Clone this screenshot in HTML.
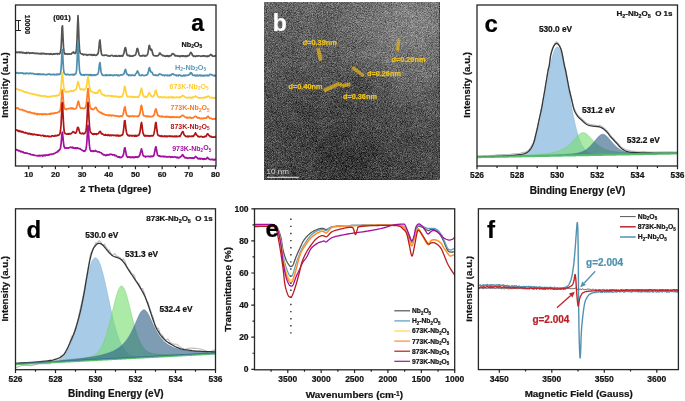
<!DOCTYPE html>
<html><head><meta charset="utf-8"><style>
html,body{margin:0;padding:0;background:#fff;}
svg{display:block;filter:blur(0.35px);}
text{font-family:"Liberation Sans", sans-serif;white-space:pre;}
</style></head><body>
<svg width="685" height="401" viewBox="0 0 685 401">
<rect width="685" height="401" fill="#fff"/>
<g clip-path="url(#clipa)">
<path d="M16.00,52.19 L16.50,52.06 L17.00,52.53 L17.50,52.04 L18.00,52.48 L18.50,52.36 L19.00,52.10 L19.50,52.53 L20.00,52.14 L20.50,52.52 L21.00,52.22 L21.50,52.26 L22.00,52.59 L22.50,52.98 L23.00,52.37 L23.50,52.49 L24.00,52.88 L24.50,53.19 L25.00,52.88 L25.50,52.75 L26.00,53.29 L26.50,52.48 L27.00,53.24 L27.50,52.75 L28.00,52.65 L28.50,52.65 L29.00,52.85 L29.50,53.33 L30.00,52.78 L30.50,53.17 L31.00,53.25 L31.50,53.03 L32.00,53.22 L32.50,52.81 L33.00,52.83 L33.50,52.99 L34.00,53.44 L34.50,53.24 L35.00,53.16 L35.50,53.43 L36.00,53.34 L36.50,53.22 L37.00,53.70 L37.50,53.64 L38.00,53.25 L38.50,53.57 L39.00,53.56 L39.50,53.90 L40.00,53.79 L40.50,53.41 L41.00,54.05 L41.50,53.29 L42.00,53.58 L42.50,53.90 L43.00,53.37 L43.50,53.69 L44.00,53.30 L44.50,53.89 L45.00,53.99 L45.50,53.83 L46.00,54.12 L46.50,53.63 L47.00,53.99 L47.50,53.92 L48.00,53.92 L48.50,53.82 L49.00,54.18 L49.50,54.29 L50.00,53.88 L50.50,54.07 L51.00,53.54 L51.50,54.13 L52.00,54.09 L52.50,54.42 L53.00,54.28 L53.50,53.80 L54.00,53.90 L54.50,54.17 L55.00,53.59 L55.50,53.99 L56.00,53.73 L56.50,53.68 L57.00,53.62 L57.50,54.24 L58.00,53.63 L58.50,53.69 L59.00,53.73 L59.50,54.02 L60.00,52.97 L60.50,52.16 L61.00,48.50 L61.50,40.16 L62.00,27.74 L62.50,25.75 L63.00,37.30 L63.50,47.13 L64.00,51.68 L64.50,53.65 L65.00,54.16 L65.50,53.62 L66.00,53.75 L66.50,53.88 L67.00,53.93 L67.50,54.20 L68.00,54.31 L68.50,54.03 L69.00,53.79 L69.50,54.13 L70.00,54.01 L70.50,54.04 L71.00,54.16 L71.50,53.62 L72.00,53.08 L72.50,52.76 L73.00,52.50 L73.50,51.94 L74.00,52.95 L74.50,53.15 L75.00,53.43 L75.50,53.32 L76.00,52.13 L76.50,48.88 L77.00,40.24 L77.50,26.65 L78.00,15.64 L78.50,26.21 L79.00,40.47 L79.50,48.92 L80.00,52.50 L80.50,53.31 L81.00,53.63 L81.50,53.95 L82.00,54.04 L82.50,54.36 L83.00,54.13 L83.50,54.95 L84.00,54.76 L84.50,54.37 L85.00,54.50 L85.50,54.61 L86.00,54.65 L86.50,54.46 L87.00,55.13 L87.50,55.28 L88.00,54.82 L88.50,54.86 L89.00,54.51 L89.50,54.54 L90.00,54.77 L90.50,54.72 L91.00,55.24 L91.50,54.66 L92.00,54.55 L92.50,55.40 L93.00,55.03 L93.50,54.70 L94.00,55.06 L94.50,54.60 L95.00,55.05 L95.50,55.44 L96.00,55.32 L96.50,55.12 L97.00,54.63 L97.50,54.46 L98.00,53.41 L98.50,51.60 L99.00,46.84 L99.50,41.27 L100.00,39.99 L100.50,45.47 L101.00,50.99 L101.50,53.95 L102.00,54.96 L102.50,55.29 L103.00,55.46 L103.50,55.47 L104.00,55.07 L104.50,55.39 L105.00,55.28 L105.50,55.02 L106.00,55.05 L106.50,55.31 L107.00,55.32 L107.50,55.73 L108.00,55.99 L108.50,55.56 L109.00,56.02 L109.50,56.09 L110.00,56.08 L110.50,55.57 L111.00,55.46 L111.50,55.48 L112.00,55.47 L112.50,55.50 L113.00,55.89 L113.50,56.16 L114.00,56.12 L114.50,55.82 L115.00,55.99 L115.50,56.12 L116.00,55.48 L116.50,56.00 L117.00,56.22 L117.50,56.10 L118.00,56.07 L118.50,55.82 L119.00,55.55 L119.50,56.09 L120.00,55.67 L120.50,56.08 L121.00,56.21 L121.50,55.67 L122.00,55.62 L122.50,56.02 L123.00,55.55 L123.50,54.33 L124.00,52.75 L124.50,50.25 L125.00,48.05 L125.50,47.55 L126.00,49.65 L126.50,52.95 L127.00,54.84 L127.50,55.40 L128.00,55.45 L128.50,55.75 L129.00,55.43 L129.50,55.35 L130.00,56.24 L130.50,55.96 L131.00,55.86 L131.50,56.22 L132.00,55.77 L132.50,56.16 L133.00,56.10 L133.50,55.53 L134.00,55.52 L134.50,55.47 L135.00,55.18 L135.50,54.88 L136.00,53.31 L136.50,51.38 L137.00,48.65 L137.50,48.39 L138.00,49.83 L138.50,52.34 L139.00,54.21 L139.50,55.48 L140.00,55.48 L140.50,56.09 L141.00,55.78 L141.50,55.84 L142.00,55.86 L142.50,55.41 L143.00,55.80 L143.50,55.56 L144.00,55.40 L144.50,56.10 L145.00,55.51 L145.50,55.75 L146.00,55.92 L146.50,55.64 L147.00,55.11 L147.50,54.44 L148.00,52.65 L148.50,49.87 L149.00,45.81 L149.50,45.47 L150.00,47.66 L150.50,49.53 L151.00,50.13 L151.50,49.31 L152.00,50.54 L152.50,52.82 L153.00,54.59 L153.50,55.10 L154.00,55.68 L154.50,55.74 L155.00,55.81 L155.50,56.01 L156.00,55.80 L156.50,55.86 L157.00,55.74 L157.50,56.00 L158.00,55.47 L158.50,55.14 L159.00,54.52 L159.50,53.18 L160.00,53.07 L160.50,53.81 L161.00,54.46 L161.50,54.51 L162.00,55.00 L162.50,55.62 L163.00,55.46 L163.50,55.70 L164.00,55.59 L164.50,56.14 L165.00,56.26 L165.50,56.37 L166.00,55.71 L166.50,56.22 L167.00,56.17 L167.50,55.70 L168.00,56.36 L168.50,56.43 L169.00,55.73 L169.50,56.33 L170.00,55.72 L170.50,55.58 L171.00,55.69 L171.50,55.07 L172.00,53.90 L172.50,53.65 L173.00,53.67 L173.50,53.96 L174.00,54.40 L174.50,55.02 L175.00,55.76 L175.50,55.37 L176.00,55.99 L176.50,55.96 L177.00,55.62 L177.50,55.92 L178.00,56.20 L178.50,56.11 L179.00,55.71 L179.50,56.55 L180.00,56.37 L180.50,56.54 L181.00,55.77 L181.50,55.91 L182.00,55.71 L182.50,56.38 L183.00,55.92 L183.50,55.80 L184.00,56.06 L184.50,56.50 L185.00,56.42 L185.50,55.91 L186.00,55.80 L186.50,56.49 L187.00,56.16 L187.50,56.25 L188.00,55.65 L188.50,55.47 L189.00,55.69 L189.50,54.79 L190.00,53.45 L190.50,53.06 L191.00,52.34 L191.50,53.40 L192.00,53.92 L192.50,55.50 L193.00,55.32 L193.50,56.29 L194.00,56.03 L194.50,55.97 L195.00,56.19 L195.50,56.54 L196.00,55.96 L196.50,55.84 L197.00,56.21 L197.50,55.96 L198.00,55.85 L198.50,55.90 L199.00,55.80 L199.50,55.94 L200.00,56.04 L200.50,56.04 L201.00,56.45 L201.50,56.03 L202.00,56.22 L202.50,55.93 L203.00,56.09 L203.50,55.79 L204.00,56.00 L204.50,55.79 L205.00,56.44 L205.50,56.28 L206.00,55.95 L206.50,56.20 L207.00,56.61 L207.50,55.85 L208.00,56.47 L208.50,56.05 L209.00,55.93 L209.50,55.90 L210.00,55.00 L210.50,54.52 L211.00,54.46 L211.50,55.18 L212.00,55.18 L212.50,56.07 L213.00,56.22 L213.50,56.29 L214.00,56.14 L214.50,56.11 L215.00,55.86 L215.50,55.93" fill="none" stroke="#555555" stroke-width="1.7" stroke-linejoin="round" stroke-linecap="round"/>
<path d="M16.00,72.56 L16.50,73.19 L17.00,72.78 L17.50,72.72 L18.00,72.68 L18.50,73.38 L19.00,73.44 L19.50,73.28 L20.00,72.96 L20.50,72.95 L21.00,73.02 L21.50,73.20 L22.00,72.95 L22.50,73.24 L23.00,73.10 L23.50,73.75 L24.00,73.79 L24.50,73.43 L25.00,73.18 L25.50,73.86 L26.00,73.29 L26.50,73.36 L27.00,73.07 L27.50,73.44 L28.00,73.55 L28.50,73.60 L29.00,73.35 L29.50,73.65 L30.00,73.23 L30.50,73.49 L31.00,73.36 L31.50,73.66 L32.00,73.36 L32.50,73.37 L33.00,73.65 L33.50,73.61 L34.00,73.96 L34.50,73.93 L35.00,74.16 L35.50,74.10 L36.00,74.18 L36.50,74.35 L37.00,73.93 L37.50,73.90 L38.00,74.52 L38.50,73.79 L39.00,74.34 L39.50,74.29 L40.00,73.78 L40.50,74.50 L41.00,74.57 L41.50,74.35 L42.00,74.46 L42.50,74.54 L43.00,73.95 L43.50,74.31 L44.00,74.31 L44.50,74.62 L45.00,74.60 L45.50,74.64 L46.00,74.43 L46.50,74.73 L47.00,74.55 L47.50,74.57 L48.00,74.17 L48.50,74.00 L49.00,74.11 L49.50,74.33 L50.00,74.11 L50.50,74.78 L51.00,74.54 L51.50,74.62 L52.00,74.63 L52.50,74.69 L53.00,74.52 L53.50,74.10 L54.00,74.82 L54.50,74.78 L55.00,74.57 L55.50,74.60 L56.00,74.71 L56.50,74.17 L57.00,74.77 L57.50,74.32 L58.00,74.13 L58.50,74.26 L59.00,74.60 L59.50,74.01 L60.00,74.19 L60.50,73.39 L61.00,69.67 L61.50,61.99 L62.00,51.23 L62.50,49.63 L63.00,60.29 L63.50,68.66 L64.00,72.71 L64.50,73.51 L65.00,73.96 L65.50,74.21 L66.00,74.75 L66.50,74.42 L67.00,74.70 L67.50,74.23 L68.00,74.30 L68.50,74.50 L69.00,74.88 L69.50,74.91 L70.00,74.90 L70.50,74.55 L71.00,74.75 L71.50,74.70 L72.00,74.69 L72.50,74.35 L73.00,75.02 L73.50,74.36 L74.00,75.00 L74.50,74.87 L75.00,73.90 L75.50,74.00 L76.00,73.44 L76.50,70.67 L77.00,62.96 L77.50,50.74 L78.00,41.68 L78.50,51.36 L79.00,62.77 L79.50,70.35 L80.00,72.87 L80.50,74.11 L81.00,74.81 L81.50,74.23 L82.00,74.95 L82.50,74.74 L83.00,75.13 L83.50,75.00 L84.00,74.61 L84.50,75.24 L85.00,74.89 L85.50,74.49 L86.00,74.49 L86.50,74.94 L87.00,74.91 L87.50,74.79 L88.00,74.65 L88.50,74.84 L89.00,74.83 L89.50,75.30 L90.00,74.56 L90.50,75.23 L91.00,75.32 L91.50,74.67 L92.00,75.40 L92.50,75.21 L93.00,75.38 L93.50,74.83 L94.00,74.90 L94.50,74.91 L95.00,75.44 L95.50,75.05 L96.00,74.82 L96.50,74.83 L97.00,74.61 L97.50,74.17 L98.00,73.50 L98.50,72.24 L99.00,68.04 L99.50,63.92 L100.00,62.58 L100.50,67.11 L101.00,71.38 L101.50,73.36 L102.00,74.42 L102.50,75.25 L103.00,75.30 L103.50,75.29 L104.00,75.17 L104.50,75.46 L105.00,75.50 L105.50,75.17 L106.00,75.34 L106.50,74.75 L107.00,75.38 L107.50,75.13 L108.00,75.41 L108.50,75.32 L109.00,75.01 L109.50,74.80 L110.00,75.60 L110.50,74.89 L111.00,75.20 L111.50,75.09 L112.00,75.06 L112.50,75.46 L113.00,75.68 L113.50,75.04 L114.00,75.40 L114.50,75.08 L115.00,75.32 L115.50,75.17 L116.00,74.97 L116.50,74.96 L117.00,75.00 L117.50,75.63 L118.00,75.26 L118.50,75.01 L119.00,75.63 L119.50,75.70 L120.00,75.20 L120.50,74.92 L121.00,74.95 L121.50,74.84 L122.00,75.04 L122.50,74.74 L123.00,74.70 L123.50,74.24 L124.00,73.49 L124.50,72.09 L125.00,70.05 L125.50,69.48 L126.00,71.27 L126.50,73.17 L127.00,74.20 L127.50,74.73 L128.00,74.70 L128.50,74.98 L129.00,75.64 L129.50,74.90 L130.00,75.25 L130.50,75.38 L131.00,75.59 L131.50,75.01 L132.00,75.06 L132.50,75.04 L133.00,75.17 L133.50,75.20 L134.00,75.63 L134.50,75.49 L135.00,75.37 L135.50,74.26 L136.00,73.55 L136.50,73.00 L137.00,71.78 L137.50,70.85 L138.00,72.05 L138.50,72.88 L139.00,74.22 L139.50,75.26 L140.00,75.41 L140.50,75.53 L141.00,75.67 L141.50,75.04 L142.00,74.92 L142.50,74.97 L143.00,75.30 L143.50,75.45 L144.00,75.67 L144.50,75.47 L145.00,75.38 L145.50,75.47 L146.00,75.15 L146.50,75.15 L147.00,74.46 L147.50,74.52 L148.00,72.73 L148.50,71.23 L149.00,68.54 L149.50,67.75 L150.00,69.51 L150.50,71.21 L151.00,72.07 L151.50,72.05 L152.00,72.20 L152.50,73.24 L153.00,74.48 L153.50,75.01 L154.00,75.05 L154.50,74.99 L155.00,75.36 L155.50,74.85 L156.00,75.12 L156.50,75.26 L157.00,75.67 L157.50,75.31 L158.00,75.38 L158.50,74.76 L159.00,74.21 L159.50,73.86 L160.00,74.31 L160.50,74.28 L161.00,74.29 L161.50,74.38 L162.00,75.06 L162.50,75.38 L163.00,75.24 L163.50,75.14 L164.00,75.53 L164.50,75.77 L165.00,75.15 L165.50,74.98 L166.00,75.26 L166.50,75.34 L167.00,75.57 L167.50,75.14 L168.00,75.67 L168.50,75.61 L169.00,75.39 L169.50,75.08 L170.00,75.70 L170.50,74.98 L171.00,75.23 L171.50,74.41 L172.00,74.07 L172.50,74.26 L173.00,73.80 L173.50,74.66 L174.00,74.60 L174.50,74.62 L175.00,74.88 L175.50,75.20 L176.00,75.51 L176.50,75.81 L177.00,75.11 L177.50,75.34 L178.00,75.19 L178.50,75.88 L179.00,75.14 L179.50,75.06 L180.00,75.07 L180.50,75.37 L181.00,75.83 L181.50,75.82 L182.00,75.68 L182.50,75.92 L183.00,75.86 L183.50,75.32 L184.00,75.19 L184.50,75.87 L185.00,75.70 L185.50,75.05 L186.00,75.61 L186.50,75.35 L187.00,75.34 L187.50,75.28 L188.00,75.09 L188.50,74.83 L189.00,74.82 L189.50,74.38 L190.00,74.16 L190.50,72.54 L191.00,72.96 L191.50,72.96 L192.00,73.96 L192.50,75.05 L193.00,75.45 L193.50,75.29 L194.00,75.02 L194.50,75.44 L195.00,75.37 L195.50,75.87 L196.00,75.23 L196.50,75.39 L197.00,75.87 L197.50,75.10 L198.00,75.44 L198.50,75.81 L199.00,75.77 L199.50,75.12 L200.00,75.12 L200.50,75.14 L201.00,75.92 L201.50,75.32 L202.00,75.77 L202.50,75.90 L203.00,75.40 L203.50,75.34 L204.00,75.96 L204.50,75.65 L205.00,75.33 L205.50,75.74 L206.00,75.38 L206.50,75.34 L207.00,75.09 L207.50,75.76 L208.00,75.89 L208.50,75.58 L209.00,75.73 L209.50,74.65 L210.00,74.46 L210.50,74.24 L211.00,74.50 L211.50,74.84 L212.00,74.77 L212.50,74.98 L213.00,75.34 L213.50,75.49 L214.00,75.93 L214.50,75.27 L215.00,75.84 L215.50,75.79" fill="none" stroke="#4f8fae" stroke-width="1.7" stroke-linejoin="round" stroke-linecap="round"/>
<path d="M16.00,89.04 L16.50,89.17 L17.00,89.20 L17.50,89.13 L18.00,89.30 L18.50,89.51 L19.00,90.07 L19.50,89.61 L20.00,89.90 L20.50,90.57 L21.00,90.29 L21.50,90.31 L22.00,90.46 L22.50,91.10 L23.00,91.07 L23.50,91.84 L24.00,91.93 L24.50,92.20 L25.00,91.73 L25.50,91.74 L26.00,91.93 L26.50,92.42 L27.00,92.74 L27.50,92.63 L28.00,92.56 L28.50,92.85 L29.00,93.16 L29.50,93.34 L30.00,93.53 L30.50,93.75 L31.00,93.71 L31.50,93.35 L32.00,94.13 L32.50,93.76 L33.00,94.13 L33.50,94.09 L34.00,94.54 L34.50,94.18 L35.00,94.35 L35.50,94.48 L36.00,94.52 L36.50,95.31 L37.00,95.16 L37.50,95.00 L38.00,95.14 L38.50,95.75 L39.00,95.39 L39.50,95.21 L40.00,95.80 L40.50,95.74 L41.00,96.11 L41.50,95.39 L42.00,95.79 L42.50,96.18 L43.00,96.27 L43.50,96.41 L44.00,95.69 L44.50,95.99 L45.00,95.91 L45.50,96.04 L46.00,96.82 L46.50,96.54 L47.00,96.93 L47.50,96.50 L48.00,97.01 L48.50,96.71 L49.00,96.51 L49.50,96.92 L50.00,97.01 L50.50,96.20 L51.00,96.58 L51.50,96.54 L52.00,96.12 L52.50,96.20 L53.00,95.93 L53.50,95.93 L54.00,95.91 L54.50,96.16 L55.00,96.14 L55.50,95.67 L56.00,95.42 L56.50,95.63 L57.00,95.86 L57.50,95.33 L58.00,95.34 L58.50,95.12 L59.00,95.33 L59.50,94.55 L60.00,93.17 L60.50,91.23 L61.00,87.58 L61.50,81.51 L62.00,74.56 L62.50,72.80 L63.00,78.84 L63.50,85.28 L64.00,88.78 L64.50,90.57 L65.00,91.29 L65.50,92.08 L66.00,91.55 L66.50,91.78 L67.00,91.56 L67.50,91.57 L68.00,91.93 L68.50,91.99 L69.00,91.35 L69.50,91.14 L70.00,91.54 L70.50,91.00 L71.00,90.74 L71.50,91.47 L72.00,90.96 L72.50,91.23 L73.00,90.77 L73.50,91.10 L74.00,90.61 L74.50,90.22 L75.00,89.90 L75.50,90.04 L76.00,89.41 L76.50,88.30 L77.00,85.45 L77.50,83.34 L78.00,81.55 L78.50,83.07 L79.00,85.17 L79.50,87.25 L80.00,88.65 L80.50,89.56 L81.00,89.00 L81.50,89.36 L82.00,89.60 L82.50,89.81 L83.00,89.16 L83.50,89.13 L84.00,89.88 L84.50,89.89 L85.00,89.33 L85.50,88.58 L86.00,88.41 L86.50,85.97 L87.00,83.25 L87.50,79.06 L88.00,76.95 L88.50,78.94 L89.00,83.74 L89.50,86.70 L90.00,89.12 L90.50,90.77 L91.00,91.42 L91.50,91.25 L92.00,91.60 L92.50,92.05 L93.00,92.43 L93.50,92.57 L94.00,92.46 L94.50,92.65 L95.00,93.15 L95.50,93.37 L96.00,92.66 L96.50,93.16 L97.00,93.31 L97.50,92.49 L98.00,92.75 L98.50,91.29 L99.00,90.63 L99.50,89.76 L100.00,90.35 L100.50,91.42 L101.00,92.74 L101.50,93.75 L102.00,94.15 L102.50,94.70 L103.00,94.76 L103.50,94.97 L104.00,94.80 L104.50,95.54 L105.00,95.62 L105.50,95.44 L106.00,95.96 L106.50,96.02 L107.00,95.77 L107.50,95.56 L108.00,95.87 L108.50,95.58 L109.00,95.64 L109.50,95.95 L110.00,95.69 L110.50,96.05 L111.00,96.15 L111.50,95.76 L112.00,96.34 L112.50,95.88 L113.00,96.51 L113.50,96.58 L114.00,96.38 L114.50,96.01 L115.00,96.45 L115.50,96.37 L116.00,96.93 L116.50,96.23 L117.00,96.91 L117.50,97.07 L118.00,96.86 L118.50,96.97 L119.00,96.43 L119.50,97.17 L120.00,96.74 L120.50,97.13 L121.00,97.05 L121.50,96.30 L122.00,96.66 L122.50,96.30 L123.00,94.42 L123.50,92.64 L124.00,90.04 L124.50,86.40 L125.00,86.65 L125.50,88.96 L126.00,92.55 L126.50,94.20 L127.00,95.80 L127.50,96.77 L128.00,96.37 L128.50,96.52 L129.00,96.80 L129.50,96.67 L130.00,96.44 L130.50,96.59 L131.00,96.59 L131.50,97.30 L132.00,97.08 L132.50,97.29 L133.00,96.64 L133.50,97.20 L134.00,96.60 L134.50,96.98 L135.00,97.07 L135.50,96.82 L136.00,97.27 L136.50,96.97 L137.00,96.98 L137.50,97.22 L138.00,96.46 L138.50,97.13 L139.00,96.47 L139.50,95.48 L140.00,94.34 L140.50,91.57 L141.00,89.59 L141.50,88.22 L142.00,90.04 L142.50,93.03 L143.00,94.74 L143.50,95.68 L144.00,96.76 L144.50,96.36 L145.00,97.14 L145.50,96.65 L146.00,96.97 L146.50,97.18 L147.00,96.58 L147.50,96.19 L148.00,95.16 L148.50,93.94 L149.00,93.03 L149.50,92.82 L150.00,93.91 L150.50,94.74 L151.00,95.67 L151.50,96.62 L152.00,96.30 L152.50,96.53 L153.00,96.89 L153.50,96.06 L154.00,95.37 L154.50,94.41 L155.00,92.31 L155.50,90.58 L156.00,90.20 L156.50,92.36 L157.00,94.35 L157.50,95.44 L158.00,96.64 L158.50,96.88 L159.00,96.74 L159.50,97.53 L160.00,96.95 L160.50,96.89 L161.00,96.87 L161.50,97.37 L162.00,97.60 L162.50,97.53 L163.00,97.20 L163.50,97.09 L164.00,96.87 L164.50,97.45 L165.00,97.38 L165.50,97.20 L166.00,97.47 L166.50,97.30 L167.00,97.75 L167.50,97.57 L168.00,97.14 L168.50,97.74 L169.00,96.97 L169.50,97.42 L170.00,97.31 L170.50,97.16 L171.00,97.01 L171.50,97.66 L172.00,96.98 L172.50,97.47 L173.00,97.82 L173.50,97.11 L174.00,97.16 L174.50,97.53 L175.00,97.45 L175.50,97.57 L176.00,97.73 L176.50,97.16 L177.00,97.28 L177.50,97.27 L178.00,97.04 L178.50,97.78 L179.00,97.66 L179.50,97.54 L180.00,96.78 L180.50,97.33 L181.00,96.92 L181.50,96.26 L182.00,96.06 L182.50,95.51 L183.00,95.45 L183.50,95.77 L184.00,96.33 L184.50,96.53 L185.00,97.06 L185.50,97.59 L186.00,97.63 L186.50,97.81 L187.00,97.72 L187.50,97.33 L188.00,97.60 L188.50,97.51 L189.00,97.83 L189.50,97.60 L190.00,97.37 L190.50,97.71 L191.00,98.00 L191.50,97.32 L192.00,97.89 L192.50,97.05 L193.00,97.16 L193.50,96.95 L194.00,97.14 L194.50,96.99 L195.00,96.50 L195.50,96.02 L196.00,96.75 L196.50,96.60 L197.00,96.84 L197.50,97.69 L198.00,97.60 L198.50,97.76 L199.00,97.78 L199.50,98.10 L200.00,97.65 L200.50,98.00 L201.00,97.88 L201.50,98.03 L202.00,97.66 L202.50,97.92 L203.00,97.78 L203.50,97.54 L204.00,97.45 L204.50,97.80 L205.00,97.26 L205.50,97.91 L206.00,97.05 L206.50,96.69 L207.00,96.44 L207.50,96.86 L208.00,96.17 L208.50,96.16 L209.00,96.40 L209.50,96.74 L210.00,97.59 L210.50,97.72 L211.00,97.88 L211.50,97.98 L212.00,97.41 L212.50,97.90 L213.00,97.71 L213.50,98.13 L214.00,98.14 L214.50,98.21 L215.00,97.48 L215.50,98.21" fill="none" stroke="#ffd23a" stroke-width="1.7" stroke-linejoin="round" stroke-linecap="round"/>
<path d="M16.00,108.22 L16.50,108.43 L17.00,107.85 L17.50,108.12 L18.00,108.21 L18.50,108.32 L19.00,109.23 L19.50,109.37 L20.00,109.39 L20.50,109.74 L21.00,109.74 L21.50,109.61 L22.00,109.62 L22.50,109.79 L23.00,110.56 L23.50,110.24 L24.00,110.52 L24.50,110.79 L25.00,110.61 L25.50,111.00 L26.00,111.20 L26.50,111.71 L27.00,111.53 L27.50,111.61 L28.00,112.32 L28.50,112.03 L29.00,112.47 L29.50,112.39 L30.00,111.99 L30.50,112.46 L31.00,112.61 L31.50,113.04 L32.00,112.78 L32.50,113.23 L33.00,113.21 L33.50,113.04 L34.00,113.75 L34.50,113.18 L35.00,113.97 L35.50,113.51 L36.00,113.48 L36.50,113.79 L37.00,114.42 L37.50,114.62 L38.00,113.74 L38.50,114.18 L39.00,114.18 L39.50,114.45 L40.00,113.90 L40.50,114.18 L41.00,114.05 L41.50,114.48 L42.00,113.97 L42.50,114.58 L43.00,113.99 L43.50,113.92 L44.00,114.36 L44.50,114.18 L45.00,113.83 L45.50,114.30 L46.00,113.80 L46.50,114.43 L47.00,114.35 L47.50,114.43 L48.00,114.28 L48.50,114.04 L49.00,114.01 L49.50,113.91 L50.00,114.27 L50.50,113.46 L51.00,114.10 L51.50,113.23 L52.00,113.31 L52.50,113.27 L53.00,113.75 L53.50,113.30 L54.00,113.10 L54.50,113.46 L55.00,112.78 L55.50,112.88 L56.00,112.84 L56.50,112.94 L57.00,112.82 L57.50,112.60 L58.00,112.20 L58.50,112.02 L59.00,111.60 L59.50,111.77 L60.00,110.74 L60.50,108.87 L61.00,104.38 L61.50,98.24 L62.00,91.31 L62.50,89.93 L63.00,95.92 L63.50,102.59 L64.00,107.03 L64.50,108.33 L65.00,108.90 L65.50,109.10 L66.00,109.46 L66.50,109.53 L67.00,108.82 L67.50,108.72 L68.00,108.70 L68.50,108.65 L69.00,108.71 L69.50,108.26 L70.00,108.28 L70.50,108.02 L71.00,108.60 L71.50,108.46 L72.00,107.99 L72.50,108.85 L73.00,108.15 L73.50,108.48 L74.00,109.09 L74.50,108.98 L75.00,108.95 L75.50,108.64 L76.00,108.18 L76.50,107.77 L77.00,105.84 L77.50,103.85 L78.00,101.85 L78.50,101.19 L79.00,103.41 L79.50,105.82 L80.00,107.20 L80.50,107.84 L81.00,108.29 L81.50,108.23 L82.00,107.94 L82.50,108.40 L83.00,108.23 L83.50,108.53 L84.00,108.65 L84.50,108.14 L85.00,108.05 L85.50,107.60 L86.00,105.80 L86.50,102.57 L87.00,98.09 L87.50,92.16 L88.00,88.49 L88.50,92.12 L89.00,98.46 L89.50,103.34 L90.00,106.49 L90.50,107.94 L91.00,108.54 L91.50,109.17 L92.00,108.88 L92.50,109.28 L93.00,109.65 L93.50,109.50 L94.00,109.16 L94.50,108.36 L95.00,107.91 L95.50,107.39 L96.00,107.57 L96.50,108.22 L97.00,109.43 L97.50,110.51 L98.00,110.50 L98.50,111.41 L99.00,111.89 L99.50,111.84 L100.00,112.21 L100.50,112.91 L101.00,112.32 L101.50,113.03 L102.00,112.94 L102.50,113.75 L103.00,114.15 L103.50,114.02 L104.00,113.89 L104.50,114.57 L105.00,114.79 L105.50,115.00 L106.00,114.88 L106.50,115.05 L107.00,115.28 L107.50,115.06 L108.00,115.02 L108.50,115.56 L109.00,114.95 L109.50,115.44 L110.00,115.23 L110.50,115.62 L111.00,115.10 L111.50,115.93 L112.00,115.42 L112.50,115.21 L113.00,115.46 L113.50,115.63 L114.00,115.34 L114.50,115.75 L115.00,115.81 L115.50,116.11 L116.00,115.86 L116.50,115.83 L117.00,115.85 L117.50,116.36 L118.00,116.59 L118.50,116.26 L119.00,116.03 L119.50,116.60 L120.00,116.26 L120.50,116.07 L121.00,115.95 L121.50,116.46 L122.00,116.30 L122.50,115.70 L123.00,114.54 L123.50,112.77 L124.00,109.76 L124.50,107.61 L125.00,106.68 L125.50,109.53 L126.00,112.52 L126.50,114.55 L127.00,115.40 L127.50,115.77 L128.00,116.22 L128.50,115.93 L129.00,116.61 L129.50,116.21 L130.00,116.68 L130.50,116.17 L131.00,116.27 L131.50,116.17 L132.00,116.33 L132.50,116.12 L133.00,115.95 L133.50,116.60 L134.00,116.20 L134.50,116.16 L135.00,116.20 L135.50,116.35 L136.00,116.29 L136.50,116.46 L137.00,116.45 L137.50,116.14 L138.00,116.57 L138.50,116.33 L139.00,115.18 L139.50,114.87 L140.00,113.02 L140.50,109.97 L141.00,106.02 L141.50,105.37 L142.00,107.77 L142.50,110.56 L143.00,113.11 L143.50,115.48 L144.00,115.94 L144.50,115.87 L145.00,115.86 L145.50,115.96 L146.00,116.07 L146.50,116.59 L147.00,116.22 L147.50,116.06 L148.00,116.74 L148.50,116.65 L149.00,116.09 L149.50,116.74 L150.00,116.48 L150.50,116.63 L151.00,116.51 L151.50,116.69 L152.00,116.57 L152.50,116.55 L153.00,115.83 L153.50,115.92 L154.00,114.97 L154.50,113.68 L155.00,111.25 L155.50,109.39 L156.00,108.79 L156.50,110.61 L157.00,112.84 L157.50,114.39 L158.00,115.64 L158.50,115.67 L159.00,116.21 L159.50,116.00 L160.00,116.35 L160.50,116.40 L161.00,116.48 L161.50,116.81 L162.00,116.07 L162.50,116.85 L163.00,116.55 L163.50,116.66 L164.00,116.78 L164.50,116.96 L165.00,116.57 L165.50,116.63 L166.00,117.15 L166.50,116.37 L167.00,116.90 L167.50,116.93 L168.00,116.40 L168.50,116.95 L169.00,117.04 L169.50,117.28 L170.00,116.77 L170.50,117.37 L171.00,116.97 L171.50,116.97 L172.00,117.37 L172.50,116.61 L173.00,117.25 L173.50,117.18 L174.00,116.95 L174.50,117.44 L175.00,117.01 L175.50,117.13 L176.00,117.20 L176.50,117.43 L177.00,116.95 L177.50,117.16 L178.00,117.16 L178.50,117.28 L179.00,117.51 L179.50,116.97 L180.00,117.32 L180.50,116.69 L181.00,116.40 L181.50,115.69 L182.00,115.35 L182.50,115.43 L183.00,115.34 L183.50,116.02 L184.00,116.18 L184.50,116.65 L185.00,116.97 L185.50,117.45 L186.00,117.62 L186.50,117.83 L187.00,117.21 L187.50,117.86 L188.00,118.03 L188.50,117.75 L189.00,117.33 L189.50,117.58 L190.00,117.33 L190.50,117.52 L191.00,118.19 L191.50,117.91 L192.00,117.93 L192.50,117.99 L193.00,117.97 L193.50,117.46 L194.00,117.13 L194.50,116.71 L195.00,116.37 L195.50,116.16 L196.00,116.56 L196.50,116.61 L197.00,117.47 L197.50,117.62 L198.00,118.13 L198.50,117.68 L199.00,117.84 L199.50,117.76 L200.00,118.46 L200.50,118.62 L201.00,118.41 L201.50,118.18 L202.00,118.61 L202.50,118.60 L203.00,118.42 L203.50,118.16 L204.00,118.20 L204.50,118.30 L205.00,118.15 L205.50,118.14 L206.00,118.11 L206.50,118.06 L207.00,116.86 L207.50,116.89 L208.00,116.22 L208.50,116.53 L209.00,117.63 L209.50,117.87 L210.00,118.55 L210.50,118.38 L211.00,118.15 L211.50,118.59 L212.00,118.83 L212.50,119.18 L213.00,119.25 L213.50,118.83 L214.00,118.80 L214.50,118.55 L215.00,119.06 L215.50,118.70" fill="none" stroke="#ff7a22" stroke-width="1.7" stroke-linejoin="round" stroke-linecap="round"/>
<path d="M16.00,129.95 L16.50,129.96 L17.00,130.08 L17.50,130.83 L18.00,130.45 L18.50,131.35 L19.00,130.69 L19.50,131.53 L20.00,130.99 L20.50,131.02 L21.00,131.79 L21.50,131.49 L22.00,132.07 L22.50,131.71 L23.00,131.72 L23.50,132.50 L24.00,132.58 L24.50,132.84 L25.00,132.86 L25.50,132.42 L26.00,133.04 L26.50,133.25 L27.00,133.15 L27.50,133.71 L28.00,133.23 L28.50,134.01 L29.00,133.92 L29.50,133.42 L30.00,133.55 L30.50,134.19 L31.00,134.40 L31.50,133.80 L32.00,134.07 L32.50,134.51 L33.00,134.06 L33.50,134.75 L34.00,134.47 L34.50,134.15 L35.00,134.49 L35.50,134.74 L36.00,134.68 L36.50,134.96 L37.00,134.54 L37.50,135.19 L38.00,134.86 L38.50,135.17 L39.00,135.22 L39.50,135.09 L40.00,135.13 L40.50,135.55 L41.00,135.75 L41.50,135.67 L42.00,135.54 L42.50,135.35 L43.00,135.20 L43.50,136.09 L44.00,135.90 L44.50,136.08 L45.00,135.69 L45.50,136.00 L46.00,136.39 L46.50,136.32 L47.00,136.18 L47.50,135.97 L48.00,136.14 L48.50,136.61 L49.00,136.21 L49.50,136.55 L50.00,136.53 L50.50,136.73 L51.00,136.58 L51.50,136.05 L52.00,135.72 L52.50,135.89 L53.00,135.96 L53.50,136.04 L54.00,136.17 L54.50,136.16 L55.00,135.32 L55.50,135.95 L56.00,135.84 L56.50,135.80 L57.00,135.43 L57.50,135.04 L58.00,135.43 L58.50,135.22 L59.00,134.89 L59.50,134.73 L60.00,133.36 L60.50,130.75 L61.00,125.63 L61.50,116.13 L62.00,103.95 L62.50,102.67 L63.00,113.72 L63.50,123.42 L64.00,129.99 L64.50,132.78 L65.00,133.52 L65.50,133.58 L66.00,133.74 L66.50,134.22 L67.00,134.27 L67.50,133.96 L68.00,133.59 L68.50,134.20 L69.00,134.12 L69.50,133.57 L70.00,133.79 L70.50,134.00 L71.00,133.82 L71.50,133.21 L72.00,132.76 L72.50,132.36 L73.00,131.59 L73.50,131.63 L74.00,132.04 L74.50,132.95 L75.00,132.95 L75.50,133.17 L76.00,132.65 L76.50,131.78 L77.00,129.81 L77.50,127.66 L78.00,127.30 L78.50,127.96 L79.00,129.79 L79.50,131.93 L80.00,133.10 L80.50,133.04 L81.00,133.64 L81.50,133.49 L82.00,133.66 L82.50,133.20 L83.00,133.18 L83.50,133.99 L84.00,133.80 L84.50,133.32 L85.00,133.14 L85.50,132.23 L86.00,130.95 L86.50,126.47 L87.00,119.30 L87.50,108.80 L88.00,102.24 L88.50,108.98 L89.00,118.69 L89.50,126.13 L90.00,130.44 L90.50,132.20 L91.00,132.78 L91.50,133.04 L92.00,133.66 L92.50,134.06 L93.00,133.77 L93.50,134.28 L94.00,134.31 L94.50,133.60 L95.00,134.12 L95.50,133.97 L96.00,133.74 L96.50,134.50 L97.00,133.82 L97.50,133.96 L98.00,133.74 L98.50,133.55 L99.00,132.64 L99.50,131.69 L100.00,131.38 L100.50,131.55 L101.00,133.05 L101.50,133.80 L102.00,133.66 L102.50,133.85 L103.00,134.26 L103.50,134.48 L104.00,135.05 L104.50,135.12 L105.00,135.11 L105.50,134.45 L106.00,135.16 L106.50,135.13 L107.00,135.12 L107.50,135.47 L108.00,134.68 L108.50,134.80 L109.00,135.39 L109.50,135.60 L110.00,135.40 L110.50,135.10 L111.00,135.40 L111.50,135.59 L112.00,135.05 L112.50,135.28 L113.00,135.26 L113.50,135.18 L114.00,135.54 L114.50,135.29 L115.00,135.39 L115.50,135.31 L116.00,135.79 L116.50,135.19 L117.00,135.83 L117.50,135.35 L118.00,135.20 L118.50,136.00 L119.00,135.35 L119.50,135.98 L120.00,135.89 L120.50,135.87 L121.00,135.14 L121.50,135.32 L122.00,134.78 L122.50,134.94 L123.00,133.42 L123.50,130.36 L124.00,125.79 L124.50,120.89 L125.00,120.67 L125.50,124.82 L126.00,129.61 L126.50,132.38 L127.00,134.15 L127.50,134.73 L128.00,135.60 L128.50,135.58 L129.00,135.28 L129.50,135.98 L130.00,135.48 L130.50,135.64 L131.00,135.43 L131.50,135.55 L132.00,136.07 L132.50,135.63 L133.00,135.49 L133.50,135.79 L134.00,135.63 L134.50,136.16 L135.00,135.45 L135.50,136.22 L136.00,135.38 L136.50,136.12 L137.00,135.89 L137.50,135.43 L138.00,135.60 L138.50,135.27 L139.00,134.82 L139.50,133.70 L140.00,131.61 L140.50,128.56 L141.00,124.24 L141.50,122.49 L142.00,125.14 L142.50,129.55 L143.00,133.19 L143.50,134.15 L144.00,135.52 L144.50,135.43 L145.00,136.17 L145.50,135.37 L146.00,136.13 L146.50,135.74 L147.00,135.58 L147.50,135.48 L148.00,136.24 L148.50,135.97 L149.00,135.67 L149.50,135.89 L150.00,136.32 L150.50,135.69 L151.00,135.99 L151.50,135.57 L152.00,135.57 L152.50,136.01 L153.00,135.77 L153.50,134.79 L154.00,133.43 L154.50,130.93 L155.00,127.54 L155.50,123.24 L156.00,122.47 L156.50,126.32 L157.00,130.76 L157.50,133.65 L158.00,135.23 L158.50,135.67 L159.00,135.57 L159.50,135.56 L160.00,136.22 L160.50,135.98 L161.00,136.30 L161.50,135.72 L162.00,136.43 L162.50,136.02 L163.00,136.49 L163.50,136.52 L164.00,136.20 L164.50,135.79 L165.00,136.60 L165.50,136.22 L166.00,136.59 L166.50,136.05 L167.00,135.99 L167.50,136.58 L168.00,136.17 L168.50,135.99 L169.00,136.18 L169.50,136.39 L170.00,135.87 L170.50,136.34 L171.00,136.28 L171.50,136.35 L172.00,136.00 L172.50,136.54 L173.00,136.63 L173.50,136.68 L174.00,136.20 L174.50,136.55 L175.00,136.26 L175.50,136.59 L176.00,135.97 L176.50,136.70 L177.00,136.77 L177.50,136.35 L178.00,136.36 L178.50,136.36 L179.00,136.34 L179.50,135.80 L180.00,136.46 L180.50,135.40 L181.00,134.63 L181.50,133.46 L182.00,132.26 L182.50,131.80 L183.00,131.57 L183.50,132.95 L184.00,134.73 L184.50,135.17 L185.00,135.54 L185.50,136.33 L186.00,136.42 L186.50,136.43 L187.00,136.62 L187.50,136.11 L188.00,136.81 L188.50,136.69 L189.00,136.09 L189.50,136.17 L190.00,136.51 L190.50,136.51 L191.00,136.31 L191.50,136.17 L192.00,136.40 L192.50,136.11 L193.00,136.40 L193.50,136.36 L194.00,135.21 L194.50,134.83 L195.00,134.05 L195.50,132.86 L196.00,133.79 L196.50,134.81 L197.00,135.19 L197.50,135.84 L198.00,136.59 L198.50,136.50 L199.00,136.46 L199.50,137.00 L200.00,136.87 L200.50,136.49 L201.00,136.42 L201.50,136.51 L202.00,136.61 L202.50,137.10 L203.00,136.94 L203.50,137.04 L204.00,136.94 L204.50,136.93 L205.00,136.13 L205.50,136.35 L206.00,136.35 L206.50,135.72 L207.00,134.32 L207.50,133.80 L208.00,134.09 L208.50,134.60 L209.00,135.53 L209.50,135.70 L210.00,136.39 L210.50,136.64 L211.00,136.29 L211.50,136.44 L212.00,137.21 L212.50,137.05 L213.00,137.21 L213.50,136.95 L214.00,137.12 L214.50,137.20 L215.00,137.21 L215.50,136.45" fill="none" stroke="#b21515" stroke-width="1.7" stroke-linejoin="round" stroke-linecap="round"/>
<path d="M16.00,149.70 L16.50,149.56 L17.00,150.12 L17.50,149.94 L18.00,150.37 L18.50,150.91 L19.00,150.83 L19.50,150.68 L20.00,151.11 L20.50,151.23 L21.00,151.88 L21.50,151.47 L22.00,151.68 L22.50,152.18 L23.00,151.89 L23.50,152.51 L24.00,153.03 L24.50,152.82 L25.00,152.79 L25.50,153.09 L26.00,153.27 L26.50,153.04 L27.00,153.14 L27.50,153.27 L28.00,153.53 L28.50,153.76 L29.00,153.77 L29.50,153.85 L30.00,153.83 L30.50,154.36 L31.00,154.75 L31.50,154.66 L32.00,154.75 L32.50,154.94 L33.00,154.66 L33.50,155.24 L34.00,155.13 L34.50,155.33 L35.00,155.51 L35.50,155.50 L36.00,155.48 L36.50,155.54 L37.00,155.64 L37.50,155.87 L38.00,155.73 L38.50,155.88 L39.00,155.33 L39.50,155.61 L40.00,156.04 L40.50,155.44 L41.00,155.70 L41.50,155.61 L42.00,155.39 L42.50,156.00 L43.00,155.34 L43.50,155.74 L44.00,155.16 L44.50,155.04 L45.00,155.74 L45.50,155.32 L46.00,154.95 L46.50,155.21 L47.00,155.23 L47.50,155.37 L48.00,154.68 L48.50,154.66 L49.00,155.20 L49.50,154.88 L50.00,154.23 L50.50,154.27 L51.00,154.16 L51.50,154.33 L52.00,154.15 L52.50,154.24 L53.00,154.08 L53.50,153.68 L54.00,153.76 L54.50,153.49 L55.00,153.23 L55.50,152.70 L56.00,152.71 L56.50,152.36 L57.00,152.26 L57.50,151.26 L58.00,151.63 L58.50,150.46 L59.00,150.73 L59.50,150.08 L60.00,149.24 L60.50,148.10 L61.00,144.52 L61.50,139.14 L62.00,133.21 L62.50,132.25 L63.00,137.68 L63.50,142.85 L64.00,146.12 L64.50,147.48 L65.00,148.16 L65.50,147.88 L66.00,147.97 L66.50,148.09 L67.00,147.89 L67.50,147.78 L68.00,148.14 L68.50,148.13 L69.00,147.74 L69.50,147.62 L70.00,147.30 L70.50,147.33 L71.00,147.11 L71.50,147.56 L72.00,147.63 L72.50,147.25 L73.00,148.06 L73.50,147.59 L74.00,148.12 L74.50,148.18 L75.00,148.35 L75.50,147.73 L76.00,147.99 L76.50,148.48 L77.00,147.73 L77.50,147.82 L78.00,148.34 L78.50,148.34 L79.00,148.77 L79.50,148.70 L80.00,148.54 L80.50,149.34 L81.00,149.30 L81.50,149.69 L82.00,150.22 L82.50,150.33 L83.00,150.67 L83.50,151.24 L84.00,150.98 L84.50,151.36 L85.00,150.88 L85.50,150.28 L86.00,148.66 L86.50,145.88 L87.00,139.81 L87.50,131.20 L88.00,125.37 L88.50,131.54 L89.00,140.43 L89.50,146.15 L90.00,149.19 L90.50,150.55 L91.00,151.32 L91.50,150.91 L92.00,151.11 L92.50,151.37 L93.00,150.77 L93.50,150.87 L94.00,151.43 L94.50,151.25 L95.00,150.91 L95.50,150.50 L96.00,151.20 L96.50,151.22 L97.00,151.54 L97.50,151.90 L98.00,152.01 L98.50,151.79 L99.00,151.75 L99.50,152.07 L100.00,152.46 L100.50,152.76 L101.00,152.77 L101.50,153.06 L102.00,153.76 L102.50,154.04 L103.00,154.11 L103.50,154.98 L104.00,154.96 L104.50,154.72 L105.00,155.27 L105.50,155.53 L106.00,155.02 L106.50,155.28 L107.00,154.58 L107.50,154.77 L108.00,155.17 L108.50,154.86 L109.00,154.85 L109.50,154.34 L110.00,154.53 L110.50,154.50 L111.00,154.16 L111.50,154.42 L112.00,154.45 L112.50,155.07 L113.00,154.88 L113.50,154.93 L114.00,154.87 L114.50,155.09 L115.00,155.83 L115.50,155.44 L116.00,155.62 L116.50,155.88 L117.00,156.39 L117.50,156.85 L118.00,156.85 L118.50,157.21 L119.00,156.72 L119.50,156.86 L120.00,157.72 L120.50,157.28 L121.00,157.58 L121.50,157.17 L122.00,156.85 L122.50,156.55 L123.00,155.47 L123.50,154.39 L124.00,151.32 L124.50,148.10 L125.00,147.75 L125.50,150.47 L126.00,153.06 L126.50,155.80 L127.00,156.57 L127.50,157.34 L128.00,157.03 L128.50,157.25 L129.00,156.94 L129.50,156.77 L130.00,157.57 L130.50,157.50 L131.00,157.01 L131.50,157.53 L132.00,157.44 L132.50,156.97 L133.00,157.23 L133.50,157.53 L134.00,157.10 L134.50,157.49 L135.00,156.83 L135.50,156.95 L136.00,157.22 L136.50,156.74 L137.00,156.79 L137.50,157.25 L138.00,156.84 L138.50,157.01 L139.00,156.25 L139.50,155.56 L140.00,154.44 L140.50,152.20 L141.00,150.41 L141.50,148.82 L142.00,150.98 L142.50,152.98 L143.00,155.11 L143.50,155.94 L144.00,156.37 L144.50,156.22 L145.00,156.32 L145.50,156.98 L146.00,156.56 L146.50,156.46 L147.00,156.41 L147.50,156.48 L148.00,156.43 L148.50,156.23 L149.00,156.78 L149.50,156.47 L150.00,156.28 L150.50,156.75 L151.00,156.17 L151.50,156.29 L152.00,156.74 L152.50,156.03 L153.00,156.16 L153.50,156.12 L154.00,155.17 L154.50,152.78 L155.00,150.18 L155.50,147.50 L156.00,146.76 L156.50,150.06 L157.00,152.27 L157.50,154.93 L158.00,155.57 L158.50,155.76 L159.00,156.12 L159.50,155.89 L160.00,156.43 L160.50,156.09 L161.00,156.72 L161.50,156.48 L162.00,156.33 L162.50,156.26 L163.00,156.62 L163.50,156.30 L164.00,156.93 L164.50,156.29 L165.00,156.67 L165.50,156.73 L166.00,156.52 L166.50,157.01 L167.00,156.69 L167.50,156.97 L168.00,156.92 L168.50,156.72 L169.00,156.82 L169.50,156.58 L170.00,156.69 L170.50,157.33 L171.00,156.88 L171.50,157.22 L172.00,156.75 L172.50,157.19 L173.00,157.04 L173.50,157.19 L174.00,157.04 L174.50,156.86 L175.00,157.11 L175.50,157.06 L176.00,157.00 L176.50,157.56 L177.00,157.19 L177.50,157.33 L178.00,157.80 L178.50,157.70 L179.00,157.80 L179.50,157.77 L180.00,157.03 L180.50,156.94 L181.00,156.31 L181.50,156.26 L182.00,155.47 L182.50,154.64 L183.00,155.01 L183.50,156.05 L184.00,156.86 L184.50,157.01 L185.00,157.89 L185.50,157.63 L186.00,157.98 L186.50,157.64 L187.00,157.63 L187.50,158.38 L188.00,158.26 L188.50,158.27 L189.00,157.70 L189.50,157.73 L190.00,157.87 L190.50,157.93 L191.00,158.05 L191.50,158.15 L192.00,157.85 L192.50,158.10 L193.00,158.35 L193.50,157.81 L194.00,158.14 L194.50,157.48 L195.00,157.11 L195.50,156.34 L196.00,156.72 L196.50,157.50 L197.00,157.72 L197.50,157.79 L198.00,158.78 L198.50,158.86 L199.00,158.50 L199.50,158.33 L200.00,159.10 L200.50,158.91 L201.00,158.44 L201.50,158.65 L202.00,158.56 L202.50,159.20 L203.00,158.71 L203.50,159.37 L204.00,159.24 L204.50,158.66 L205.00,159.19 L205.50,158.84 L206.00,158.99 L206.50,158.79 L207.00,157.93 L207.50,157.45 L208.00,158.30 L208.50,158.23 L209.00,159.10 L209.50,159.21 L210.00,159.46 L210.50,159.66 L211.00,159.55 L211.50,159.44 L212.00,159.12 L212.50,159.74 L213.00,159.53 L213.50,159.64 L214.00,160.05 L214.50,159.36 L215.00,159.96 L215.50,159.35" fill="none" stroke="#a3109f" stroke-width="1.7" stroke-linejoin="round" stroke-linecap="round"/>
</g>
<clipPath id="clipa"><rect x="15.5" y="5.0" width="200.5" height="161.0"/></clipPath>
<rect x="15.5" y="5.0" width="200.5" height="161.0" fill="none" stroke="#262626" stroke-width="1.3"/>
<path d="M28.74,166 v3.2 M55.42,166 v3.2 M82.10,166 v3.2 M108.78,166 v3.2 M135.46,166 v3.2 M162.14,166 v3.2 M188.82,166 v3.2 M215.50,166 v3.2" stroke="#222" stroke-width="1.2"/>
<path d="M42.08,166 v2.0 M68.76,166 v2.0 M95.44,166 v2.0 M122.12,166 v2.0 M148.80,166 v2.0 M175.48,166 v2.0 M202.16,166 v2.0" stroke="#222" stroke-width="1.2"/>
<text x="28.7" y="177.1" font-size="8.0" fill="#141414" text-anchor="middle" font-weight="bold" stroke="#141414" stroke-width="0.22">10</text>
<text x="55.4" y="177.1" font-size="8.0" fill="#141414" text-anchor="middle" font-weight="bold" stroke="#141414" stroke-width="0.22">20</text>
<text x="82.1" y="177.1" font-size="8.0" fill="#141414" text-anchor="middle" font-weight="bold" stroke="#141414" stroke-width="0.22">30</text>
<text x="108.8" y="177.1" font-size="8.0" fill="#141414" text-anchor="middle" font-weight="bold" stroke="#141414" stroke-width="0.22">40</text>
<text x="135.5" y="177.1" font-size="8.0" fill="#141414" text-anchor="middle" font-weight="bold" stroke="#141414" stroke-width="0.22">50</text>
<text x="162.1" y="177.1" font-size="8.0" fill="#141414" text-anchor="middle" font-weight="bold" stroke="#141414" stroke-width="0.22">60</text>
<text x="188.8" y="177.1" font-size="8.0" fill="#141414" text-anchor="middle" font-weight="bold" stroke="#141414" stroke-width="0.22">70</text>
<text x="215.5" y="177.1" font-size="8.0" fill="#141414" text-anchor="middle" font-weight="bold" stroke="#141414" stroke-width="0.22">80</text>
<text x="115.6" y="191.8" font-size="9.95" fill="#141414" text-anchor="middle" font-weight="bold" stroke="#141414" stroke-width="0.22">2 Theta (dgree)</text>
<text x="8.4" y="85" font-size="9.7" fill="#141414" text-anchor="middle" font-weight="bold" transform="rotate(-90 8.4 85)" stroke="#141414" stroke-width="0.22">Intensity (a.u.)</text>
<text x="191.2" y="31.4" font-size="23" fill="#000" text-anchor="start" font-weight="bold" stroke="#000" stroke-width="0.22">a</text>
<path d="M16,20.5 h5 M18.5,20.5 V30.5 M16,30.5 h5" stroke="#222" stroke-width="1" fill="none"/>
<text x="24.6" y="24.5" font-size="7.0" fill="#141414" text-anchor="middle" font-weight="bold" transform="rotate(90 24.6 24.5)" stroke="#141414" stroke-width="0.22">10000</text>
<text x="61.9" y="19.8" font-size="7.5" fill="#141414" text-anchor="middle" font-weight="bold" stroke="#141414" stroke-width="0.22">(001)</text>
<text x="191.8" y="46.8" font-size="7.3" fill="#141414" text-anchor="middle" font-weight="bold" stroke="#141414" stroke-width="0.22">Nb<tspan dy="0.33em" font-size="66%">2</tspan><tspan dy="-0.218em">​</tspan>O<tspan dy="0.33em" font-size="66%">5</tspan><tspan dy="-0.218em">​</tspan></text>
<text x="190.6" y="69.9" font-size="7.3" fill="#5a9bbb" text-anchor="middle" font-weight="bold" stroke="none">H<tspan dy="0.33em" font-size="66%">2</tspan><tspan dy="-0.218em">​</tspan>-Nb<tspan dy="0.33em" font-size="66%">2</tspan><tspan dy="-0.218em">​</tspan>O<tspan dy="0.33em" font-size="66%">5</tspan><tspan dy="-0.218em">​</tspan></text>
<text x="189" y="88.8" font-size="7.0" fill="#ffcc33" text-anchor="middle" font-weight="bold" stroke="none">673K-Nb<tspan dy="0.33em" font-size="66%">2</tspan><tspan dy="-0.218em">​</tspan>O<tspan dy="0.33em" font-size="66%">5</tspan><tspan dy="-0.218em">​</tspan></text>
<text x="190" y="110.0" font-size="7.0" fill="#ff7a22" text-anchor="middle" font-weight="bold" stroke="none">773K-Nb<tspan dy="0.33em" font-size="66%">2</tspan><tspan dy="-0.218em">​</tspan>O<tspan dy="0.33em" font-size="66%">5</tspan><tspan dy="-0.218em">​</tspan></text>
<text x="190" y="128.8" font-size="7.0" fill="#b21515" text-anchor="middle" font-weight="bold" stroke="none">873K-Nb<tspan dy="0.33em" font-size="66%">2</tspan><tspan dy="-0.218em">​</tspan>O<tspan dy="0.33em" font-size="66%">5</tspan><tspan dy="-0.218em">​</tspan></text>
<text x="191.7" y="150.5" font-size="7.0" fill="#a3109f" text-anchor="middle" font-weight="bold" stroke="none">973K-Nb<tspan dy="0.33em" font-size="66%">2</tspan><tspan dy="-0.218em">​</tspan>O<tspan dy="0.33em" font-size="66%">5</tspan><tspan dy="-0.218em">​</tspan></text>
<defs>
<filter id="tem" x="264" y="2" width="175.5" height="177.5" filterUnits="userSpaceOnUse" color-interpolation-filters="sRGB">
<feTurbulence type="fractalNoise" baseFrequency="1.2" numOctaves="2" seed="11" result="n0"/>
<feGaussianBlur in="n0" stdDeviation="0.35" result="n"/>
<feColorMatrix in="n" type="matrix" values="1 0 0 0 0  1 0 0 0 0  1 0 0 0 0  0 0 0 0 1" result="g"/>
<feTurbulence type="fractalNoise" baseFrequency="0.06" numOctaves="3" seed="4" result="m0"/>
<feColorMatrix in="m0" type="matrix" values="1 0 0 0 0  1 0 0 0 0  1 0 0 0 0  0 0 0 0 1" result="m"/>
<feComposite in="SourceGraphic" in2="m" operator="arithmetic" k1="0" k2="1" k3="0.1" k4="-0.05" result="s2"/>
<feComposite in="s2" in2="g" operator="arithmetic" k1="0" k2="1" k3="0.62" k4="-0.31"/>
</filter>
<linearGradient id="tv" x1="0" y1="0" x2="0" y2="1"><stop offset="0" stop-color="#666"/><stop offset="0.45" stop-color="#555"/><stop offset="1" stop-color="#464646"/></linearGradient>
<radialGradient id="tr1" cx="0.85" cy="0.12" r="0.5"><stop offset="0" stop-color="#848484"/><stop offset="1" stop-color="#848484" stop-opacity="0"/></radialGradient>
<radialGradient id="tr2" cx="0.35" cy="0.8" r="0.45"><stop offset="0" stop-color="#3c3c3c" stop-opacity="0.8"/><stop offset="1" stop-color="#3c3c3c" stop-opacity="0"/></radialGradient>
<radialGradient id="tr4" cx="0.9" cy="0.55" r="0.22"><stop offset="0" stop-color="#7a7a7a" stop-opacity="0.15"/><stop offset="1" stop-color="#7a7a7a" stop-opacity="0"/></radialGradient>
<radialGradient id="tr5" cx="0.52" cy="0.9" r="0.25"><stop offset="0" stop-color="#2c2c2c" stop-opacity="0.55"/><stop offset="1" stop-color="#2c2c2c" stop-opacity="0"/></radialGradient>
<radialGradient id="tr6" cx="0.6" cy="0.45" r="0.15"><stop offset="0" stop-color="#333" stop-opacity="0.35"/><stop offset="1" stop-color="#333" stop-opacity="0"/></radialGradient>
</defs>
<g filter="url(#tem)">
<rect x="264" y="2" width="175.5" height="177.5" fill="url(#tv)"/>
<rect x="264" y="2" width="175.5" height="177.5" fill="url(#tr1)"/>
<rect x="264" y="2" width="175.5" height="177.5" fill="url(#tr2)"/>
<rect x="264" y="2" width="175.5" height="177.5" fill="url(#tr4)"/>
<rect x="264" y="2" width="175.5" height="177.5" fill="url(#tr5)"/>
<rect x="264" y="2" width="175.5" height="177.5" fill="url(#tr6)"/>
</g>
<text x="272.7" y="31.1" font-size="23" fill="#fff" text-anchor="start" font-weight="bold" stroke="#fff" stroke-width="0.22">b</text>
<path d="M318.0,48.3 L320.9,60.5" stroke="#e2b428" stroke-width="3.8" opacity="0.8" fill="none"/>
<path d="M318.0,48.3 L320.9,60.5" stroke="#8a6a10" stroke-width="3.8" stroke-dasharray="0.7 1.4" opacity="0.35" fill="none"/>
<path d="M399.0,39.3 L397.4,50.7" stroke="#e2b428" stroke-width="3.2" opacity="0.8" fill="none"/>
<path d="M399.0,39.3 L397.4,50.7" stroke="#8a6a10" stroke-width="3.2" stroke-dasharray="0.7 1.4" opacity="0.35" fill="none"/>
<path d="M352.2,67.2 L363.8,76.0" stroke="#e2b428" stroke-width="3.4" opacity="0.8" fill="none"/>
<path d="M352.2,67.2 L363.8,76.0" stroke="#8a6a10" stroke-width="3.4" stroke-dasharray="0.7 1.4" opacity="0.35" fill="none"/>
<path d="M323.9,90.7 L339.5,83.6" stroke="#e2b428" stroke-width="3.8" opacity="0.8" fill="none"/>
<path d="M323.9,90.7 L339.5,83.6" stroke="#8a6a10" stroke-width="3.8" stroke-dasharray="0.7 1.4" opacity="0.35" fill="none"/>
<path d="M339.5,83.6 L342,86" stroke="#e2b428" stroke-width="3.6" opacity="0.8" fill="none"/>
<path d="M339.5,83.6 L342,86" stroke="#8a6a10" stroke-width="3.6" stroke-dasharray="0.7 1.4" opacity="0.35" fill="none"/>
<path d="M342,86 L350.3,84.2" stroke="#e2b428" stroke-width="3.8" opacity="0.8" fill="none"/>
<path d="M342,86 L350.3,84.2" stroke="#8a6a10" stroke-width="3.8" stroke-dasharray="0.7 1.4" opacity="0.35" fill="none"/>
<text x="302.8" y="44.6" font-size="7.3" fill="#eec21f" text-anchor="start" font-weight="bold" stroke="#eec21f" stroke-width="0.25">d=0.39nm</text>
<text x="391.5" y="62.3" font-size="7.3" fill="#eec21f" text-anchor="start" font-weight="bold" stroke="#eec21f" stroke-width="0.25">d=0.26nm</text>
<text x="367" y="76" font-size="7.3" fill="#eec21f" text-anchor="start" font-weight="bold" stroke="#eec21f" stroke-width="0.25">d=0.26nm</text>
<text x="288.6" y="88.6" font-size="7.3" fill="#eec21f" text-anchor="start" font-weight="bold" stroke="#eec21f" stroke-width="0.25">d=0.40nm</text>
<text x="343" y="99.2" font-size="7.3" fill="#eec21f" text-anchor="start" font-weight="bold" stroke="#eec21f" stroke-width="0.25">d=0.36nm</text>
<text x="266.6" y="174" font-size="8.0" fill="#d4d4d4" text-anchor="start" font-weight="normal">10 nm</text>
<path d="M266.9,177.3 H298.7" stroke="#c8c8c8" stroke-width="1.3"/>
<g clip-path="url(#clipc)">
<path d="M477.00,156.90 L477.50,156.89 L478.00,156.88 L478.50,156.87 L479.01,156.86 L479.51,156.85 L480.01,156.84 L480.51,156.84 L481.01,156.83 L481.51,156.82 L482.01,156.81 L482.51,156.80 L483.01,156.79 L483.52,156.78 L484.02,156.77 L484.52,156.76 L485.02,156.75 L485.52,156.74 L486.02,156.73 L486.52,156.72 L487.02,156.71 L487.53,156.71 L488.03,156.70 L488.53,156.69 L489.03,156.68 L489.53,156.67 L490.03,156.66 L490.53,156.65 L491.04,156.64 L491.54,156.63 L492.04,156.62 L492.54,156.61 L493.04,156.60 L493.54,156.59 L494.04,156.59 L494.54,156.58 L495.04,156.57 L495.55,156.56 L496.05,156.55 L496.55,156.54 L497.05,156.53 L497.55,156.52 L498.05,156.51 L498.55,156.50 L499.06,156.49 L499.56,156.48 L500.06,156.47 L500.56,156.46 L501.06,156.46 L501.56,156.45 L502.06,156.44 L502.56,156.43 L503.06,156.42 L503.57,156.41 L504.07,156.40 L504.57,156.39 L505.07,156.38 L505.57,156.37 L506.07,156.36 L506.57,156.35 L507.07,156.34 L507.58,156.33 L508.08,156.32 L508.58,156.31 L509.08,156.29 L509.58,156.28 L510.08,156.27 L510.58,156.26 L511.09,156.24 L511.59,156.23 L512.09,156.21 L512.59,156.20 L513.09,156.18 L513.59,156.16 L514.09,156.14 L514.59,156.11 L515.09,156.09 L515.60,156.06 L516.10,156.03 L516.60,155.99 L517.10,155.95 L517.60,155.91 L518.10,155.86 L518.60,155.81 L519.11,155.74 L519.61,155.68 L520.11,155.60 L520.61,155.51 L521.11,155.41 L521.61,155.30 L522.11,155.18 L522.61,155.04 L523.11,154.88 L523.62,154.71 L524.12,154.51 L524.62,154.29 L525.12,154.05 L525.62,153.78 L526.12,153.48 L526.62,153.15 L527.12,152.79 L527.63,152.38 L528.13,151.94 L528.63,151.45 L529.13,150.92 L529.63,150.33 L530.13,149.69 L530.63,148.99 L531.14,148.23 L531.64,147.41 L532.14,146.52 L532.64,145.56 L533.14,144.52 L533.64,143.40 L534.14,142.21 L534.64,140.93 L535.14,139.56 L535.65,138.10 L536.15,136.55 L536.65,134.91 L537.15,133.18 L537.65,131.35 L538.15,129.43 L538.65,127.41 L539.16,125.30 L539.66,123.10 L540.16,120.80 L540.66,118.42 L541.16,115.96 L541.66,113.42 L542.16,110.81 L542.66,108.13 L543.16,105.39 L543.67,102.60 L544.17,99.76 L544.67,96.88 L545.17,93.99 L545.67,91.07 L546.17,88.15 L546.67,85.24 L547.17,82.35 L547.68,79.49 L548.18,76.67 L548.68,73.90 L549.18,71.21 L549.68,68.60 L550.18,66.09 L550.68,63.68 L551.19,61.39 L551.69,59.24 L552.19,57.23 L552.69,55.37 L553.19,53.68 L553.69,52.17 L554.19,50.83 L554.69,49.69 L555.19,48.74 L555.70,48.00 L556.20,47.46 L556.70,47.14 L557.20,47.02 L557.70,47.12 L558.20,47.43 L558.70,47.94 L559.21,48.67 L559.71,49.60 L560.21,50.72 L560.71,52.04 L561.21,53.53 L561.71,55.21 L562.21,57.04 L562.71,59.03 L563.21,61.17 L563.72,63.44 L564.22,65.83 L564.72,68.32 L565.22,70.92 L565.72,73.59 L566.22,76.33 L566.72,79.13 L567.23,81.98 L567.73,84.85 L568.23,87.75 L568.73,90.65 L569.23,93.54 L569.73,96.42 L570.23,99.28 L570.73,102.10 L571.24,104.87 L571.74,107.59 L572.24,110.25 L572.74,112.85 L573.24,115.37 L573.74,117.81 L574.24,120.17 L574.74,122.45 L575.24,124.63 L575.75,126.72 L576.25,128.72 L576.75,130.63 L577.25,132.44 L577.75,134.15 L578.25,135.78 L578.75,137.31 L579.26,138.74 L579.76,140.09 L580.26,141.36 L580.76,142.53 L581.26,143.63 L581.76,144.65 L582.26,145.59 L582.76,146.47 L583.26,147.27 L583.77,148.01 L584.27,148.69 L584.77,149.31 L585.27,149.88 L585.77,150.40 L586.27,150.87 L586.77,151.29 L587.27,151.68 L587.78,152.02 L588.28,152.34 L588.78,152.62 L589.28,152.87 L589.78,153.09 L590.28,153.29 L590.78,153.47 L591.29,153.62 L591.79,153.76 L592.29,153.88 L592.79,153.99 L593.29,154.08 L593.79,154.16 L594.29,154.23 L594.79,154.29 L595.29,154.34 L595.80,154.38 L596.30,154.42 L596.80,154.45 L597.30,154.47 L597.80,154.50 L598.30,154.51 L598.80,154.53 L599.31,154.54 L599.81,154.54 L600.31,154.55 L600.81,154.55 L601.31,154.55 L601.81,154.55 L602.31,154.55 L602.81,154.55 L603.31,154.54 L603.82,154.54 L604.32,154.53 L604.82,154.53 L605.32,154.52 L605.82,154.51 L606.32,154.50 L606.82,154.50 L607.33,154.49 L607.83,154.48 L608.33,154.47 L608.83,154.46 L609.33,154.46 L609.83,154.45 L610.33,154.44 L610.83,154.43 L611.34,154.42 L611.84,154.41 L612.34,154.40 L612.84,154.39 L613.34,154.38 L613.84,154.37 L614.34,154.37 L614.84,154.36 L615.34,154.35 L615.85,154.34 L616.35,154.33 L616.85,154.32 L617.35,154.31 L617.85,154.30 L618.35,154.29 L618.85,154.28 L619.36,154.27 L619.86,154.26 L620.36,154.25 L620.86,154.25 L621.36,154.24 L621.86,154.23 L622.36,154.22 L622.86,154.21 L623.36,154.20 L623.87,154.19 L624.37,154.18 L624.87,154.17 L625.37,154.16 L625.87,154.15 L626.37,154.14 L626.87,154.13 L627.38,154.12 L627.88,154.12 L628.38,154.11 L628.88,154.10 L629.38,154.09 L629.88,154.08 L630.38,154.07 L630.88,154.06 L631.39,154.05 L631.89,154.04 L632.39,154.03 L632.89,154.02 L633.39,154.01 L633.89,154.00 L634.39,154.00 L634.89,153.99 L635.39,153.98 L635.90,153.97 L636.40,153.96 L636.90,153.95 L637.40,153.94 L637.90,153.93 L638.40,153.92 L638.90,153.91 L639.41,153.90 L639.91,153.89 L640.41,153.88 L640.91,153.88 L641.41,153.87 L641.91,153.86 L642.41,153.85 L642.91,153.84 L643.41,153.83 L643.92,153.82 L644.42,153.81 L644.92,153.80 L645.42,153.79 L645.92,153.78 L646.42,153.77 L646.92,153.76 L647.42,153.75 L647.93,153.75 L648.43,153.74 L648.93,153.73 L649.43,153.72 L649.93,153.71 L650.43,153.70 L650.93,153.69 L651.44,153.68 L651.94,153.67 L652.44,153.66 L652.94,153.65 L653.44,153.64 L653.94,153.63 L654.44,153.63 L654.94,153.62 L655.44,153.61 L655.95,153.60 L656.45,153.59 L656.95,153.58 L657.45,153.57 L657.95,153.56 L658.45,153.55 L658.95,153.54 L659.46,153.53 L659.96,153.52 L660.46,153.51 L660.96,153.51 L661.46,153.50 L661.96,153.49 L662.46,153.48 L662.96,153.47 L663.46,153.46 L663.97,153.45 L664.47,153.44 L664.97,153.43 L665.47,153.42 L665.97,153.41 L666.47,153.40 L666.97,153.39 L667.48,153.39 L667.98,153.38 L668.48,153.37 L668.98,153.36 L669.48,153.35 L669.98,153.34 L670.48,153.33 L670.98,153.32 L671.49,153.31 L671.99,153.30 L672.49,153.29 L672.99,153.28 L673.49,153.27 L673.99,153.26 L674.49,153.26 L674.99,153.25 L675.49,153.24 L676.00,153.23 L676.50,153.22 L677.00,153.21 L677.50,153.20 L677.50,153.20 L677.00,153.21 L676.50,153.22 L676.00,153.23 L675.49,153.24 L674.99,153.25 L674.49,153.26 L673.99,153.26 L673.49,153.27 L672.99,153.28 L672.49,153.29 L671.99,153.30 L671.49,153.31 L670.98,153.32 L670.48,153.33 L669.98,153.34 L669.48,153.35 L668.98,153.36 L668.48,153.37 L667.98,153.38 L667.48,153.39 L666.97,153.39 L666.47,153.40 L665.97,153.41 L665.47,153.42 L664.97,153.43 L664.47,153.44 L663.97,153.45 L663.46,153.46 L662.96,153.47 L662.46,153.48 L661.96,153.49 L661.46,153.50 L660.96,153.51 L660.46,153.51 L659.96,153.52 L659.46,153.53 L658.95,153.54 L658.45,153.55 L657.95,153.56 L657.45,153.57 L656.95,153.58 L656.45,153.59 L655.95,153.60 L655.44,153.61 L654.94,153.62 L654.44,153.63 L653.94,153.63 L653.44,153.64 L652.94,153.65 L652.44,153.66 L651.94,153.67 L651.44,153.68 L650.93,153.69 L650.43,153.70 L649.93,153.71 L649.43,153.72 L648.93,153.73 L648.43,153.74 L647.93,153.75 L647.42,153.75 L646.92,153.76 L646.42,153.77 L645.92,153.78 L645.42,153.79 L644.92,153.80 L644.42,153.81 L643.92,153.82 L643.41,153.83 L642.91,153.84 L642.41,153.85 L641.91,153.86 L641.41,153.87 L640.91,153.88 L640.41,153.88 L639.91,153.89 L639.41,153.90 L638.90,153.91 L638.40,153.92 L637.90,153.93 L637.40,153.94 L636.90,153.95 L636.40,153.96 L635.90,153.97 L635.39,153.98 L634.89,153.99 L634.39,154.00 L633.89,154.00 L633.39,154.01 L632.89,154.02 L632.39,154.03 L631.89,154.04 L631.39,154.05 L630.88,154.06 L630.38,154.07 L629.88,154.08 L629.38,154.09 L628.88,154.10 L628.38,154.11 L627.88,154.12 L627.38,154.12 L626.87,154.13 L626.37,154.14 L625.87,154.15 L625.37,154.16 L624.87,154.17 L624.37,154.18 L623.87,154.19 L623.36,154.20 L622.86,154.21 L622.36,154.22 L621.86,154.23 L621.36,154.24 L620.86,154.25 L620.36,154.25 L619.86,154.26 L619.36,154.27 L618.85,154.28 L618.35,154.29 L617.85,154.30 L617.35,154.31 L616.85,154.32 L616.35,154.33 L615.85,154.34 L615.34,154.35 L614.84,154.36 L614.34,154.37 L613.84,154.37 L613.34,154.38 L612.84,154.39 L612.34,154.40 L611.84,154.41 L611.34,154.42 L610.83,154.43 L610.33,154.44 L609.83,154.45 L609.33,154.46 L608.83,154.47 L608.33,154.48 L607.83,154.49 L607.33,154.50 L606.82,154.50 L606.32,154.51 L605.82,154.52 L605.32,154.53 L604.82,154.54 L604.32,154.55 L603.82,154.56 L603.31,154.57 L602.81,154.58 L602.31,154.59 L601.81,154.60 L601.31,154.61 L600.81,154.62 L600.31,154.62 L599.81,154.63 L599.31,154.64 L598.80,154.65 L598.30,154.66 L597.80,154.67 L597.30,154.68 L596.80,154.69 L596.30,154.70 L595.80,154.71 L595.29,154.72 L594.79,154.73 L594.29,154.74 L593.79,154.74 L593.29,154.75 L592.79,154.76 L592.29,154.77 L591.79,154.78 L591.29,154.79 L590.78,154.80 L590.28,154.81 L589.78,154.82 L589.28,154.83 L588.78,154.84 L588.28,154.85 L587.78,154.86 L587.27,154.87 L586.77,154.87 L586.27,154.88 L585.77,154.89 L585.27,154.90 L584.77,154.91 L584.27,154.92 L583.77,154.93 L583.26,154.94 L582.76,154.95 L582.26,154.96 L581.76,154.97 L581.26,154.98 L580.76,154.99 L580.26,154.99 L579.76,155.00 L579.26,155.01 L578.75,155.02 L578.25,155.03 L577.75,155.04 L577.25,155.05 L576.75,155.06 L576.25,155.07 L575.75,155.08 L575.24,155.09 L574.74,155.10 L574.24,155.11 L573.74,155.11 L573.24,155.12 L572.74,155.13 L572.24,155.14 L571.74,155.15 L571.24,155.16 L570.73,155.17 L570.23,155.18 L569.73,155.19 L569.23,155.20 L568.73,155.21 L568.23,155.22 L567.73,155.23 L567.23,155.24 L566.72,155.24 L566.22,155.25 L565.72,155.26 L565.22,155.27 L564.72,155.28 L564.22,155.29 L563.72,155.30 L563.21,155.31 L562.71,155.32 L562.21,155.33 L561.71,155.34 L561.21,155.35 L560.71,155.36 L560.21,155.36 L559.71,155.37 L559.21,155.38 L558.70,155.39 L558.20,155.40 L557.70,155.41 L557.20,155.42 L556.70,155.43 L556.20,155.44 L555.70,155.45 L555.19,155.46 L554.69,155.47 L554.19,155.48 L553.69,155.48 L553.19,155.49 L552.69,155.50 L552.19,155.51 L551.69,155.52 L551.19,155.53 L550.68,155.54 L550.18,155.55 L549.68,155.56 L549.18,155.57 L548.68,155.58 L548.18,155.59 L547.68,155.60 L547.17,155.61 L546.67,155.61 L546.17,155.62 L545.67,155.63 L545.17,155.64 L544.67,155.65 L544.17,155.66 L543.67,155.67 L543.16,155.68 L542.66,155.69 L542.16,155.70 L541.66,155.71 L541.16,155.72 L540.66,155.73 L540.16,155.73 L539.66,155.74 L539.16,155.75 L538.65,155.76 L538.15,155.77 L537.65,155.78 L537.15,155.79 L536.65,155.80 L536.15,155.81 L535.65,155.82 L535.14,155.83 L534.64,155.84 L534.14,155.85 L533.64,155.85 L533.14,155.86 L532.64,155.87 L532.14,155.88 L531.64,155.89 L531.14,155.90 L530.63,155.91 L530.13,155.92 L529.63,155.93 L529.13,155.94 L528.63,155.95 L528.13,155.96 L527.63,155.97 L527.12,155.97 L526.62,155.98 L526.12,155.99 L525.62,156.00 L525.12,156.01 L524.62,156.02 L524.12,156.03 L523.62,156.04 L523.11,156.05 L522.61,156.06 L522.11,156.07 L521.61,156.08 L521.11,156.09 L520.61,156.10 L520.11,156.10 L519.61,156.11 L519.11,156.12 L518.60,156.13 L518.10,156.14 L517.60,156.15 L517.10,156.16 L516.60,156.17 L516.10,156.18 L515.60,156.19 L515.09,156.20 L514.59,156.21 L514.09,156.22 L513.59,156.22 L513.09,156.23 L512.59,156.24 L512.09,156.25 L511.59,156.26 L511.09,156.27 L510.58,156.28 L510.08,156.29 L509.58,156.30 L509.08,156.31 L508.58,156.32 L508.08,156.33 L507.58,156.34 L507.07,156.34 L506.57,156.35 L506.07,156.36 L505.57,156.37 L505.07,156.38 L504.57,156.39 L504.07,156.40 L503.57,156.41 L503.06,156.42 L502.56,156.43 L502.06,156.44 L501.56,156.45 L501.06,156.46 L500.56,156.47 L500.06,156.47 L499.56,156.48 L499.06,156.49 L498.55,156.50 L498.05,156.51 L497.55,156.52 L497.05,156.53 L496.55,156.54 L496.05,156.55 L495.55,156.56 L495.04,156.57 L494.54,156.58 L494.04,156.59 L493.54,156.59 L493.04,156.60 L492.54,156.61 L492.04,156.62 L491.54,156.63 L491.04,156.64 L490.53,156.65 L490.03,156.66 L489.53,156.67 L489.03,156.68 L488.53,156.69 L488.03,156.70 L487.53,156.71 L487.02,156.72 L486.52,156.72 L486.02,156.73 L485.52,156.74 L485.02,156.75 L484.52,156.76 L484.02,156.77 L483.52,156.78 L483.01,156.79 L482.51,156.80 L482.01,156.81 L481.51,156.82 L481.01,156.83 L480.51,156.84 L480.01,156.84 L479.51,156.85 L479.01,156.86 L478.50,156.87 L478.00,156.88 L477.50,156.89 L477.00,156.90 Z" fill="#6eaad9" fill-opacity="0.6" stroke="#6eaad9" stroke-opacity="0.7" stroke-width="0.6"/>
<path d="M477.00,156.63 L477.50,156.62 L478.00,156.61 L478.50,156.60 L479.01,156.59 L479.51,156.58 L480.01,156.56 L480.51,156.55 L481.01,156.54 L481.51,156.53 L482.01,156.52 L482.51,156.50 L483.01,156.49 L483.52,156.48 L484.02,156.47 L484.52,156.45 L485.02,156.44 L485.52,156.43 L486.02,156.42 L486.52,156.40 L487.02,156.39 L487.53,156.38 L488.03,156.37 L488.53,156.35 L489.03,156.34 L489.53,156.33 L490.03,156.32 L490.53,156.30 L491.04,156.29 L491.54,156.28 L492.04,156.26 L492.54,156.25 L493.04,156.24 L493.54,156.22 L494.04,156.21 L494.54,156.20 L495.04,156.18 L495.55,156.17 L496.05,156.16 L496.55,156.14 L497.05,156.13 L497.55,156.12 L498.05,156.10 L498.55,156.09 L499.06,156.07 L499.56,156.06 L500.06,156.05 L500.56,156.03 L501.06,156.02 L501.56,156.00 L502.06,155.99 L502.56,155.97 L503.06,155.96 L503.57,155.94 L504.07,155.93 L504.57,155.91 L505.07,155.90 L505.57,155.88 L506.07,155.87 L506.57,155.85 L507.07,155.84 L507.58,155.82 L508.08,155.80 L508.58,155.79 L509.08,155.77 L509.58,155.75 L510.08,155.74 L510.58,155.72 L511.09,155.70 L511.59,155.69 L512.09,155.67 L512.59,155.65 L513.09,155.64 L513.59,155.62 L514.09,155.60 L514.59,155.58 L515.09,155.56 L515.60,155.55 L516.10,155.53 L516.60,155.51 L517.10,155.49 L517.60,155.47 L518.10,155.45 L518.60,155.43 L519.11,155.41 L519.61,155.39 L520.11,155.37 L520.61,155.35 L521.11,155.33 L521.61,155.31 L522.11,155.29 L522.61,155.27 L523.11,155.24 L523.62,155.22 L524.12,155.20 L524.62,155.18 L525.12,155.15 L525.62,155.13 L526.12,155.11 L526.62,155.08 L527.12,155.06 L527.63,155.03 L528.13,155.01 L528.63,154.98 L529.13,154.95 L529.63,154.93 L530.13,154.90 L530.63,154.87 L531.14,154.84 L531.64,154.82 L532.14,154.79 L532.64,154.76 L533.14,154.73 L533.64,154.69 L534.14,154.66 L534.64,154.63 L535.14,154.60 L535.65,154.56 L536.15,154.53 L536.65,154.49 L537.15,154.46 L537.65,154.42 L538.15,154.38 L538.65,154.35 L539.16,154.31 L539.66,154.27 L540.16,154.23 L540.66,154.18 L541.16,154.14 L541.66,154.09 L542.16,154.05 L542.66,154.00 L543.16,153.95 L543.67,153.90 L544.17,153.85 L544.67,153.80 L545.17,153.74 L545.67,153.69 L546.17,153.63 L546.67,153.57 L547.17,153.50 L547.68,153.44 L548.18,153.37 L548.68,153.30 L549.18,153.23 L549.68,153.15 L550.18,153.07 L550.68,152.99 L551.19,152.91 L551.69,152.82 L552.19,152.72 L552.69,152.63 L553.19,152.52 L553.69,152.42 L554.19,152.31 L554.69,152.19 L555.19,152.07 L555.70,151.94 L556.20,151.81 L556.70,151.66 L557.20,151.52 L557.70,151.36 L558.20,151.20 L558.70,151.03 L559.21,150.85 L559.71,150.66 L560.21,150.46 L560.71,150.25 L561.21,150.03 L561.71,149.80 L562.21,149.56 L562.71,149.31 L563.21,149.04 L563.72,148.76 L564.22,148.47 L564.72,148.17 L565.22,147.85 L565.72,147.52 L566.22,147.17 L566.72,146.81 L567.23,146.43 L567.73,146.04 L568.23,145.63 L568.73,145.21 L569.23,144.77 L569.73,144.31 L570.23,143.84 L570.73,143.36 L571.24,142.86 L571.74,142.35 L572.24,141.82 L572.74,141.29 L573.24,140.74 L573.74,140.19 L574.24,139.63 L574.74,139.06 L575.24,138.49 L575.75,137.93 L576.25,137.37 L576.75,136.82 L577.25,136.29 L577.75,135.77 L578.25,135.27 L578.75,134.81 L579.26,134.37 L579.76,133.98 L580.26,133.63 L580.76,133.32 L581.26,133.07 L581.76,132.87 L582.26,132.74 L582.76,132.66 L583.26,132.64 L583.77,132.69 L584.27,132.80 L584.77,132.96 L585.27,133.19 L585.77,133.46 L586.27,133.79 L586.77,134.15 L587.27,134.56 L587.78,135.00 L588.28,135.48 L588.78,135.97 L589.28,136.48 L589.78,137.01 L590.28,137.55 L590.78,138.10 L591.29,138.64 L591.79,139.19 L592.29,139.73 L592.79,140.27 L593.29,140.80 L593.79,141.32 L594.29,141.83 L594.79,142.33 L595.29,142.81 L595.80,143.28 L596.30,143.73 L596.80,144.17 L597.30,144.59 L597.80,145.00 L598.30,145.40 L598.80,145.77 L599.31,146.13 L599.81,146.48 L600.31,146.81 L600.81,147.13 L601.31,147.43 L601.81,147.72 L602.31,148.00 L602.81,148.26 L603.31,148.51 L603.82,148.74 L604.32,148.97 L604.82,149.18 L605.32,149.39 L605.82,149.58 L606.32,149.76 L606.82,149.93 L607.33,150.10 L607.83,150.25 L608.33,150.40 L608.83,150.54 L609.33,150.67 L609.83,150.79 L610.33,150.91 L610.83,151.02 L611.34,151.12 L611.84,151.22 L612.34,151.32 L612.84,151.41 L613.34,151.49 L613.84,151.57 L614.34,151.64 L614.84,151.72 L615.34,151.78 L615.85,151.85 L616.35,151.91 L616.85,151.97 L617.35,152.02 L617.85,152.07 L618.35,152.12 L618.85,152.17 L619.36,152.21 L619.86,152.26 L620.36,152.30 L620.86,152.34 L621.36,152.37 L621.86,152.41 L622.36,152.44 L622.86,152.47 L623.36,152.50 L623.87,152.53 L624.37,152.56 L624.87,152.59 L625.37,152.61 L625.87,152.64 L626.37,152.66 L626.87,152.68 L627.38,152.70 L627.88,152.72 L628.38,152.74 L628.88,152.76 L629.38,152.78 L629.88,152.80 L630.38,152.81 L630.88,152.83 L631.39,152.84 L631.89,152.85 L632.39,152.87 L632.89,152.88 L633.39,152.89 L633.89,152.90 L634.39,152.91 L634.89,152.93 L635.39,152.94 L635.90,152.94 L636.40,152.95 L636.90,152.96 L637.40,152.97 L637.90,152.98 L638.40,152.98 L638.90,152.99 L639.41,153.00 L639.91,153.00 L640.41,153.01 L640.91,153.01 L641.41,153.02 L641.91,153.02 L642.41,153.03 L642.91,153.03 L643.41,153.03 L643.92,153.04 L644.42,153.04 L644.92,153.04 L645.42,153.05 L645.92,153.05 L646.42,153.05 L646.92,153.05 L647.42,153.05 L647.93,153.05 L648.43,153.05 L648.93,153.06 L649.43,153.06 L649.93,153.06 L650.43,153.06 L650.93,153.06 L651.44,153.06 L651.94,153.06 L652.44,153.05 L652.94,153.05 L653.44,153.05 L653.94,153.05 L654.44,153.05 L654.94,153.05 L655.44,153.05 L655.95,153.04 L656.45,153.04 L656.95,153.04 L657.45,153.04 L657.95,153.04 L658.45,153.03 L658.95,153.03 L659.46,153.03 L659.96,153.03 L660.46,153.02 L660.96,153.02 L661.46,153.02 L661.96,153.01 L662.46,153.01 L662.96,153.01 L663.46,153.00 L663.97,153.00 L664.47,152.99 L664.97,152.99 L665.47,152.99 L665.97,152.98 L666.47,152.98 L666.97,152.97 L667.48,152.97 L667.98,152.97 L668.48,152.96 L668.98,152.96 L669.48,152.95 L669.98,152.95 L670.48,152.94 L670.98,152.94 L671.49,152.93 L671.99,152.93 L672.49,152.92 L672.99,152.92 L673.49,152.91 L673.99,152.91 L674.49,152.90 L674.99,152.89 L675.49,152.89 L676.00,152.88 L676.50,152.88 L677.00,152.87 L677.50,152.87 L677.50,153.20 L677.00,153.21 L676.50,153.22 L676.00,153.23 L675.49,153.24 L674.99,153.25 L674.49,153.26 L673.99,153.26 L673.49,153.27 L672.99,153.28 L672.49,153.29 L671.99,153.30 L671.49,153.31 L670.98,153.32 L670.48,153.33 L669.98,153.34 L669.48,153.35 L668.98,153.36 L668.48,153.37 L667.98,153.38 L667.48,153.39 L666.97,153.39 L666.47,153.40 L665.97,153.41 L665.47,153.42 L664.97,153.43 L664.47,153.44 L663.97,153.45 L663.46,153.46 L662.96,153.47 L662.46,153.48 L661.96,153.49 L661.46,153.50 L660.96,153.51 L660.46,153.51 L659.96,153.52 L659.46,153.53 L658.95,153.54 L658.45,153.55 L657.95,153.56 L657.45,153.57 L656.95,153.58 L656.45,153.59 L655.95,153.60 L655.44,153.61 L654.94,153.62 L654.44,153.63 L653.94,153.63 L653.44,153.64 L652.94,153.65 L652.44,153.66 L651.94,153.67 L651.44,153.68 L650.93,153.69 L650.43,153.70 L649.93,153.71 L649.43,153.72 L648.93,153.73 L648.43,153.74 L647.93,153.75 L647.42,153.75 L646.92,153.76 L646.42,153.77 L645.92,153.78 L645.42,153.79 L644.92,153.80 L644.42,153.81 L643.92,153.82 L643.41,153.83 L642.91,153.84 L642.41,153.85 L641.91,153.86 L641.41,153.87 L640.91,153.88 L640.41,153.88 L639.91,153.89 L639.41,153.90 L638.90,153.91 L638.40,153.92 L637.90,153.93 L637.40,153.94 L636.90,153.95 L636.40,153.96 L635.90,153.97 L635.39,153.98 L634.89,153.99 L634.39,154.00 L633.89,154.00 L633.39,154.01 L632.89,154.02 L632.39,154.03 L631.89,154.04 L631.39,154.05 L630.88,154.06 L630.38,154.07 L629.88,154.08 L629.38,154.09 L628.88,154.10 L628.38,154.11 L627.88,154.12 L627.38,154.12 L626.87,154.13 L626.37,154.14 L625.87,154.15 L625.37,154.16 L624.87,154.17 L624.37,154.18 L623.87,154.19 L623.36,154.20 L622.86,154.21 L622.36,154.22 L621.86,154.23 L621.36,154.24 L620.86,154.25 L620.36,154.25 L619.86,154.26 L619.36,154.27 L618.85,154.28 L618.35,154.29 L617.85,154.30 L617.35,154.31 L616.85,154.32 L616.35,154.33 L615.85,154.34 L615.34,154.35 L614.84,154.36 L614.34,154.37 L613.84,154.37 L613.34,154.38 L612.84,154.39 L612.34,154.40 L611.84,154.41 L611.34,154.42 L610.83,154.43 L610.33,154.44 L609.83,154.45 L609.33,154.46 L608.83,154.47 L608.33,154.48 L607.83,154.49 L607.33,154.50 L606.82,154.50 L606.32,154.51 L605.82,154.52 L605.32,154.53 L604.82,154.54 L604.32,154.55 L603.82,154.56 L603.31,154.57 L602.81,154.58 L602.31,154.59 L601.81,154.60 L601.31,154.61 L600.81,154.62 L600.31,154.62 L599.81,154.63 L599.31,154.64 L598.80,154.65 L598.30,154.66 L597.80,154.67 L597.30,154.68 L596.80,154.69 L596.30,154.70 L595.80,154.71 L595.29,154.72 L594.79,154.73 L594.29,154.74 L593.79,154.74 L593.29,154.75 L592.79,154.76 L592.29,154.77 L591.79,154.78 L591.29,154.79 L590.78,154.80 L590.28,154.81 L589.78,154.82 L589.28,154.83 L588.78,154.84 L588.28,154.85 L587.78,154.86 L587.27,154.87 L586.77,154.87 L586.27,154.88 L585.77,154.89 L585.27,154.90 L584.77,154.91 L584.27,154.92 L583.77,154.93 L583.26,154.94 L582.76,154.95 L582.26,154.96 L581.76,154.97 L581.26,154.98 L580.76,154.99 L580.26,154.99 L579.76,155.00 L579.26,155.01 L578.75,155.02 L578.25,155.03 L577.75,155.04 L577.25,155.05 L576.75,155.06 L576.25,155.07 L575.75,155.08 L575.24,155.09 L574.74,155.10 L574.24,155.11 L573.74,155.11 L573.24,155.12 L572.74,155.13 L572.24,155.14 L571.74,155.15 L571.24,155.16 L570.73,155.17 L570.23,155.18 L569.73,155.19 L569.23,155.20 L568.73,155.21 L568.23,155.22 L567.73,155.23 L567.23,155.24 L566.72,155.24 L566.22,155.25 L565.72,155.26 L565.22,155.27 L564.72,155.28 L564.22,155.29 L563.72,155.30 L563.21,155.31 L562.71,155.32 L562.21,155.33 L561.71,155.34 L561.21,155.35 L560.71,155.36 L560.21,155.36 L559.71,155.37 L559.21,155.38 L558.70,155.39 L558.20,155.40 L557.70,155.41 L557.20,155.42 L556.70,155.43 L556.20,155.44 L555.70,155.45 L555.19,155.46 L554.69,155.47 L554.19,155.48 L553.69,155.48 L553.19,155.49 L552.69,155.50 L552.19,155.51 L551.69,155.52 L551.19,155.53 L550.68,155.54 L550.18,155.55 L549.68,155.56 L549.18,155.57 L548.68,155.58 L548.18,155.59 L547.68,155.60 L547.17,155.61 L546.67,155.61 L546.17,155.62 L545.67,155.63 L545.17,155.64 L544.67,155.65 L544.17,155.66 L543.67,155.67 L543.16,155.68 L542.66,155.69 L542.16,155.70 L541.66,155.71 L541.16,155.72 L540.66,155.73 L540.16,155.73 L539.66,155.74 L539.16,155.75 L538.65,155.76 L538.15,155.77 L537.65,155.78 L537.15,155.79 L536.65,155.80 L536.15,155.81 L535.65,155.82 L535.14,155.83 L534.64,155.84 L534.14,155.85 L533.64,155.85 L533.14,155.86 L532.64,155.87 L532.14,155.88 L531.64,155.89 L531.14,155.90 L530.63,155.91 L530.13,155.92 L529.63,155.93 L529.13,155.94 L528.63,155.95 L528.13,155.96 L527.63,155.97 L527.12,155.97 L526.62,155.98 L526.12,155.99 L525.62,156.00 L525.12,156.01 L524.62,156.02 L524.12,156.03 L523.62,156.04 L523.11,156.05 L522.61,156.06 L522.11,156.07 L521.61,156.08 L521.11,156.09 L520.61,156.10 L520.11,156.10 L519.61,156.11 L519.11,156.12 L518.60,156.13 L518.10,156.14 L517.60,156.15 L517.10,156.16 L516.60,156.17 L516.10,156.18 L515.60,156.19 L515.09,156.20 L514.59,156.21 L514.09,156.22 L513.59,156.22 L513.09,156.23 L512.59,156.24 L512.09,156.25 L511.59,156.26 L511.09,156.27 L510.58,156.28 L510.08,156.29 L509.58,156.30 L509.08,156.31 L508.58,156.32 L508.08,156.33 L507.58,156.34 L507.07,156.34 L506.57,156.35 L506.07,156.36 L505.57,156.37 L505.07,156.38 L504.57,156.39 L504.07,156.40 L503.57,156.41 L503.06,156.42 L502.56,156.43 L502.06,156.44 L501.56,156.45 L501.06,156.46 L500.56,156.47 L500.06,156.47 L499.56,156.48 L499.06,156.49 L498.55,156.50 L498.05,156.51 L497.55,156.52 L497.05,156.53 L496.55,156.54 L496.05,156.55 L495.55,156.56 L495.04,156.57 L494.54,156.58 L494.04,156.59 L493.54,156.59 L493.04,156.60 L492.54,156.61 L492.04,156.62 L491.54,156.63 L491.04,156.64 L490.53,156.65 L490.03,156.66 L489.53,156.67 L489.03,156.68 L488.53,156.69 L488.03,156.70 L487.53,156.71 L487.02,156.72 L486.52,156.72 L486.02,156.73 L485.52,156.74 L485.02,156.75 L484.52,156.76 L484.02,156.77 L483.52,156.78 L483.01,156.79 L482.51,156.80 L482.01,156.81 L481.51,156.82 L481.01,156.83 L480.51,156.84 L480.01,156.84 L479.51,156.85 L479.01,156.86 L478.50,156.87 L478.00,156.88 L477.50,156.89 L477.00,156.90 Z" fill="#75dc6e" fill-opacity="0.6" stroke="#6fd068" stroke-opacity="0.7" stroke-width="0.6"/>
<path d="M477.00,156.82 L477.50,156.81 L478.00,156.80 L478.50,156.79 L479.01,156.78 L479.51,156.77 L480.01,156.76 L480.51,156.75 L481.01,156.74 L481.51,156.73 L482.01,156.72 L482.51,156.71 L483.01,156.70 L483.52,156.69 L484.02,156.68 L484.52,156.67 L485.02,156.66 L485.52,156.65 L486.02,156.64 L486.52,156.63 L487.02,156.62 L487.53,156.61 L488.03,156.60 L488.53,156.59 L489.03,156.58 L489.53,156.57 L490.03,156.56 L490.53,156.55 L491.04,156.54 L491.54,156.53 L492.04,156.52 L492.54,156.51 L493.04,156.50 L493.54,156.49 L494.04,156.48 L494.54,156.47 L495.04,156.46 L495.55,156.45 L496.05,156.44 L496.55,156.43 L497.05,156.42 L497.55,156.41 L498.05,156.40 L498.55,156.39 L499.06,156.38 L499.56,156.37 L500.06,156.36 L500.56,156.35 L501.06,156.34 L501.56,156.33 L502.06,156.32 L502.56,156.31 L503.06,156.30 L503.57,156.29 L504.07,156.28 L504.57,156.26 L505.07,156.25 L505.57,156.24 L506.07,156.23 L506.57,156.22 L507.07,156.21 L507.58,156.20 L508.08,156.19 L508.58,156.18 L509.08,156.17 L509.58,156.16 L510.08,156.15 L510.58,156.14 L511.09,156.13 L511.59,156.12 L512.09,156.10 L512.59,156.09 L513.09,156.08 L513.59,156.07 L514.09,156.06 L514.59,156.05 L515.09,156.04 L515.60,156.03 L516.10,156.02 L516.60,156.01 L517.10,155.99 L517.60,155.98 L518.10,155.97 L518.60,155.96 L519.11,155.95 L519.61,155.94 L520.11,155.93 L520.61,155.92 L521.11,155.90 L521.61,155.89 L522.11,155.88 L522.61,155.87 L523.11,155.86 L523.62,155.85 L524.12,155.83 L524.62,155.82 L525.12,155.81 L525.62,155.80 L526.12,155.79 L526.62,155.78 L527.12,155.76 L527.63,155.75 L528.13,155.74 L528.63,155.73 L529.13,155.72 L529.63,155.70 L530.13,155.69 L530.63,155.68 L531.14,155.67 L531.64,155.65 L532.14,155.64 L532.64,155.63 L533.14,155.62 L533.64,155.60 L534.14,155.59 L534.64,155.58 L535.14,155.56 L535.65,155.55 L536.15,155.54 L536.65,155.52 L537.15,155.51 L537.65,155.50 L538.15,155.48 L538.65,155.47 L539.16,155.46 L539.66,155.44 L540.16,155.43 L540.66,155.41 L541.16,155.40 L541.66,155.39 L542.16,155.37 L542.66,155.36 L543.16,155.34 L543.67,155.33 L544.17,155.31 L544.67,155.30 L545.17,155.28 L545.67,155.27 L546.17,155.25 L546.67,155.24 L547.17,155.22 L547.68,155.20 L548.18,155.19 L548.68,155.17 L549.18,155.15 L549.68,155.14 L550.18,155.12 L550.68,155.10 L551.19,155.09 L551.69,155.07 L552.19,155.05 L552.69,155.03 L553.19,155.01 L553.69,155.00 L554.19,154.98 L554.69,154.96 L555.19,154.94 L555.70,154.92 L556.20,154.90 L556.70,154.88 L557.20,154.86 L557.70,154.84 L558.20,154.81 L558.70,154.79 L559.21,154.77 L559.71,154.75 L560.21,154.72 L560.71,154.70 L561.21,154.68 L561.71,154.65 L562.21,154.63 L562.71,154.60 L563.21,154.57 L563.72,154.55 L564.22,154.52 L564.72,154.49 L565.22,154.46 L565.72,154.43 L566.22,154.40 L566.72,154.37 L567.23,154.33 L567.73,154.30 L568.23,154.26 L568.73,154.23 L569.23,154.19 L569.73,154.15 L570.23,154.11 L570.73,154.06 L571.24,154.02 L571.74,153.97 L572.24,153.92 L572.74,153.86 L573.24,153.81 L573.74,153.75 L574.24,153.68 L574.74,153.61 L575.24,153.54 L575.75,153.46 L576.25,153.38 L576.75,153.29 L577.25,153.19 L577.75,153.09 L578.25,152.98 L578.75,152.86 L579.26,152.74 L579.76,152.60 L580.26,152.45 L580.76,152.29 L581.26,152.12 L581.76,151.93 L582.26,151.74 L582.76,151.52 L583.26,151.29 L583.77,151.05 L584.27,150.79 L584.77,150.51 L585.27,150.21 L585.77,149.90 L586.27,149.56 L586.77,149.20 L587.27,148.83 L587.78,148.43 L588.28,148.01 L588.78,147.57 L589.28,147.11 L589.78,146.63 L590.28,146.13 L590.78,145.61 L591.29,145.08 L591.79,144.52 L592.29,143.95 L592.79,143.37 L593.29,142.77 L593.79,142.16 L594.29,141.55 L594.79,140.93 L595.29,140.31 L595.80,139.70 L596.30,139.09 L596.80,138.49 L597.30,137.91 L597.80,137.36 L598.30,136.83 L598.80,136.33 L599.31,135.88 L599.81,135.47 L600.31,135.12 L600.81,134.82 L601.31,134.58 L601.81,134.41 L602.31,134.31 L602.81,134.28 L603.31,134.32 L603.82,134.43 L604.32,134.61 L604.82,134.85 L605.32,135.15 L605.82,135.51 L606.32,135.92 L606.82,136.37 L607.33,136.86 L607.83,137.39 L608.33,137.93 L608.83,138.50 L609.33,139.09 L609.83,139.68 L610.33,140.28 L610.83,140.88 L611.34,141.48 L611.84,142.07 L612.34,142.65 L612.84,143.23 L613.34,143.79 L613.84,144.33 L614.34,144.86 L614.84,145.38 L615.34,145.87 L615.85,146.34 L616.35,146.80 L616.85,147.23 L617.35,147.64 L617.85,148.03 L618.35,148.40 L618.85,148.75 L619.36,149.08 L619.86,149.39 L620.36,149.68 L620.86,149.95 L621.36,150.21 L621.86,150.44 L622.36,150.66 L622.86,150.87 L623.36,151.05 L623.87,151.23 L624.37,151.39 L624.87,151.54 L625.37,151.67 L625.87,151.80 L626.37,151.91 L626.87,152.02 L627.38,152.12 L627.88,152.21 L628.38,152.29 L628.88,152.36 L629.38,152.43 L629.88,152.49 L630.38,152.55 L630.88,152.60 L631.39,152.65 L631.89,152.69 L632.39,152.73 L632.89,152.77 L633.39,152.80 L633.89,152.84 L634.39,152.87 L634.89,152.89 L635.39,152.92 L635.90,152.94 L636.40,152.96 L636.90,152.98 L637.40,153.00 L637.90,153.01 L638.40,153.03 L638.90,153.04 L639.41,153.06 L639.91,153.07 L640.41,153.08 L640.91,153.09 L641.41,153.10 L641.91,153.11 L642.41,153.12 L642.91,153.13 L643.41,153.13 L643.92,153.14 L644.42,153.15 L644.92,153.15 L645.42,153.16 L645.92,153.16 L646.42,153.17 L646.92,153.17 L647.42,153.17 L647.93,153.18 L648.43,153.18 L648.93,153.18 L649.43,153.18 L649.93,153.18 L650.43,153.18 L650.93,153.19 L651.44,153.19 L651.94,153.19 L652.44,153.19 L652.94,153.19 L653.44,153.19 L653.94,153.19 L654.44,153.18 L654.94,153.18 L655.44,153.18 L655.95,153.18 L656.45,153.18 L656.95,153.18 L657.45,153.17 L657.95,153.17 L658.45,153.17 L658.95,153.17 L659.46,153.16 L659.96,153.16 L660.46,153.16 L660.96,153.15 L661.46,153.15 L661.96,153.15 L662.46,153.14 L662.96,153.14 L663.46,153.14 L663.97,153.13 L664.47,153.13 L664.97,153.12 L665.47,153.12 L665.97,153.11 L666.47,153.11 L666.97,153.10 L667.48,153.10 L667.98,153.09 L668.48,153.09 L668.98,153.08 L669.48,153.08 L669.98,153.07 L670.48,153.07 L670.98,153.06 L671.49,153.06 L671.99,153.05 L672.49,153.05 L672.99,153.04 L673.49,153.03 L673.99,153.03 L674.49,153.02 L674.99,153.02 L675.49,153.01 L676.00,153.00 L676.50,153.00 L677.00,152.99 L677.50,152.98 L677.50,153.20 L677.00,153.21 L676.50,153.22 L676.00,153.23 L675.49,153.24 L674.99,153.25 L674.49,153.26 L673.99,153.26 L673.49,153.27 L672.99,153.28 L672.49,153.29 L671.99,153.30 L671.49,153.31 L670.98,153.32 L670.48,153.33 L669.98,153.34 L669.48,153.35 L668.98,153.36 L668.48,153.37 L667.98,153.38 L667.48,153.39 L666.97,153.39 L666.47,153.40 L665.97,153.41 L665.47,153.42 L664.97,153.43 L664.47,153.44 L663.97,153.45 L663.46,153.46 L662.96,153.47 L662.46,153.48 L661.96,153.49 L661.46,153.50 L660.96,153.51 L660.46,153.51 L659.96,153.52 L659.46,153.53 L658.95,153.54 L658.45,153.55 L657.95,153.56 L657.45,153.57 L656.95,153.58 L656.45,153.59 L655.95,153.60 L655.44,153.61 L654.94,153.62 L654.44,153.63 L653.94,153.63 L653.44,153.64 L652.94,153.65 L652.44,153.66 L651.94,153.67 L651.44,153.68 L650.93,153.69 L650.43,153.70 L649.93,153.71 L649.43,153.72 L648.93,153.73 L648.43,153.74 L647.93,153.75 L647.42,153.75 L646.92,153.76 L646.42,153.77 L645.92,153.78 L645.42,153.79 L644.92,153.80 L644.42,153.81 L643.92,153.82 L643.41,153.83 L642.91,153.84 L642.41,153.85 L641.91,153.86 L641.41,153.87 L640.91,153.88 L640.41,153.88 L639.91,153.89 L639.41,153.90 L638.90,153.91 L638.40,153.92 L637.90,153.93 L637.40,153.94 L636.90,153.95 L636.40,153.96 L635.90,153.97 L635.39,153.98 L634.89,153.99 L634.39,154.00 L633.89,154.00 L633.39,154.01 L632.89,154.02 L632.39,154.03 L631.89,154.04 L631.39,154.05 L630.88,154.06 L630.38,154.07 L629.88,154.08 L629.38,154.09 L628.88,154.10 L628.38,154.11 L627.88,154.12 L627.38,154.12 L626.87,154.13 L626.37,154.14 L625.87,154.15 L625.37,154.16 L624.87,154.17 L624.37,154.18 L623.87,154.19 L623.36,154.20 L622.86,154.21 L622.36,154.22 L621.86,154.23 L621.36,154.24 L620.86,154.25 L620.36,154.25 L619.86,154.26 L619.36,154.27 L618.85,154.28 L618.35,154.29 L617.85,154.30 L617.35,154.31 L616.85,154.32 L616.35,154.33 L615.85,154.34 L615.34,154.35 L614.84,154.36 L614.34,154.37 L613.84,154.37 L613.34,154.38 L612.84,154.39 L612.34,154.40 L611.84,154.41 L611.34,154.42 L610.83,154.43 L610.33,154.44 L609.83,154.45 L609.33,154.46 L608.83,154.47 L608.33,154.48 L607.83,154.49 L607.33,154.50 L606.82,154.50 L606.32,154.51 L605.82,154.52 L605.32,154.53 L604.82,154.54 L604.32,154.55 L603.82,154.56 L603.31,154.57 L602.81,154.58 L602.31,154.59 L601.81,154.60 L601.31,154.61 L600.81,154.62 L600.31,154.62 L599.81,154.63 L599.31,154.64 L598.80,154.65 L598.30,154.66 L597.80,154.67 L597.30,154.68 L596.80,154.69 L596.30,154.70 L595.80,154.71 L595.29,154.72 L594.79,154.73 L594.29,154.74 L593.79,154.74 L593.29,154.75 L592.79,154.76 L592.29,154.77 L591.79,154.78 L591.29,154.79 L590.78,154.80 L590.28,154.81 L589.78,154.82 L589.28,154.83 L588.78,154.84 L588.28,154.85 L587.78,154.86 L587.27,154.87 L586.77,154.87 L586.27,154.88 L585.77,154.89 L585.27,154.90 L584.77,154.91 L584.27,154.92 L583.77,154.93 L583.26,154.94 L582.76,154.95 L582.26,154.96 L581.76,154.97 L581.26,154.98 L580.76,154.99 L580.26,154.99 L579.76,155.00 L579.26,155.01 L578.75,155.02 L578.25,155.03 L577.75,155.04 L577.25,155.05 L576.75,155.06 L576.25,155.07 L575.75,155.08 L575.24,155.09 L574.74,155.10 L574.24,155.11 L573.74,155.11 L573.24,155.12 L572.74,155.13 L572.24,155.14 L571.74,155.15 L571.24,155.16 L570.73,155.17 L570.23,155.18 L569.73,155.19 L569.23,155.20 L568.73,155.21 L568.23,155.22 L567.73,155.23 L567.23,155.24 L566.72,155.24 L566.22,155.25 L565.72,155.26 L565.22,155.27 L564.72,155.28 L564.22,155.29 L563.72,155.30 L563.21,155.31 L562.71,155.32 L562.21,155.33 L561.71,155.34 L561.21,155.35 L560.71,155.36 L560.21,155.36 L559.71,155.37 L559.21,155.38 L558.70,155.39 L558.20,155.40 L557.70,155.41 L557.20,155.42 L556.70,155.43 L556.20,155.44 L555.70,155.45 L555.19,155.46 L554.69,155.47 L554.19,155.48 L553.69,155.48 L553.19,155.49 L552.69,155.50 L552.19,155.51 L551.69,155.52 L551.19,155.53 L550.68,155.54 L550.18,155.55 L549.68,155.56 L549.18,155.57 L548.68,155.58 L548.18,155.59 L547.68,155.60 L547.17,155.61 L546.67,155.61 L546.17,155.62 L545.67,155.63 L545.17,155.64 L544.67,155.65 L544.17,155.66 L543.67,155.67 L543.16,155.68 L542.66,155.69 L542.16,155.70 L541.66,155.71 L541.16,155.72 L540.66,155.73 L540.16,155.73 L539.66,155.74 L539.16,155.75 L538.65,155.76 L538.15,155.77 L537.65,155.78 L537.15,155.79 L536.65,155.80 L536.15,155.81 L535.65,155.82 L535.14,155.83 L534.64,155.84 L534.14,155.85 L533.64,155.85 L533.14,155.86 L532.64,155.87 L532.14,155.88 L531.64,155.89 L531.14,155.90 L530.63,155.91 L530.13,155.92 L529.63,155.93 L529.13,155.94 L528.63,155.95 L528.13,155.96 L527.63,155.97 L527.12,155.97 L526.62,155.98 L526.12,155.99 L525.62,156.00 L525.12,156.01 L524.62,156.02 L524.12,156.03 L523.62,156.04 L523.11,156.05 L522.61,156.06 L522.11,156.07 L521.61,156.08 L521.11,156.09 L520.61,156.10 L520.11,156.10 L519.61,156.11 L519.11,156.12 L518.60,156.13 L518.10,156.14 L517.60,156.15 L517.10,156.16 L516.60,156.17 L516.10,156.18 L515.60,156.19 L515.09,156.20 L514.59,156.21 L514.09,156.22 L513.59,156.22 L513.09,156.23 L512.59,156.24 L512.09,156.25 L511.59,156.26 L511.09,156.27 L510.58,156.28 L510.08,156.29 L509.58,156.30 L509.08,156.31 L508.58,156.32 L508.08,156.33 L507.58,156.34 L507.07,156.34 L506.57,156.35 L506.07,156.36 L505.57,156.37 L505.07,156.38 L504.57,156.39 L504.07,156.40 L503.57,156.41 L503.06,156.42 L502.56,156.43 L502.06,156.44 L501.56,156.45 L501.06,156.46 L500.56,156.47 L500.06,156.47 L499.56,156.48 L499.06,156.49 L498.55,156.50 L498.05,156.51 L497.55,156.52 L497.05,156.53 L496.55,156.54 L496.05,156.55 L495.55,156.56 L495.04,156.57 L494.54,156.58 L494.04,156.59 L493.54,156.59 L493.04,156.60 L492.54,156.61 L492.04,156.62 L491.54,156.63 L491.04,156.64 L490.53,156.65 L490.03,156.66 L489.53,156.67 L489.03,156.68 L488.53,156.69 L488.03,156.70 L487.53,156.71 L487.02,156.72 L486.52,156.72 L486.02,156.73 L485.52,156.74 L485.02,156.75 L484.52,156.76 L484.02,156.77 L483.52,156.78 L483.01,156.79 L482.51,156.80 L482.01,156.81 L481.51,156.82 L481.01,156.83 L480.51,156.84 L480.01,156.84 L479.51,156.85 L479.01,156.86 L478.50,156.87 L478.00,156.88 L477.50,156.89 L477.00,156.90 Z" fill="#285c84" fill-opacity="0.6" stroke="#3e6e94" stroke-opacity="0.7" stroke-width="0.6"/>
<path d="M477.00,155.85 L483.29,155.50 L491.62,155.43 L497.56,154.71 L501.60,154.50 L505.00,154.65 L508.06,154.46 L510.71,154.35 L513.29,153.81 L515.76,153.80 L518.00,153.54 L519.87,153.52 L521.58,152.80 L523.52,152.41 L525.69,151.93 L527.70,150.64 L529.38,149.46 L530.84,146.95 L532.11,144.79 L533.20,142.97 L534.10,140.23 L534.77,138.15 L535.31,135.61 L535.91,133.19 L536.53,130.38 L537.20,127.63 L537.97,123.95 L538.79,120.27 L539.62,116.29 L540.48,112.44 L541.30,108.68 L542.04,104.73 L542.75,100.59 L543.45,96.95 L544.16,92.96 L544.85,88.65 L545.51,84.42 L546.17,80.47 L546.85,76.24 L547.58,72.09 L548.20,68.63 L548.58,67.02 L548.85,66.42 L549.17,64.81 L549.54,62.24 L549.90,59.48 L550.23,56.92 L550.58,54.44 L551.07,52.67 L551.70,50.45 L552.40,48.14 L553.12,46.62 L553.89,45.18 L554.73,43.55 L555.66,41.98 L556.60,41.83 L557.53,42.44 L558.45,43.29 L559.34,44.78 L560.22,46.11 L561.00,48.31 L561.62,50.33 L562.15,52.77 L562.64,55.37 L563.07,57.64 L563.50,59.75 L563.99,62.12 L564.48,64.39 L564.87,65.97 L565.12,67.09 L565.50,68.64 L566.18,71.80 L567.00,76.28 L567.78,80.95 L568.54,85.13 L569.35,88.95 L570.25,92.51 L571.21,96.90 L572.18,100.98 L573.14,105.26 L574.20,108.50 L575.43,110.98 L576.78,113.93 L578.25,115.77 L579.83,117.09 L581.50,118.79 L583.29,120.25 L585.12,122.00 L586.83,123.31 L588.42,123.74 L590.00,124.26 L591.61,124.65 L593.22,125.05 L594.78,125.01 L596.34,125.58 L597.70,125.80 L598.73,125.44 L599.57,125.36 L600.45,125.64 L601.35,126.29 L602.20,126.82 L602.94,127.06 L603.63,127.90 L604.39,128.14 L605.20,129.01 L606.00,130.31 L606.77,130.73 L607.53,131.30 L608.27,132.20 L608.98,133.00 L609.70,134.16 L610.42,134.70 L611.13,136.18 L611.87,137.19 L612.64,137.81 L613.40,138.26 L614.16,139.12 L614.92,140.29 L615.67,141.03 L616.39,141.76 L617.20,142.56 L618.19,143.38 L619.28,144.70 L620.31,146.20 L621.30,147.23 L622.30,147.71 L623.27,148.29 L624.26,148.80 L625.38,149.70 L626.61,149.89 L628.00,150.04 L629.48,150.33 L631.20,151.25 L633.59,151.17 L636.59,151.63 L640.00,151.91 L642.99,151.57 L646.84,151.80 L654.82,151.99 L667.64,151.82 L677.50,152.12" fill="none" stroke="#bdbdbd" stroke-width="1.1" stroke-linejoin="round" stroke-linecap="round"/>
<path d="M477.00,157.00 L479.58,156.90 L483.29,156.76 L487.51,156.59 L491.62,156.43 L495.00,156.30 L497.56,156.20 L499.72,156.12 L501.60,156.05 L503.32,155.98 L505.00,155.90 L506.61,155.82 L508.06,155.75 L509.42,155.68 L510.71,155.60 L512.00,155.50 L513.29,155.38 L514.54,155.24 L515.76,155.09 L516.91,154.94 L518.00,154.80 L518.98,154.70 L519.87,154.63 L520.72,154.55 L521.58,154.42 L522.50,154.20 L523.52,153.90 L524.60,153.55 L525.69,153.12 L526.74,152.61 L527.70,152.00 L528.57,151.27 L529.38,150.44 L530.13,149.52 L530.84,148.53 L531.50,147.50 L532.11,146.40 L532.68,145.21 L533.20,143.97 L533.67,142.72 L534.10,141.50 L534.47,140.31 L534.77,139.12 L535.05,137.94 L535.31,136.73 L535.60,135.50 L535.91,134.28 L536.21,133.08 L536.53,131.84 L536.85,130.50 L537.20,129.00 L537.57,127.29 L537.97,125.42 L538.37,123.44 L538.79,121.45 L539.20,119.50 L539.62,117.61 L540.05,115.72 L540.48,113.84 L540.90,111.93 L541.30,110.00 L541.68,108.03 L542.04,106.04 L542.40,104.02 L542.75,102.01 L543.10,100.00 L543.45,98.00 L543.81,96.00 L544.16,94.00 L544.51,92.00 L544.85,90.00 L545.19,88.00 L545.51,86.00 L545.84,84.00 L546.17,82.00 L546.50,80.00 L546.85,77.89 L547.22,75.66 L547.58,73.50 L547.92,71.55 L548.20,70.00 L548.42,69.00 L548.58,68.44 L548.72,68.08 L548.85,67.68 L549.00,67.00 L549.17,65.99 L549.35,64.82 L549.54,63.54 L549.72,62.25 L549.90,61.00 L550.07,59.79 L550.23,58.58 L550.39,57.36 L550.58,56.17 L550.80,55.00 L551.07,53.85 L551.38,52.70 L551.70,51.58 L552.05,50.51 L552.40,49.50 L552.75,48.54 L553.12,47.62 L553.50,46.75 L553.89,45.97 L554.30,45.30 L554.73,44.71 L555.19,44.19 L555.66,43.78 L556.13,43.50 L556.60,43.40 L557.06,43.50 L557.53,43.78 L557.99,44.19 L558.45,44.71 L558.90,45.30 L559.34,45.97 L559.79,46.75 L560.22,47.62 L560.63,48.54 L561.00,49.50 L561.33,50.51 L561.62,51.58 L561.90,52.70 L562.15,53.85 L562.40,55.00 L562.64,56.17 L562.86,57.36 L563.07,58.58 L563.28,59.79 L563.50,61.00 L563.74,62.25 L563.99,63.54 L564.24,64.82 L564.48,65.99 L564.70,67.00 L564.87,67.68 L565.00,68.08 L565.12,68.44 L565.28,69.00 L565.50,70.00 L565.81,71.55 L566.18,73.50 L566.58,75.66 L567.00,77.89 L567.40,80.00 L567.78,82.00 L568.16,84.00 L568.54,86.00 L568.93,88.00 L569.35,90.00 L569.79,92.00 L570.25,94.00 L570.73,96.00 L571.21,98.00 L571.70,100.00 L572.18,102.06 L572.65,104.19 L573.14,106.29 L573.65,108.26 L574.20,110.00 L574.80,111.49 L575.43,112.78 L576.09,113.94 L576.78,114.99 L577.50,116.00 L578.25,116.93 L579.03,117.74 L579.83,118.50 L580.66,119.23 L581.50,120.00 L582.38,120.84 L583.29,121.72 L584.21,122.57 L585.12,123.35 L586.00,124.00 L586.83,124.49 L587.64,124.86 L588.42,125.14 L589.21,125.38 L590.00,125.60 L590.80,125.80 L591.61,125.96 L592.42,126.09 L593.22,126.20 L594.00,126.30 L594.78,126.38 L595.57,126.44 L596.34,126.48 L597.05,126.53 L597.70,126.60 L598.25,126.68 L598.73,126.76 L599.15,126.85 L599.57,126.96 L600.00,127.10 L600.45,127.26 L600.91,127.45 L601.35,127.65 L601.79,127.87 L602.20,128.10 L602.58,128.33 L602.94,128.58 L603.28,128.84 L603.63,129.11 L604.00,129.40 L604.39,129.71 L604.79,130.03 L605.20,130.37 L605.60,130.73 L606.00,131.10 L606.39,131.49 L606.77,131.90 L607.15,132.32 L607.53,132.75 L607.90,133.20 L608.27,133.67 L608.63,134.15 L608.98,134.65 L609.34,135.13 L609.70,135.60 L610.06,136.04 L610.42,136.47 L610.77,136.88 L611.13,137.29 L611.50,137.70 L611.87,138.10 L612.25,138.50 L612.64,138.90 L613.02,139.30 L613.40,139.70 L613.78,140.12 L614.16,140.54 L614.54,140.96 L614.92,141.38 L615.30,141.80 L615.67,142.19 L616.03,142.56 L616.39,142.93 L616.78,143.34 L617.20,143.80 L617.68,144.35 L618.19,144.97 L618.73,145.61 L619.28,146.24 L619.80,146.80 L620.31,147.30 L620.81,147.77 L621.30,148.21 L621.80,148.62 L622.30,149.00 L622.79,149.35 L623.27,149.66 L623.75,149.96 L624.26,150.23 L624.80,150.50 L625.38,150.77 L625.98,151.03 L626.61,151.27 L627.28,151.50 L628.00,151.70 L628.74,151.88 L629.48,152.03 L630.28,152.17 L631.20,152.29 L632.30,152.40 L633.59,152.50 L635.02,152.59 L636.59,152.67 L638.26,152.74 L640.00,152.80 L641.57,152.85 L642.99,152.89 L644.63,152.93 L646.84,152.96 L650.00,153.00 L654.82,153.04 L661.06,153.09 L667.64,153.13 L673.48,153.17 L677.50,153.20" fill="none" stroke="#363636" stroke-width="1.3" stroke-linejoin="round" stroke-linecap="round"/>
<path d="M477.00,157.50 L477.50,157.49 L478.00,157.48 L478.50,157.47 L479.01,157.46 L479.51,157.45 L480.01,157.44 L480.51,157.44 L481.01,157.43 L481.51,157.42 L482.01,157.41 L482.51,157.40 L483.01,157.39 L483.52,157.38 L484.02,157.37 L484.52,157.36 L485.02,157.35 L485.52,157.34 L486.02,157.33 L486.52,157.32 L487.02,157.31 L487.53,157.31 L488.03,157.30 L488.53,157.29 L489.03,157.28 L489.53,157.27 L490.03,157.26 L490.53,157.25 L491.04,157.24 L491.54,157.23 L492.04,157.22 L492.54,157.21 L493.04,157.20 L493.54,157.19 L494.04,157.19 L494.54,157.18 L495.04,157.17 L495.55,157.16 L496.05,157.15 L496.55,157.14 L497.05,157.13 L497.55,157.12 L498.05,157.11 L498.55,157.10 L499.06,157.09 L499.56,157.08 L500.06,157.07 L500.56,157.07 L501.06,157.06 L501.56,157.05 L502.06,157.04 L502.56,157.03 L503.06,157.02 L503.57,157.01 L504.07,157.00 L504.57,156.99 L505.07,156.98 L505.57,156.97 L506.07,156.96 L506.57,156.95 L507.07,156.94 L507.58,156.94 L508.08,156.93 L508.58,156.92 L509.08,156.91 L509.58,156.90 L510.08,156.89 L510.58,156.88 L511.09,156.87 L511.59,156.86 L512.09,156.85 L512.59,156.84 L513.09,156.83 L513.59,156.82 L514.09,156.82 L514.59,156.81 L515.09,156.80 L515.60,156.79 L516.10,156.78 L516.60,156.77 L517.10,156.76 L517.60,156.75 L518.10,156.74 L518.60,156.73 L519.11,156.72 L519.61,156.71 L520.11,156.70 L520.61,156.70 L521.11,156.69 L521.61,156.68 L522.11,156.67 L522.61,156.66 L523.11,156.65 L523.62,156.64 L524.12,156.63 L524.62,156.62 L525.12,156.61 L525.62,156.60 L526.12,156.59 L526.62,156.58 L527.12,156.57 L527.63,156.57 L528.13,156.56 L528.63,156.55 L529.13,156.54 L529.63,156.53 L530.13,156.52 L530.63,156.51 L531.14,156.50 L531.64,156.49 L532.14,156.48 L532.64,156.47 L533.14,156.46 L533.64,156.45 L534.14,156.45 L534.64,156.44 L535.14,156.43 L535.65,156.42 L536.15,156.41 L536.65,156.40 L537.15,156.39 L537.65,156.38 L538.15,156.37 L538.65,156.36 L539.16,156.35 L539.66,156.34 L540.16,156.33 L540.66,156.33 L541.16,156.32 L541.66,156.31 L542.16,156.30 L542.66,156.29 L543.16,156.28 L543.67,156.27 L544.17,156.26 L544.67,156.25 L545.17,156.24 L545.67,156.23 L546.17,156.22 L546.67,156.21 L547.17,156.21 L547.68,156.20 L548.18,156.19 L548.68,156.18 L549.18,156.17 L549.68,156.16 L550.18,156.15 L550.68,156.14 L551.19,156.13 L551.69,156.12 L552.19,156.11 L552.69,156.10 L553.19,156.09 L553.69,156.08 L554.19,156.08 L554.69,156.07 L555.19,156.06 L555.70,156.05 L556.20,156.04 L556.70,156.03 L557.20,156.02 L557.70,156.01 L558.20,156.00 L558.70,155.99 L559.21,155.98 L559.71,155.97 L560.21,155.96 L560.71,155.96 L561.21,155.95 L561.71,155.94 L562.21,155.93 L562.71,155.92 L563.21,155.91 L563.72,155.90 L564.22,155.89 L564.72,155.88 L565.22,155.87 L565.72,155.86 L566.22,155.85 L566.72,155.84 L567.23,155.84 L567.73,155.83 L568.23,155.82 L568.73,155.81 L569.23,155.80 L569.73,155.79 L570.23,155.78 L570.73,155.77 L571.24,155.76 L571.74,155.75 L572.24,155.74 L572.74,155.73 L573.24,155.72 L573.74,155.71 L574.24,155.71 L574.74,155.70 L575.24,155.69 L575.75,155.68 L576.25,155.67 L576.75,155.66 L577.25,155.65 L577.75,155.64 L578.25,155.63 L578.75,155.62 L579.26,155.61 L579.76,155.60 L580.26,155.59 L580.76,155.59 L581.26,155.58 L581.76,155.57 L582.26,155.56 L582.76,155.55 L583.26,155.54 L583.77,155.53 L584.27,155.52 L584.77,155.51 L585.27,155.50 L585.77,155.49 L586.27,155.48 L586.77,155.47 L587.27,155.47 L587.78,155.46 L588.28,155.45 L588.78,155.44 L589.28,155.43 L589.78,155.42 L590.28,155.41 L590.78,155.40 L591.29,155.39 L591.79,155.38 L592.29,155.37 L592.79,155.36 L593.29,155.35 L593.79,155.34 L594.29,155.34 L594.79,155.33 L595.29,155.32 L595.80,155.31 L596.30,155.30 L596.80,155.29 L597.30,155.28 L597.80,155.27 L598.30,155.26 L598.80,155.25 L599.31,155.24 L599.81,155.23 L600.31,155.22 L600.81,155.22 L601.31,155.21 L601.81,155.20 L602.31,155.19 L602.81,155.18 L603.31,155.17 L603.82,155.16 L604.32,155.15 L604.82,155.14 L605.32,155.13 L605.82,155.12 L606.32,155.11 L606.82,155.10 L607.33,155.09 L607.83,155.09 L608.33,155.08 L608.83,155.07 L609.33,155.06 L609.83,155.05 L610.33,155.04 L610.83,155.03 L611.34,155.02 L611.84,155.01 L612.34,155.00 L612.84,154.99 L613.34,154.98 L613.84,154.97 L614.34,154.97 L614.84,154.96 L615.34,154.95 L615.85,154.94 L616.35,154.93 L616.85,154.92 L617.35,154.91 L617.85,154.90 L618.35,154.89 L618.85,154.88 L619.36,154.87 L619.86,154.86 L620.36,154.85 L620.86,154.85 L621.36,154.84 L621.86,154.83 L622.36,154.82 L622.86,154.81 L623.36,154.80 L623.87,154.79 L624.37,154.78 L624.87,154.77 L625.37,154.76 L625.87,154.75 L626.37,154.74 L626.87,154.73 L627.38,154.72 L627.88,154.72 L628.38,154.71 L628.88,154.70 L629.38,154.69 L629.88,154.68 L630.38,154.67 L630.88,154.66 L631.39,154.65 L631.89,154.64 L632.39,154.63 L632.89,154.62 L633.39,154.61 L633.89,154.60 L634.39,154.60 L634.89,154.59 L635.39,154.58 L635.90,154.57 L636.40,154.56 L636.90,154.55 L637.40,154.54 L637.90,154.53 L638.40,154.52 L638.90,154.51 L639.41,154.50 L639.91,154.49 L640.41,154.48 L640.91,154.48 L641.41,154.47 L641.91,154.46 L642.41,154.45 L642.91,154.44 L643.41,154.43 L643.92,154.42 L644.42,154.41 L644.92,154.40 L645.42,154.39 L645.92,154.38 L646.42,154.37 L646.92,154.36 L647.42,154.35 L647.93,154.35 L648.43,154.34 L648.93,154.33 L649.43,154.32 L649.93,154.31 L650.43,154.30 L650.93,154.29 L651.44,154.28 L651.94,154.27 L652.44,154.26 L652.94,154.25 L653.44,154.24 L653.94,154.23 L654.44,154.23 L654.94,154.22 L655.44,154.21 L655.95,154.20 L656.45,154.19 L656.95,154.18 L657.45,154.17 L657.95,154.16 L658.45,154.15 L658.95,154.14 L659.46,154.13 L659.96,154.12 L660.46,154.11 L660.96,154.11 L661.46,154.10 L661.96,154.09 L662.46,154.08 L662.96,154.07 L663.46,154.06 L663.97,154.05 L664.47,154.04 L664.97,154.03 L665.47,154.02 L665.97,154.01 L666.47,154.00 L666.97,153.99 L667.48,153.99 L667.98,153.98 L668.48,153.97 L668.98,153.96 L669.48,153.95 L669.98,153.94 L670.48,153.93 L670.98,153.92 L671.49,153.91 L671.99,153.90 L672.49,153.89 L672.99,153.88 L673.49,153.87 L673.99,153.86 L674.49,153.86 L674.99,153.85 L675.49,153.84 L676.00,153.83 L676.50,153.82 L677.00,153.81 L677.50,153.80" fill="none" stroke="#58c06c" stroke-width="1.4" stroke-linejoin="round" stroke-linecap="round"/>
<path d="M477.00,156.50 L477.50,156.49 L478.00,156.48 L478.50,156.47 L479.01,156.46 L479.51,156.45 L480.01,156.44 L480.51,156.44 L481.01,156.43 L481.51,156.42 L482.01,156.41 L482.51,156.40 L483.01,156.39 L483.52,156.38 L484.02,156.37 L484.52,156.36 L485.02,156.35 L485.52,156.34 L486.02,156.33 L486.52,156.32 L487.02,156.31 L487.53,156.31 L488.03,156.30 L488.53,156.29 L489.03,156.28 L489.53,156.27 L490.03,156.26 L490.53,156.25 L491.04,156.24 L491.54,156.23 L492.04,156.22 L492.54,156.21 L493.04,156.20 L493.54,156.19 L494.04,156.19 L494.54,156.18 L495.04,156.17 L495.55,156.16 L496.05,156.15 L496.55,156.14 L497.05,156.13 L497.55,156.12 L498.05,156.11 L498.55,156.10 L499.06,156.09 L499.56,156.08 L500.06,156.07 L500.56,156.07 L501.06,156.06 L501.56,156.05 L502.06,156.04 L502.56,156.03 L503.06,156.02 L503.57,156.01 L504.07,156.00 L504.57,155.99 L505.07,155.98 L505.57,155.97 L506.07,155.96 L506.57,155.95 L507.07,155.94 L507.58,155.94 L508.08,155.93 L508.58,155.92 L509.08,155.91 L509.58,155.90 L510.08,155.89 L510.58,155.88 L511.09,155.87 L511.59,155.86 L512.09,155.85 L512.59,155.84 L513.09,155.83 L513.59,155.82 L514.09,155.82 L514.59,155.81 L515.09,155.80 L515.60,155.79 L516.10,155.78 L516.60,155.77 L517.10,155.76 L517.60,155.75 L518.10,155.74 L518.60,155.73 L519.11,155.72 L519.61,155.71 L520.11,155.70 L520.61,155.70 L521.11,155.69 L521.61,155.68 L522.11,155.67 L522.61,155.66 L523.11,155.65 L523.62,155.64 L524.12,155.63 L524.62,155.62 L525.12,155.61 L525.62,155.60 L526.12,155.59 L526.62,155.58 L527.12,155.57 L527.63,155.57 L528.13,155.56 L528.63,155.55 L529.13,155.54 L529.63,155.53 L530.13,155.52 L530.63,155.51 L531.14,155.50 L531.64,155.49 L532.14,155.48 L532.64,155.47 L533.14,155.46 L533.64,155.45 L534.14,155.45 L534.64,155.44 L535.14,155.43 L535.65,155.42 L536.15,155.41 L536.65,155.40 L537.15,155.39 L537.65,155.38 L538.15,155.37 L538.65,155.36 L539.16,155.35 L539.66,155.34 L540.16,155.33 L540.66,155.33 L541.16,155.32 L541.66,155.31 L542.16,155.30 L542.66,155.29 L543.16,155.28 L543.67,155.27 L544.17,155.26 L544.67,155.25 L545.17,155.24 L545.67,155.23 L546.17,155.22 L546.67,155.21 L547.17,155.21 L547.68,155.20 L548.18,155.19 L548.68,155.18 L549.18,155.17 L549.68,155.16 L550.18,155.15 L550.68,155.14 L551.19,155.13 L551.69,155.12 L552.19,155.11 L552.69,155.10 L553.19,155.09 L553.69,155.08 L554.19,155.08 L554.69,155.07 L555.19,155.06 L555.70,155.05 L556.20,155.04 L556.70,155.03 L557.20,155.02 L557.70,155.01 L558.20,155.00 L558.70,154.99 L559.21,154.98 L559.71,154.97 L560.21,154.96 L560.71,154.96 L561.21,154.95 L561.71,154.94 L562.21,154.93 L562.71,154.92 L563.21,154.91 L563.72,154.90 L564.22,154.89 L564.72,154.88 L565.22,154.87 L565.72,154.86 L566.22,154.85 L566.72,154.84 L567.23,154.84 L567.73,154.83 L568.23,154.82 L568.73,154.81 L569.23,154.80 L569.73,154.79 L570.23,154.78 L570.73,154.77 L571.24,154.76 L571.74,154.75 L572.24,154.74 L572.74,154.73 L573.24,154.72 L573.74,154.71 L574.24,154.71 L574.74,154.70 L575.24,154.69 L575.75,154.68 L576.25,154.67 L576.75,154.66 L577.25,154.65 L577.75,154.64 L578.25,154.63 L578.75,154.62 L579.26,154.61 L579.76,154.60 L580.26,154.59 L580.76,154.59 L581.26,154.58 L581.76,154.57 L582.26,154.56 L582.76,154.55 L583.26,154.54 L583.77,154.53 L584.27,154.52 L584.77,154.51 L585.27,154.50 L585.77,154.49 L586.27,154.48 L586.77,154.47 L587.27,154.47 L587.78,154.46 L588.28,154.45 L588.78,154.44 L589.28,154.43 L589.78,154.42 L590.28,154.41 L590.78,154.40 L591.29,154.39 L591.79,154.38 L592.29,154.37 L592.79,154.36 L593.29,154.35 L593.79,154.34 L594.29,154.34 L594.79,154.33 L595.29,154.32 L595.80,154.31 L596.30,154.30 L596.80,154.29 L597.30,154.28 L597.80,154.27 L598.30,154.26 L598.80,154.25 L599.31,154.24 L599.81,154.23 L600.31,154.22 L600.81,154.22 L601.31,154.21 L601.81,154.20 L602.31,154.19 L602.81,154.18 L603.31,154.17 L603.82,154.16 L604.32,154.15 L604.82,154.14 L605.32,154.13 L605.82,154.12 L606.32,154.11 L606.82,154.10 L607.33,154.09 L607.83,154.09 L608.33,154.08 L608.83,154.07 L609.33,154.06 L609.83,154.05 L610.33,154.04 L610.83,154.03 L611.34,154.02 L611.84,154.01 L612.34,154.00 L612.84,153.99 L613.34,153.98 L613.84,153.97 L614.34,153.97 L614.84,153.96 L615.34,153.95 L615.85,153.94 L616.35,153.93 L616.85,153.92 L617.35,153.91 L617.85,153.90 L618.35,153.89 L618.85,153.88 L619.36,153.87 L619.86,153.86 L620.36,153.85 L620.86,153.85 L621.36,153.84 L621.86,153.83 L622.36,153.82 L622.86,153.81 L623.36,153.80 L623.87,153.79 L624.37,153.78 L624.87,153.77 L625.37,153.76 L625.87,153.75 L626.37,153.74 L626.87,153.73 L627.38,153.72 L627.88,153.72 L628.38,153.71 L628.88,153.70 L629.38,153.69 L629.88,153.68 L630.38,153.67 L630.88,153.66 L631.39,153.65 L631.89,153.64 L632.39,153.63 L632.89,153.62 L633.39,153.61 L633.89,153.60 L634.39,153.60 L634.89,153.59 L635.39,153.58 L635.90,153.57 L636.40,153.56 L636.90,153.55 L637.40,153.54 L637.90,153.53 L638.40,153.52 L638.90,153.51 L639.41,153.50 L639.91,153.49 L640.41,153.48 L640.91,153.48 L641.41,153.47 L641.91,153.46 L642.41,153.45 L642.91,153.44 L643.41,153.43 L643.92,153.42 L644.42,153.41 L644.92,153.40 L645.42,153.39 L645.92,153.38 L646.42,153.37 L646.92,153.36 L647.42,153.35 L647.93,153.35 L648.43,153.34 L648.93,153.33 L649.43,153.32 L649.93,153.31 L650.43,153.30 L650.93,153.29 L651.44,153.28 L651.94,153.27 L652.44,153.26 L652.94,153.25 L653.44,153.24 L653.94,153.23 L654.44,153.23 L654.94,153.22 L655.44,153.21 L655.95,153.20 L656.45,153.19 L656.95,153.18 L657.45,153.17 L657.95,153.16 L658.45,153.15 L658.95,153.14 L659.46,153.13 L659.96,153.12 L660.46,153.11 L660.96,153.11 L661.46,153.10 L661.96,153.09 L662.46,153.08 L662.96,153.07 L663.46,153.06 L663.97,153.05 L664.47,153.04 L664.97,153.03 L665.47,153.02 L665.97,153.01 L666.47,153.00 L666.97,152.99 L667.48,152.99 L667.98,152.98 L668.48,152.97 L668.98,152.96 L669.48,152.95 L669.98,152.94 L670.48,152.93 L670.98,152.92 L671.49,152.91 L671.99,152.90 L672.49,152.89 L672.99,152.88 L673.49,152.87 L673.99,152.86 L674.49,152.86 L674.99,152.85 L675.49,152.84 L676.00,152.83 L676.50,152.82 L677.00,152.81 L677.50,152.80" fill="none" stroke="#58c06c" stroke-width="1.0" stroke-linejoin="round" stroke-linecap="round"/>
</g>
<clipPath id="clipc"><rect x="477" y="5.0" width="200.5" height="161.0"/></clipPath>
<rect x="477" y="5.0" width="200.5" height="161.0" fill="none" stroke="#262626" stroke-width="1.3"/>
<path d="M477.00,166 v3.2 M517.10,166 v3.2 M557.20,166 v3.2 M597.30,166 v3.2 M637.40,166 v3.2 M677.50,166 v3.2" stroke="#222" stroke-width="1.2"/>
<path d="M497.05,166 v2.0 M537.15,166 v2.0 M577.25,166 v2.0 M617.35,166 v2.0 M657.45,166 v2.0" stroke="#222" stroke-width="1.2"/>
<text x="477.0" y="178.2" font-size="8.4" fill="#141414" text-anchor="middle" font-weight="bold" stroke="#141414" stroke-width="0.22">526</text>
<text x="517.1" y="178.2" font-size="8.4" fill="#141414" text-anchor="middle" font-weight="bold" stroke="#141414" stroke-width="0.22">528</text>
<text x="557.2" y="178.2" font-size="8.4" fill="#141414" text-anchor="middle" font-weight="bold" stroke="#141414" stroke-width="0.22">530</text>
<text x="597.3" y="178.2" font-size="8.4" fill="#141414" text-anchor="middle" font-weight="bold" stroke="#141414" stroke-width="0.22">532</text>
<text x="637.4" y="178.2" font-size="8.4" fill="#141414" text-anchor="middle" font-weight="bold" stroke="#141414" stroke-width="0.22">534</text>
<text x="677.5" y="178.2" font-size="8.4" fill="#141414" text-anchor="middle" font-weight="bold" stroke="#141414" stroke-width="0.22">536</text>
<text x="577.6" y="193.5" font-size="10" fill="#141414" text-anchor="middle" font-weight="bold" stroke="#141414" stroke-width="0.22">Binding Energy (eV)</text>
<text x="469.8" y="84.8" font-size="9.7" fill="#141414" text-anchor="middle" font-weight="bold" transform="rotate(-90 469.8 84.8)" stroke="#141414" stroke-width="0.22">Intensity (a.u.)</text>
<text x="484.5" y="32" font-size="24" fill="#000" text-anchor="start" font-weight="bold" stroke="#000" stroke-width="0.22">c</text>
<text x="555.5" y="31.9" font-size="8.3" fill="#141414" text-anchor="middle" font-weight="bold" stroke="#141414" stroke-width="0.22">530.0 eV</text>
<text x="598.5" y="113" font-size="8.3" fill="#141414" text-anchor="middle" font-weight="bold" stroke="#141414" stroke-width="0.22">531.2 eV</text>
<text x="643.3" y="142.9" font-size="8.3" fill="#141414" text-anchor="middle" font-weight="bold" stroke="#141414" stroke-width="0.22">532.2 eV</text>
<text x="672.5" y="16.0" font-size="8.0" fill="#141414" text-anchor="end" font-weight="bold" stroke="#141414" stroke-width="0.22">H<tspan dy="0.33em" font-size="66%">2</tspan><tspan dy="-0.218em">​</tspan>-Nb<tspan dy="0.33em" font-size="66%">2</tspan><tspan dy="-0.218em">​</tspan>O<tspan dy="0.33em" font-size="66%">5</tspan><tspan dy="-0.218em">​</tspan>  O 1s</text>
<g clip-path="url(#clipd)">
<path d="M15.50,364.00 L16.00,363.97 L16.50,363.95 L17.00,363.92 L17.50,363.89 L18.00,363.87 L18.50,363.84 L19.00,363.81 L19.50,363.79 L20.00,363.76 L20.50,363.73 L21.00,363.71 L21.50,363.68 L22.00,363.65 L22.50,363.63 L23.00,363.60 L23.50,363.57 L24.00,363.55 L24.50,363.52 L25.00,363.49 L25.50,363.46 L26.00,363.44 L26.50,363.41 L27.00,363.38 L27.50,363.36 L28.00,363.33 L28.50,363.30 L29.00,363.28 L29.50,363.25 L30.00,363.22 L30.50,363.20 L31.00,363.17 L31.50,363.14 L32.00,363.12 L32.50,363.09 L33.00,363.06 L33.50,363.04 L34.00,363.01 L34.50,362.98 L35.00,362.95 L35.50,362.93 L36.00,362.90 L36.50,362.87 L37.00,362.85 L37.50,362.82 L38.00,362.79 L38.50,362.76 L39.00,362.73 L39.50,362.71 L40.00,362.68 L40.50,362.65 L41.00,362.62 L41.50,362.59 L42.00,362.56 L42.50,362.53 L43.00,362.50 L43.50,362.47 L44.00,362.43 L44.50,362.40 L45.00,362.36 L45.50,362.33 L46.00,362.29 L46.50,362.25 L47.00,362.21 L47.50,362.17 L48.00,362.13 L48.50,362.08 L49.00,362.03 L49.50,361.98 L50.00,361.92 L50.50,361.86 L51.00,361.80 L51.50,361.73 L52.00,361.65 L52.50,361.57 L53.00,361.48 L53.50,361.39 L54.00,361.29 L54.50,361.18 L55.00,361.06 L55.50,360.92 L56.00,360.78 L56.50,360.63 L57.00,360.46 L57.50,360.27 L58.00,360.07 L58.50,359.85 L59.00,359.61 L59.50,359.35 L60.00,359.07 L60.50,358.77 L61.00,358.44 L61.50,358.08 L62.00,357.69 L62.50,357.27 L63.00,356.82 L63.50,356.33 L64.00,355.80 L64.50,355.24 L65.00,354.63 L65.50,353.98 L66.00,353.28 L66.50,352.53 L67.00,351.73 L67.50,350.88 L68.00,349.98 L68.50,349.01 L69.00,347.99 L69.50,346.91 L70.00,345.77 L70.50,344.57 L71.00,343.30 L71.50,341.96 L72.00,340.56 L72.50,339.09 L73.00,337.55 L73.50,335.95 L74.00,334.28 L74.50,332.54 L75.00,330.74 L75.50,328.87 L76.00,326.94 L76.50,324.95 L77.00,322.91 L77.50,320.80 L78.00,318.65 L78.50,316.45 L79.00,314.20 L79.50,311.92 L80.00,309.60 L80.50,307.25 L81.00,304.88 L81.50,302.49 L82.00,300.09 L82.50,297.68 L83.00,295.28 L83.50,292.89 L84.00,290.52 L84.50,288.17 L85.00,285.85 L85.50,283.58 L86.00,281.35 L86.50,279.18 L87.00,277.08 L87.50,275.05 L88.00,273.10 L88.50,271.23 L89.00,269.47 L89.50,267.80 L90.00,266.25 L90.50,264.81 L91.00,263.49 L91.50,262.30 L92.00,261.24 L92.50,260.32 L93.00,259.54 L93.50,258.90 L94.00,258.41 L94.50,258.07 L95.00,257.87 L95.50,257.83 L96.00,257.94 L96.50,258.20 L97.00,258.61 L97.50,259.16 L98.00,259.86 L98.50,260.70 L99.00,261.68 L99.50,262.79 L100.00,264.03 L100.50,265.39 L101.00,266.87 L101.50,268.46 L102.00,270.16 L102.50,271.95 L103.00,273.83 L103.50,275.79 L104.00,277.82 L104.50,279.93 L105.00,282.09 L105.50,284.30 L106.00,286.56 L106.50,288.85 L107.00,291.16 L107.50,293.50 L108.00,295.84 L108.50,298.20 L109.00,300.54 L109.50,302.88 L110.00,305.20 L110.50,307.50 L111.00,309.78 L111.50,312.02 L112.00,314.22 L112.50,316.37 L113.00,318.48 L113.50,320.54 L114.00,322.55 L114.50,324.50 L115.00,326.38 L115.50,328.21 L116.00,329.97 L116.50,331.67 L117.00,333.30 L117.50,334.86 L118.00,336.36 L118.50,337.79 L119.00,339.15 L119.50,340.44 L120.00,341.67 L120.50,342.84 L121.00,343.94 L121.50,344.98 L122.00,345.96 L122.50,346.88 L123.00,347.74 L123.50,348.55 L124.00,349.30 L124.50,350.01 L125.00,350.66 L125.50,351.27 L126.00,351.83 L126.50,352.35 L127.00,352.84 L127.50,353.28 L128.00,353.68 L128.50,354.06 L129.00,354.40 L129.50,354.71 L130.00,354.99 L130.50,355.25 L131.00,355.48 L131.50,355.69 L132.00,355.88 L132.50,356.05 L133.00,356.20 L133.50,356.33 L134.00,356.45 L134.50,356.56 L135.00,356.65 L135.50,356.73 L136.00,356.80 L136.50,356.86 L137.00,356.91 L137.50,356.95 L138.00,356.99 L138.50,357.01 L139.00,357.04 L139.50,357.05 L140.00,357.06 L140.50,357.07 L141.00,357.08 L141.50,357.08 L142.00,357.07 L142.50,357.07 L143.00,357.06 L143.50,357.05 L144.00,357.03 L144.50,357.02 L145.00,357.00 L145.50,356.99 L146.00,356.97 L146.50,356.95 L147.00,356.93 L147.50,356.91 L148.00,356.88 L148.50,356.86 L149.00,356.84 L149.50,356.81 L150.00,356.79 L150.50,356.77 L151.00,356.74 L151.50,356.72 L152.00,356.69 L152.50,356.66 L153.00,356.64 L153.50,356.61 L154.00,356.59 L154.50,356.56 L155.00,356.53 L155.50,356.51 L156.00,356.48 L156.50,356.45 L157.00,356.43 L157.50,356.40 L158.00,356.38 L158.50,356.35 L159.00,356.32 L159.50,356.30 L160.00,356.27 L160.50,356.24 L161.00,356.22 L161.50,356.19 L162.00,356.16 L162.50,356.14 L163.00,356.11 L163.50,356.08 L164.00,356.06 L164.50,356.03 L165.00,356.00 L165.50,355.97 L166.00,355.95 L166.50,355.92 L167.00,355.89 L167.50,355.87 L168.00,355.84 L168.50,355.81 L169.00,355.79 L169.50,355.76 L170.00,355.73 L170.50,355.71 L171.00,355.68 L171.50,355.65 L172.00,355.63 L172.50,355.60 L173.00,355.57 L173.50,355.55 L174.00,355.52 L174.50,355.49 L175.00,355.47 L175.50,355.44 L176.00,355.41 L176.50,355.39 L177.00,355.36 L177.50,355.33 L178.00,355.31 L178.50,355.28 L179.00,355.25 L179.50,355.23 L180.00,355.20 L180.50,355.17 L181.00,355.15 L181.50,355.12 L182.00,355.09 L182.50,355.07 L183.00,355.04 L183.50,355.01 L184.00,354.99 L184.50,354.96 L185.00,354.93 L185.50,354.90 L186.00,354.88 L186.50,354.85 L187.00,354.82 L187.50,354.80 L188.00,354.77 L188.50,354.74 L189.00,354.72 L189.50,354.69 L190.00,354.66 L190.50,354.64 L191.00,354.61 L191.50,354.58 L192.00,354.56 L192.50,354.53 L193.00,354.50 L193.50,354.48 L194.00,354.45 L194.50,354.42 L195.00,354.40 L195.50,354.37 L196.00,354.34 L196.50,354.32 L197.00,354.29 L197.50,354.26 L198.00,354.24 L198.50,354.21 L199.00,354.18 L199.50,354.16 L200.00,354.13 L200.50,354.10 L201.00,354.08 L201.50,354.05 L202.00,354.02 L202.50,354.00 L203.00,353.97 L203.50,353.94 L204.00,353.92 L204.50,353.89 L205.00,353.86 L205.50,353.83 L206.00,353.81 L206.50,353.78 L207.00,353.75 L207.50,353.73 L208.00,353.70 L208.50,353.67 L209.00,353.65 L209.50,353.62 L210.00,353.59 L210.50,353.57 L211.00,353.54 L211.50,353.51 L212.00,353.49 L212.50,353.46 L213.00,353.43 L213.50,353.41 L214.00,353.38 L214.50,353.35 L215.00,353.33 L215.50,353.30 L215.50,353.30 L215.00,353.33 L214.50,353.35 L214.00,353.38 L213.50,353.41 L213.00,353.43 L212.50,353.46 L212.00,353.49 L211.50,353.51 L211.00,353.54 L210.50,353.57 L210.00,353.59 L209.50,353.62 L209.00,353.65 L208.50,353.67 L208.00,353.70 L207.50,353.73 L207.00,353.75 L206.50,353.78 L206.00,353.81 L205.50,353.83 L205.00,353.86 L204.50,353.89 L204.00,353.92 L203.50,353.94 L203.00,353.97 L202.50,354.00 L202.00,354.02 L201.50,354.05 L201.00,354.08 L200.50,354.10 L200.00,354.13 L199.50,354.16 L199.00,354.18 L198.50,354.21 L198.00,354.24 L197.50,354.26 L197.00,354.29 L196.50,354.32 L196.00,354.34 L195.50,354.37 L195.00,354.40 L194.50,354.42 L194.00,354.45 L193.50,354.48 L193.00,354.50 L192.50,354.53 L192.00,354.56 L191.50,354.58 L191.00,354.61 L190.50,354.64 L190.00,354.66 L189.50,354.69 L189.00,354.72 L188.50,354.74 L188.00,354.77 L187.50,354.80 L187.00,354.82 L186.50,354.85 L186.00,354.88 L185.50,354.90 L185.00,354.93 L184.50,354.96 L184.00,354.99 L183.50,355.01 L183.00,355.04 L182.50,355.07 L182.00,355.09 L181.50,355.12 L181.00,355.15 L180.50,355.17 L180.00,355.20 L179.50,355.23 L179.00,355.25 L178.50,355.28 L178.00,355.31 L177.50,355.33 L177.00,355.36 L176.50,355.39 L176.00,355.41 L175.50,355.44 L175.00,355.47 L174.50,355.49 L174.00,355.52 L173.50,355.55 L173.00,355.57 L172.50,355.60 L172.00,355.63 L171.50,355.65 L171.00,355.68 L170.50,355.71 L170.00,355.73 L169.50,355.76 L169.00,355.79 L168.50,355.81 L168.00,355.84 L167.50,355.87 L167.00,355.89 L166.50,355.92 L166.00,355.95 L165.50,355.98 L165.00,356.00 L164.50,356.03 L164.00,356.06 L163.50,356.08 L163.00,356.11 L162.50,356.14 L162.00,356.16 L161.50,356.19 L161.00,356.22 L160.50,356.24 L160.00,356.27 L159.50,356.30 L159.00,356.32 L158.50,356.35 L158.00,356.38 L157.50,356.40 L157.00,356.43 L156.50,356.46 L156.00,356.48 L155.50,356.51 L155.00,356.54 L154.50,356.56 L154.00,356.59 L153.50,356.62 L153.00,356.64 L152.50,356.67 L152.00,356.70 L151.50,356.72 L151.00,356.75 L150.50,356.78 L150.00,356.80 L149.50,356.83 L149.00,356.86 L148.50,356.88 L148.00,356.91 L147.50,356.94 L147.00,356.96 L146.50,356.99 L146.00,357.02 L145.50,357.05 L145.00,357.07 L144.50,357.10 L144.00,357.13 L143.50,357.15 L143.00,357.18 L142.50,357.21 L142.00,357.23 L141.50,357.26 L141.00,357.29 L140.50,357.31 L140.00,357.34 L139.50,357.37 L139.00,357.39 L138.50,357.42 L138.00,357.45 L137.50,357.47 L137.00,357.50 L136.50,357.53 L136.00,357.55 L135.50,357.58 L135.00,357.61 L134.50,357.63 L134.00,357.66 L133.50,357.69 L133.00,357.71 L132.50,357.74 L132.00,357.77 L131.50,357.79 L131.00,357.82 L130.50,357.85 L130.00,357.87 L129.50,357.90 L129.00,357.93 L128.50,357.95 L128.00,357.98 L127.50,358.01 L127.00,358.03 L126.50,358.06 L126.00,358.09 L125.50,358.12 L125.00,358.14 L124.50,358.17 L124.00,358.20 L123.50,358.22 L123.00,358.25 L122.50,358.28 L122.00,358.30 L121.50,358.33 L121.00,358.36 L120.50,358.38 L120.00,358.41 L119.50,358.44 L119.00,358.46 L118.50,358.49 L118.00,358.52 L117.50,358.54 L117.00,358.57 L116.50,358.60 L116.00,358.62 L115.50,358.65 L115.00,358.68 L114.50,358.70 L114.00,358.73 L113.50,358.76 L113.00,358.78 L112.50,358.81 L112.00,358.84 L111.50,358.86 L111.00,358.89 L110.50,358.92 L110.00,358.94 L109.50,358.97 L109.00,359.00 L108.50,359.02 L108.00,359.05 L107.50,359.08 L107.00,359.10 L106.50,359.13 L106.00,359.16 L105.50,359.19 L105.00,359.21 L104.50,359.24 L104.00,359.27 L103.50,359.29 L103.00,359.32 L102.50,359.35 L102.00,359.37 L101.50,359.40 L101.00,359.43 L100.50,359.45 L100.00,359.48 L99.50,359.51 L99.00,359.53 L98.50,359.56 L98.00,359.59 L97.50,359.61 L97.00,359.64 L96.50,359.67 L96.00,359.69 L95.50,359.72 L95.00,359.75 L94.50,359.77 L94.00,359.80 L93.50,359.83 L93.00,359.85 L92.50,359.88 L92.00,359.91 L91.50,359.93 L91.00,359.96 L90.50,359.99 L90.00,360.01 L89.50,360.04 L89.00,360.07 L88.50,360.09 L88.00,360.12 L87.50,360.15 L87.00,360.17 L86.50,360.20 L86.00,360.23 L85.50,360.25 L85.00,360.28 L84.50,360.31 L84.00,360.34 L83.50,360.36 L83.00,360.39 L82.50,360.42 L82.00,360.44 L81.50,360.47 L81.00,360.50 L80.50,360.52 L80.00,360.55 L79.50,360.58 L79.00,360.60 L78.50,360.63 L78.00,360.66 L77.50,360.68 L77.00,360.71 L76.50,360.74 L76.00,360.76 L75.50,360.79 L75.00,360.82 L74.50,360.84 L74.00,360.87 L73.50,360.90 L73.00,360.92 L72.50,360.95 L72.00,360.98 L71.50,361.00 L71.00,361.03 L70.50,361.06 L70.00,361.08 L69.50,361.11 L69.00,361.14 L68.50,361.16 L68.00,361.19 L67.50,361.22 L67.00,361.24 L66.50,361.27 L66.00,361.30 L65.50,361.32 L65.00,361.35 L64.50,361.38 L64.00,361.41 L63.50,361.43 L63.00,361.46 L62.50,361.49 L62.00,361.51 L61.50,361.54 L61.00,361.57 L60.50,361.59 L60.00,361.62 L59.50,361.65 L59.00,361.67 L58.50,361.70 L58.00,361.73 L57.50,361.75 L57.00,361.78 L56.50,361.81 L56.00,361.83 L55.50,361.86 L55.00,361.89 L54.50,361.91 L54.00,361.94 L53.50,361.97 L53.00,361.99 L52.50,362.02 L52.00,362.05 L51.50,362.07 L51.00,362.10 L50.50,362.13 L50.00,362.15 L49.50,362.18 L49.00,362.21 L48.50,362.23 L48.00,362.26 L47.50,362.29 L47.00,362.31 L46.50,362.34 L46.00,362.37 L45.50,362.39 L45.00,362.42 L44.50,362.45 L44.00,362.48 L43.50,362.50 L43.00,362.53 L42.50,362.56 L42.00,362.58 L41.50,362.61 L41.00,362.64 L40.50,362.66 L40.00,362.69 L39.50,362.72 L39.00,362.74 L38.50,362.77 L38.00,362.80 L37.50,362.82 L37.00,362.85 L36.50,362.88 L36.00,362.90 L35.50,362.93 L35.00,362.96 L34.50,362.98 L34.00,363.01 L33.50,363.04 L33.00,363.06 L32.50,363.09 L32.00,363.12 L31.50,363.14 L31.00,363.17 L30.50,363.20 L30.00,363.22 L29.50,363.25 L29.00,363.28 L28.50,363.30 L28.00,363.33 L27.50,363.36 L27.00,363.38 L26.50,363.41 L26.00,363.44 L25.50,363.46 L25.00,363.49 L24.50,363.52 L24.00,363.55 L23.50,363.57 L23.00,363.60 L22.50,363.63 L22.00,363.65 L21.50,363.68 L21.00,363.71 L20.50,363.73 L20.00,363.76 L19.50,363.79 L19.00,363.81 L18.50,363.84 L18.00,363.87 L17.50,363.89 L17.00,363.92 L16.50,363.95 L16.00,363.97 L15.50,364.00 Z" fill="#6eaad9" fill-opacity="0.6" stroke="#6eaad9" stroke-opacity="0.7" stroke-width="0.6"/>
<path d="M15.50,363.73 L16.00,363.70 L16.50,363.68 L17.00,363.65 L17.50,363.62 L18.00,363.59 L18.50,363.56 L19.00,363.53 L19.50,363.50 L20.00,363.47 L20.50,363.44 L21.00,363.41 L21.50,363.38 L22.00,363.35 L22.50,363.32 L23.00,363.29 L23.50,363.26 L24.00,363.23 L24.50,363.20 L25.00,363.17 L25.50,363.14 L26.00,363.11 L26.50,363.08 L27.00,363.05 L27.50,363.02 L28.00,362.99 L28.50,362.96 L29.00,362.93 L29.50,362.90 L30.00,362.87 L30.50,362.84 L31.00,362.81 L31.50,362.78 L32.00,362.75 L32.50,362.72 L33.00,362.68 L33.50,362.65 L34.00,362.62 L34.50,362.59 L35.00,362.56 L35.50,362.53 L36.00,362.50 L36.50,362.47 L37.00,362.43 L37.50,362.40 L38.00,362.37 L38.50,362.34 L39.00,362.31 L39.50,362.28 L40.00,362.24 L40.50,362.21 L41.00,362.18 L41.50,362.15 L42.00,362.11 L42.50,362.08 L43.00,362.05 L43.50,362.02 L44.00,361.98 L44.50,361.95 L45.00,361.92 L45.50,361.88 L46.00,361.85 L46.50,361.82 L47.00,361.78 L47.50,361.75 L48.00,361.72 L48.50,361.68 L49.00,361.65 L49.50,361.61 L50.00,361.58 L50.50,361.54 L51.00,361.51 L51.50,361.47 L52.00,361.44 L52.50,361.40 L53.00,361.37 L53.50,361.33 L54.00,361.30 L54.50,361.26 L55.00,361.22 L55.50,361.19 L56.00,361.15 L56.50,361.11 L57.00,361.08 L57.50,361.04 L58.00,361.00 L58.50,360.96 L59.00,360.93 L59.50,360.89 L60.00,360.85 L60.50,360.81 L61.00,360.77 L61.50,360.73 L62.00,360.69 L62.50,360.65 L63.00,360.61 L63.50,360.57 L64.00,360.53 L64.50,360.49 L65.00,360.44 L65.50,360.40 L66.00,360.36 L66.50,360.32 L67.00,360.27 L67.50,360.23 L68.00,360.18 L68.50,360.14 L69.00,360.09 L69.50,360.05 L70.00,360.00 L70.50,359.95 L71.00,359.91 L71.50,359.86 L72.00,359.81 L72.50,359.76 L73.00,359.71 L73.50,359.66 L74.00,359.61 L74.50,359.55 L75.00,359.50 L75.50,359.45 L76.00,359.39 L76.50,359.34 L77.00,359.28 L77.50,359.22 L78.00,359.16 L78.50,359.10 L79.00,359.04 L79.50,358.98 L80.00,358.92 L80.50,358.85 L81.00,358.78 L81.50,358.71 L82.00,358.64 L82.50,358.57 L83.00,358.49 L83.50,358.41 L84.00,358.33 L84.50,358.25 L85.00,358.16 L85.50,358.07 L86.00,357.97 L86.50,357.87 L87.00,357.76 L87.50,357.65 L88.00,357.53 L88.50,357.41 L89.00,357.27 L89.50,357.13 L90.00,356.98 L90.50,356.81 L91.00,356.64 L91.50,356.45 L92.00,356.25 L92.50,356.02 L93.00,355.79 L93.50,355.53 L94.00,355.25 L94.50,354.95 L95.00,354.62 L95.50,354.26 L96.00,353.87 L96.50,353.45 L97.00,353.00 L97.50,352.50 L98.00,351.97 L98.50,351.39 L99.00,350.77 L99.50,350.10 L100.00,349.38 L100.50,348.60 L101.00,347.76 L101.50,346.87 L102.00,345.92 L102.50,344.90 L103.00,343.81 L103.50,342.66 L104.00,341.44 L104.50,340.15 L105.00,338.79 L105.50,337.36 L106.00,335.86 L106.50,334.29 L107.00,332.66 L107.50,330.95 L108.00,329.19 L108.50,327.36 L109.00,325.48 L109.50,323.55 L110.00,321.57 L110.50,319.55 L111.00,317.49 L111.50,315.42 L112.00,313.32 L112.50,311.22 L113.00,309.11 L113.50,307.02 L114.00,304.96 L114.50,302.93 L115.00,300.95 L115.50,299.03 L116.00,297.18 L116.50,295.43 L117.00,293.79 L117.50,292.26 L118.00,290.87 L118.50,289.63 L119.00,288.55 L119.50,287.64 L120.00,286.92 L120.50,286.39 L121.00,286.06 L121.50,285.93 L122.00,286.00 L122.50,286.28 L123.00,286.76 L123.50,287.43 L124.00,288.28 L124.50,289.31 L125.00,290.50 L125.50,291.83 L126.00,293.31 L126.50,294.90 L127.00,296.60 L127.50,298.38 L128.00,300.25 L128.50,302.18 L129.00,304.15 L129.50,306.17 L130.00,308.20 L130.50,310.25 L131.00,312.30 L131.50,314.35 L132.00,316.37 L132.50,318.37 L133.00,320.34 L133.50,322.26 L134.00,324.14 L134.50,325.97 L135.00,327.74 L135.50,329.46 L136.00,331.10 L136.50,332.69 L137.00,334.20 L137.50,335.65 L138.00,337.03 L138.50,338.33 L139.00,339.57 L139.50,340.74 L140.00,341.83 L140.50,342.86 L141.00,343.83 L141.50,344.73 L142.00,345.57 L142.50,346.35 L143.00,347.08 L143.50,347.74 L144.00,348.36 L144.50,348.93 L145.00,349.46 L145.50,349.94 L146.00,350.37 L146.50,350.78 L147.00,351.14 L147.50,351.48 L148.00,351.78 L148.50,352.06 L149.00,352.31 L149.50,352.53 L150.00,352.74 L150.50,352.92 L151.00,353.09 L151.50,353.24 L152.00,353.38 L152.50,353.50 L153.00,353.61 L153.50,353.71 L154.00,353.80 L154.50,353.88 L155.00,353.95 L155.50,354.01 L156.00,354.07 L156.50,354.13 L157.00,354.17 L157.50,354.22 L158.00,354.25 L158.50,354.29 L159.00,354.32 L159.50,354.35 L160.00,354.37 L160.50,354.39 L161.00,354.41 L161.50,354.43 L162.00,354.45 L162.50,354.46 L163.00,354.47 L163.50,354.49 L164.00,354.49 L164.50,354.50 L165.00,354.51 L165.50,354.51 L166.00,354.52 L166.50,354.52 L167.00,354.52 L167.50,354.53 L168.00,354.53 L168.50,354.53 L169.00,354.52 L169.50,354.52 L170.00,354.52 L170.50,354.52 L171.00,354.51 L171.50,354.51 L172.00,354.50 L172.50,354.50 L173.00,354.49 L173.50,354.48 L174.00,354.48 L174.50,354.47 L175.00,354.46 L175.50,354.45 L176.00,354.44 L176.50,354.43 L177.00,354.42 L177.50,354.41 L178.00,354.40 L178.50,354.39 L179.00,354.37 L179.50,354.36 L180.00,354.35 L180.50,354.34 L181.00,354.32 L181.50,354.31 L182.00,354.30 L182.50,354.28 L183.00,354.27 L183.50,354.25 L184.00,354.24 L184.50,354.22 L185.00,354.21 L185.50,354.19 L186.00,354.17 L186.50,354.16 L187.00,354.14 L187.50,354.13 L188.00,354.11 L188.50,354.09 L189.00,354.07 L189.50,354.06 L190.00,354.04 L190.50,354.02 L191.00,354.00 L191.50,353.98 L192.00,353.97 L192.50,353.95 L193.00,353.93 L193.50,353.91 L194.00,353.89 L194.50,353.87 L195.00,353.85 L195.50,353.83 L196.00,353.81 L196.50,353.79 L197.00,353.77 L197.50,353.75 L198.00,353.73 L198.50,353.71 L199.00,353.69 L199.50,353.67 L200.00,353.65 L200.50,353.63 L201.00,353.61 L201.50,353.59 L202.00,353.57 L202.50,353.54 L203.00,353.52 L203.50,353.50 L204.00,353.48 L204.50,353.46 L205.00,353.44 L205.50,353.41 L206.00,353.39 L206.50,353.37 L207.00,353.35 L207.50,353.33 L208.00,353.30 L208.50,353.28 L209.00,353.26 L209.50,353.24 L210.00,353.21 L210.50,353.19 L211.00,353.17 L211.50,353.15 L212.00,353.12 L212.50,353.10 L213.00,353.08 L213.50,353.06 L214.00,353.03 L214.50,353.01 L215.00,352.99 L215.50,352.96 L215.50,353.30 L215.00,353.33 L214.50,353.35 L214.00,353.38 L213.50,353.41 L213.00,353.43 L212.50,353.46 L212.00,353.49 L211.50,353.51 L211.00,353.54 L210.50,353.57 L210.00,353.59 L209.50,353.62 L209.00,353.65 L208.50,353.67 L208.00,353.70 L207.50,353.73 L207.00,353.75 L206.50,353.78 L206.00,353.81 L205.50,353.83 L205.00,353.86 L204.50,353.89 L204.00,353.92 L203.50,353.94 L203.00,353.97 L202.50,354.00 L202.00,354.02 L201.50,354.05 L201.00,354.08 L200.50,354.10 L200.00,354.13 L199.50,354.16 L199.00,354.18 L198.50,354.21 L198.00,354.24 L197.50,354.26 L197.00,354.29 L196.50,354.32 L196.00,354.34 L195.50,354.37 L195.00,354.40 L194.50,354.42 L194.00,354.45 L193.50,354.48 L193.00,354.50 L192.50,354.53 L192.00,354.56 L191.50,354.58 L191.00,354.61 L190.50,354.64 L190.00,354.66 L189.50,354.69 L189.00,354.72 L188.50,354.74 L188.00,354.77 L187.50,354.80 L187.00,354.82 L186.50,354.85 L186.00,354.88 L185.50,354.90 L185.00,354.93 L184.50,354.96 L184.00,354.99 L183.50,355.01 L183.00,355.04 L182.50,355.07 L182.00,355.09 L181.50,355.12 L181.00,355.15 L180.50,355.17 L180.00,355.20 L179.50,355.23 L179.00,355.25 L178.50,355.28 L178.00,355.31 L177.50,355.33 L177.00,355.36 L176.50,355.39 L176.00,355.41 L175.50,355.44 L175.00,355.47 L174.50,355.49 L174.00,355.52 L173.50,355.55 L173.00,355.57 L172.50,355.60 L172.00,355.63 L171.50,355.65 L171.00,355.68 L170.50,355.71 L170.00,355.73 L169.50,355.76 L169.00,355.79 L168.50,355.81 L168.00,355.84 L167.50,355.87 L167.00,355.89 L166.50,355.92 L166.00,355.95 L165.50,355.98 L165.00,356.00 L164.50,356.03 L164.00,356.06 L163.50,356.08 L163.00,356.11 L162.50,356.14 L162.00,356.16 L161.50,356.19 L161.00,356.22 L160.50,356.24 L160.00,356.27 L159.50,356.30 L159.00,356.32 L158.50,356.35 L158.00,356.38 L157.50,356.40 L157.00,356.43 L156.50,356.46 L156.00,356.48 L155.50,356.51 L155.00,356.54 L154.50,356.56 L154.00,356.59 L153.50,356.62 L153.00,356.64 L152.50,356.67 L152.00,356.70 L151.50,356.72 L151.00,356.75 L150.50,356.78 L150.00,356.80 L149.50,356.83 L149.00,356.86 L148.50,356.88 L148.00,356.91 L147.50,356.94 L147.00,356.96 L146.50,356.99 L146.00,357.02 L145.50,357.05 L145.00,357.07 L144.50,357.10 L144.00,357.13 L143.50,357.15 L143.00,357.18 L142.50,357.21 L142.00,357.23 L141.50,357.26 L141.00,357.29 L140.50,357.31 L140.00,357.34 L139.50,357.37 L139.00,357.39 L138.50,357.42 L138.00,357.45 L137.50,357.47 L137.00,357.50 L136.50,357.53 L136.00,357.55 L135.50,357.58 L135.00,357.61 L134.50,357.63 L134.00,357.66 L133.50,357.69 L133.00,357.71 L132.50,357.74 L132.00,357.77 L131.50,357.79 L131.00,357.82 L130.50,357.85 L130.00,357.87 L129.50,357.90 L129.00,357.93 L128.50,357.95 L128.00,357.98 L127.50,358.01 L127.00,358.03 L126.50,358.06 L126.00,358.09 L125.50,358.12 L125.00,358.14 L124.50,358.17 L124.00,358.20 L123.50,358.22 L123.00,358.25 L122.50,358.28 L122.00,358.30 L121.50,358.33 L121.00,358.36 L120.50,358.38 L120.00,358.41 L119.50,358.44 L119.00,358.46 L118.50,358.49 L118.00,358.52 L117.50,358.54 L117.00,358.57 L116.50,358.60 L116.00,358.62 L115.50,358.65 L115.00,358.68 L114.50,358.70 L114.00,358.73 L113.50,358.76 L113.00,358.78 L112.50,358.81 L112.00,358.84 L111.50,358.86 L111.00,358.89 L110.50,358.92 L110.00,358.94 L109.50,358.97 L109.00,359.00 L108.50,359.02 L108.00,359.05 L107.50,359.08 L107.00,359.10 L106.50,359.13 L106.00,359.16 L105.50,359.19 L105.00,359.21 L104.50,359.24 L104.00,359.27 L103.50,359.29 L103.00,359.32 L102.50,359.35 L102.00,359.37 L101.50,359.40 L101.00,359.43 L100.50,359.45 L100.00,359.48 L99.50,359.51 L99.00,359.53 L98.50,359.56 L98.00,359.59 L97.50,359.61 L97.00,359.64 L96.50,359.67 L96.00,359.69 L95.50,359.72 L95.00,359.75 L94.50,359.77 L94.00,359.80 L93.50,359.83 L93.00,359.85 L92.50,359.88 L92.00,359.91 L91.50,359.93 L91.00,359.96 L90.50,359.99 L90.00,360.01 L89.50,360.04 L89.00,360.07 L88.50,360.09 L88.00,360.12 L87.50,360.15 L87.00,360.17 L86.50,360.20 L86.00,360.23 L85.50,360.25 L85.00,360.28 L84.50,360.31 L84.00,360.34 L83.50,360.36 L83.00,360.39 L82.50,360.42 L82.00,360.44 L81.50,360.47 L81.00,360.50 L80.50,360.52 L80.00,360.55 L79.50,360.58 L79.00,360.60 L78.50,360.63 L78.00,360.66 L77.50,360.68 L77.00,360.71 L76.50,360.74 L76.00,360.76 L75.50,360.79 L75.00,360.82 L74.50,360.84 L74.00,360.87 L73.50,360.90 L73.00,360.92 L72.50,360.95 L72.00,360.98 L71.50,361.00 L71.00,361.03 L70.50,361.06 L70.00,361.08 L69.50,361.11 L69.00,361.14 L68.50,361.16 L68.00,361.19 L67.50,361.22 L67.00,361.24 L66.50,361.27 L66.00,361.30 L65.50,361.32 L65.00,361.35 L64.50,361.38 L64.00,361.41 L63.50,361.43 L63.00,361.46 L62.50,361.49 L62.00,361.51 L61.50,361.54 L61.00,361.57 L60.50,361.59 L60.00,361.62 L59.50,361.65 L59.00,361.67 L58.50,361.70 L58.00,361.73 L57.50,361.75 L57.00,361.78 L56.50,361.81 L56.00,361.83 L55.50,361.86 L55.00,361.89 L54.50,361.91 L54.00,361.94 L53.50,361.97 L53.00,361.99 L52.50,362.02 L52.00,362.05 L51.50,362.07 L51.00,362.10 L50.50,362.13 L50.00,362.15 L49.50,362.18 L49.00,362.21 L48.50,362.23 L48.00,362.26 L47.50,362.29 L47.00,362.31 L46.50,362.34 L46.00,362.37 L45.50,362.39 L45.00,362.42 L44.50,362.45 L44.00,362.48 L43.50,362.50 L43.00,362.53 L42.50,362.56 L42.00,362.58 L41.50,362.61 L41.00,362.64 L40.50,362.66 L40.00,362.69 L39.50,362.72 L39.00,362.74 L38.50,362.77 L38.00,362.80 L37.50,362.82 L37.00,362.85 L36.50,362.88 L36.00,362.90 L35.50,362.93 L35.00,362.96 L34.50,362.98 L34.00,363.01 L33.50,363.04 L33.00,363.06 L32.50,363.09 L32.00,363.12 L31.50,363.14 L31.00,363.17 L30.50,363.20 L30.00,363.22 L29.50,363.25 L29.00,363.28 L28.50,363.30 L28.00,363.33 L27.50,363.36 L27.00,363.38 L26.50,363.41 L26.00,363.44 L25.50,363.46 L25.00,363.49 L24.50,363.52 L24.00,363.55 L23.50,363.57 L23.00,363.60 L22.50,363.63 L22.00,363.65 L21.50,363.68 L21.00,363.71 L20.50,363.73 L20.00,363.76 L19.50,363.79 L19.00,363.81 L18.50,363.84 L18.00,363.87 L17.50,363.89 L17.00,363.92 L16.50,363.95 L16.00,363.97 L15.50,364.00 Z" fill="#75dc6e" fill-opacity="0.6" stroke="#6fd068" stroke-opacity="0.7" stroke-width="0.6"/>
<path d="M15.50,363.48 L16.00,363.45 L16.50,363.42 L17.00,363.39 L17.50,363.36 L18.00,363.33 L18.50,363.30 L19.00,363.26 L19.50,363.23 L20.00,363.20 L20.50,363.17 L21.00,363.14 L21.50,363.11 L22.00,363.08 L22.50,363.05 L23.00,363.01 L23.50,362.98 L24.00,362.95 L24.50,362.92 L25.00,362.89 L25.50,362.86 L26.00,362.82 L26.50,362.79 L27.00,362.76 L27.50,362.73 L28.00,362.70 L28.50,362.66 L29.00,362.63 L29.50,362.60 L30.00,362.57 L30.50,362.53 L31.00,362.50 L31.50,362.47 L32.00,362.44 L32.50,362.40 L33.00,362.37 L33.50,362.34 L34.00,362.30 L34.50,362.27 L35.00,362.24 L35.50,362.20 L36.00,362.17 L36.50,362.14 L37.00,362.10 L37.50,362.07 L38.00,362.04 L38.50,362.00 L39.00,361.97 L39.50,361.93 L40.00,361.90 L40.50,361.87 L41.00,361.83 L41.50,361.80 L42.00,361.76 L42.50,361.73 L43.00,361.69 L43.50,361.66 L44.00,361.62 L44.50,361.59 L45.00,361.55 L45.50,361.52 L46.00,361.48 L46.50,361.45 L47.00,361.41 L47.50,361.37 L48.00,361.34 L48.50,361.30 L49.00,361.27 L49.50,361.23 L50.00,361.19 L50.50,361.16 L51.00,361.12 L51.50,361.08 L52.00,361.04 L52.50,361.01 L53.00,360.97 L53.50,360.93 L54.00,360.89 L54.50,360.85 L55.00,360.82 L55.50,360.78 L56.00,360.74 L56.50,360.70 L57.00,360.66 L57.50,360.62 L58.00,360.58 L58.50,360.54 L59.00,360.50 L59.50,360.46 L60.00,360.42 L60.50,360.38 L61.00,360.34 L61.50,360.30 L62.00,360.26 L62.50,360.21 L63.00,360.17 L63.50,360.13 L64.00,360.09 L64.50,360.04 L65.00,360.00 L65.50,359.96 L66.00,359.91 L66.50,359.87 L67.00,359.82 L67.50,359.78 L68.00,359.73 L68.50,359.69 L69.00,359.64 L69.50,359.60 L70.00,359.55 L70.50,359.50 L71.00,359.45 L71.50,359.41 L72.00,359.36 L72.50,359.31 L73.00,359.26 L73.50,359.21 L74.00,359.16 L74.50,359.11 L75.00,359.06 L75.50,359.01 L76.00,358.96 L76.50,358.90 L77.00,358.85 L77.50,358.80 L78.00,358.74 L78.50,358.69 L79.00,358.63 L79.50,358.57 L80.00,358.52 L80.50,358.46 L81.00,358.40 L81.50,358.34 L82.00,358.28 L82.50,358.22 L83.00,358.16 L83.50,358.10 L84.00,358.04 L84.50,357.97 L85.00,357.91 L85.50,357.84 L86.00,357.78 L86.50,357.71 L87.00,357.64 L87.50,357.57 L88.00,357.50 L88.50,357.43 L89.00,357.36 L89.50,357.28 L90.00,357.21 L90.50,357.13 L91.00,357.05 L91.50,356.97 L92.00,356.89 L92.50,356.81 L93.00,356.73 L93.50,356.64 L94.00,356.56 L94.50,356.47 L95.00,356.38 L95.50,356.29 L96.00,356.19 L96.50,356.10 L97.00,356.00 L97.50,355.90 L98.00,355.80 L98.50,355.69 L99.00,355.59 L99.50,355.48 L100.00,355.37 L100.50,355.25 L101.00,355.14 L101.50,355.02 L102.00,354.90 L102.50,354.77 L103.00,354.64 L103.50,354.51 L104.00,354.37 L104.50,354.24 L105.00,354.09 L105.50,353.95 L106.00,353.80 L106.50,353.64 L107.00,353.48 L107.50,353.32 L108.00,353.15 L108.50,352.98 L109.00,352.80 L109.50,352.61 L110.00,352.42 L110.50,352.23 L111.00,352.02 L111.50,351.82 L112.00,351.60 L112.50,351.38 L113.00,351.14 L113.50,350.91 L114.00,350.66 L114.50,350.40 L115.00,350.14 L115.50,349.86 L116.00,349.58 L116.50,349.28 L117.00,348.98 L117.50,348.66 L118.00,348.33 L118.50,347.98 L119.00,347.63 L119.50,347.26 L120.00,346.87 L120.50,346.47 L121.00,346.05 L121.50,345.62 L122.00,345.16 L122.50,344.69 L123.00,344.20 L123.50,343.69 L124.00,343.15 L124.50,342.60 L125.00,342.02 L125.50,341.41 L126.00,340.78 L126.50,340.12 L127.00,339.44 L127.50,338.72 L128.00,337.98 L128.50,337.21 L129.00,336.40 L129.50,335.56 L130.00,334.70 L130.50,333.79 L131.00,332.86 L131.50,331.89 L132.00,330.90 L132.50,329.87 L133.00,328.81 L133.50,327.73 L134.00,326.62 L134.50,325.49 L135.00,324.34 L135.50,323.18 L136.00,322.02 L136.50,320.85 L137.00,319.69 L137.50,318.55 L138.00,317.43 L138.50,316.35 L139.00,315.31 L139.50,314.33 L140.00,313.42 L140.50,312.59 L141.00,311.84 L141.50,311.20 L142.00,310.66 L142.50,310.24 L143.00,309.94 L143.50,309.78 L144.00,309.74 L144.50,309.83 L145.00,310.04 L145.50,310.38 L146.00,310.84 L146.50,311.41 L147.00,312.09 L147.50,312.85 L148.00,313.69 L148.50,314.61 L149.00,315.58 L149.50,316.60 L150.00,317.66 L150.50,318.75 L151.00,319.85 L151.50,320.96 L152.00,322.07 L152.50,323.18 L153.00,324.28 L153.50,325.36 L154.00,326.42 L154.50,327.45 L155.00,328.46 L155.50,329.44 L156.00,330.39 L156.50,331.31 L157.00,332.20 L157.50,333.05 L158.00,333.87 L158.50,334.66 L159.00,335.42 L159.50,336.15 L160.00,336.84 L160.50,337.51 L161.00,338.15 L161.50,338.76 L162.00,339.34 L162.50,339.90 L163.00,340.43 L163.50,340.94 L164.00,341.42 L164.50,341.88 L165.00,342.33 L165.50,342.75 L166.00,343.15 L166.50,343.54 L167.00,343.90 L167.50,344.26 L168.00,344.59 L168.50,344.91 L169.00,345.22 L169.50,345.51 L170.00,345.79 L170.50,346.06 L171.00,346.31 L171.50,346.56 L172.00,346.79 L172.50,347.01 L173.00,347.23 L173.50,347.43 L174.00,347.63 L174.50,347.81 L175.00,347.99 L175.50,348.16 L176.00,348.33 L176.50,348.48 L177.00,348.63 L177.50,348.78 L178.00,348.92 L178.50,349.05 L179.00,349.17 L179.50,349.30 L180.00,349.41 L180.50,349.52 L181.00,349.63 L181.50,349.73 L182.00,349.83 L182.50,349.92 L183.00,350.01 L183.50,350.10 L184.00,350.18 L184.50,350.26 L185.00,350.34 L185.50,350.41 L186.00,350.48 L186.50,350.54 L187.00,350.61 L187.50,350.67 L188.00,350.73 L188.50,350.78 L189.00,350.84 L189.50,350.89 L190.00,350.94 L190.50,350.98 L191.00,351.03 L191.50,351.07 L192.00,351.11 L192.50,351.15 L193.00,351.18 L193.50,351.22 L194.00,351.25 L194.50,351.29 L195.00,351.32 L195.50,351.34 L196.00,351.37 L196.50,351.40 L197.00,351.42 L197.50,351.45 L198.00,351.47 L198.50,351.49 L199.00,351.51 L199.50,351.53 L200.00,351.54 L200.50,351.56 L201.00,351.57 L201.50,351.59 L202.00,351.60 L202.50,351.61 L203.00,351.63 L203.50,351.64 L204.00,351.65 L204.50,351.65 L205.00,351.66 L205.50,351.67 L206.00,351.68 L206.50,351.68 L207.00,351.69 L207.50,351.69 L208.00,351.69 L208.50,351.70 L209.00,351.70 L209.50,351.70 L210.00,351.70 L210.50,351.70 L211.00,351.70 L211.50,351.70 L212.00,351.70 L212.50,351.70 L213.00,351.70 L213.50,351.69 L214.00,351.69 L214.50,351.69 L215.00,351.68 L215.50,351.68 L215.50,353.30 L215.00,353.33 L214.50,353.35 L214.00,353.38 L213.50,353.41 L213.00,353.43 L212.50,353.46 L212.00,353.49 L211.50,353.51 L211.00,353.54 L210.50,353.57 L210.00,353.59 L209.50,353.62 L209.00,353.65 L208.50,353.67 L208.00,353.70 L207.50,353.73 L207.00,353.75 L206.50,353.78 L206.00,353.81 L205.50,353.83 L205.00,353.86 L204.50,353.89 L204.00,353.92 L203.50,353.94 L203.00,353.97 L202.50,354.00 L202.00,354.02 L201.50,354.05 L201.00,354.08 L200.50,354.10 L200.00,354.13 L199.50,354.16 L199.00,354.18 L198.50,354.21 L198.00,354.24 L197.50,354.26 L197.00,354.29 L196.50,354.32 L196.00,354.34 L195.50,354.37 L195.00,354.40 L194.50,354.42 L194.00,354.45 L193.50,354.48 L193.00,354.50 L192.50,354.53 L192.00,354.56 L191.50,354.58 L191.00,354.61 L190.50,354.64 L190.00,354.66 L189.50,354.69 L189.00,354.72 L188.50,354.74 L188.00,354.77 L187.50,354.80 L187.00,354.82 L186.50,354.85 L186.00,354.88 L185.50,354.90 L185.00,354.93 L184.50,354.96 L184.00,354.99 L183.50,355.01 L183.00,355.04 L182.50,355.07 L182.00,355.09 L181.50,355.12 L181.00,355.15 L180.50,355.17 L180.00,355.20 L179.50,355.23 L179.00,355.25 L178.50,355.28 L178.00,355.31 L177.50,355.33 L177.00,355.36 L176.50,355.39 L176.00,355.41 L175.50,355.44 L175.00,355.47 L174.50,355.49 L174.00,355.52 L173.50,355.55 L173.00,355.57 L172.50,355.60 L172.00,355.63 L171.50,355.65 L171.00,355.68 L170.50,355.71 L170.00,355.73 L169.50,355.76 L169.00,355.79 L168.50,355.81 L168.00,355.84 L167.50,355.87 L167.00,355.89 L166.50,355.92 L166.00,355.95 L165.50,355.98 L165.00,356.00 L164.50,356.03 L164.00,356.06 L163.50,356.08 L163.00,356.11 L162.50,356.14 L162.00,356.16 L161.50,356.19 L161.00,356.22 L160.50,356.24 L160.00,356.27 L159.50,356.30 L159.00,356.32 L158.50,356.35 L158.00,356.38 L157.50,356.40 L157.00,356.43 L156.50,356.46 L156.00,356.48 L155.50,356.51 L155.00,356.54 L154.50,356.56 L154.00,356.59 L153.50,356.62 L153.00,356.64 L152.50,356.67 L152.00,356.70 L151.50,356.72 L151.00,356.75 L150.50,356.78 L150.00,356.80 L149.50,356.83 L149.00,356.86 L148.50,356.88 L148.00,356.91 L147.50,356.94 L147.00,356.96 L146.50,356.99 L146.00,357.02 L145.50,357.05 L145.00,357.07 L144.50,357.10 L144.00,357.13 L143.50,357.15 L143.00,357.18 L142.50,357.21 L142.00,357.23 L141.50,357.26 L141.00,357.29 L140.50,357.31 L140.00,357.34 L139.50,357.37 L139.00,357.39 L138.50,357.42 L138.00,357.45 L137.50,357.47 L137.00,357.50 L136.50,357.53 L136.00,357.55 L135.50,357.58 L135.00,357.61 L134.50,357.63 L134.00,357.66 L133.50,357.69 L133.00,357.71 L132.50,357.74 L132.00,357.77 L131.50,357.79 L131.00,357.82 L130.50,357.85 L130.00,357.87 L129.50,357.90 L129.00,357.93 L128.50,357.95 L128.00,357.98 L127.50,358.01 L127.00,358.03 L126.50,358.06 L126.00,358.09 L125.50,358.12 L125.00,358.14 L124.50,358.17 L124.00,358.20 L123.50,358.22 L123.00,358.25 L122.50,358.28 L122.00,358.30 L121.50,358.33 L121.00,358.36 L120.50,358.38 L120.00,358.41 L119.50,358.44 L119.00,358.46 L118.50,358.49 L118.00,358.52 L117.50,358.54 L117.00,358.57 L116.50,358.60 L116.00,358.62 L115.50,358.65 L115.00,358.68 L114.50,358.70 L114.00,358.73 L113.50,358.76 L113.00,358.78 L112.50,358.81 L112.00,358.84 L111.50,358.86 L111.00,358.89 L110.50,358.92 L110.00,358.94 L109.50,358.97 L109.00,359.00 L108.50,359.02 L108.00,359.05 L107.50,359.08 L107.00,359.10 L106.50,359.13 L106.00,359.16 L105.50,359.19 L105.00,359.21 L104.50,359.24 L104.00,359.27 L103.50,359.29 L103.00,359.32 L102.50,359.35 L102.00,359.37 L101.50,359.40 L101.00,359.43 L100.50,359.45 L100.00,359.48 L99.50,359.51 L99.00,359.53 L98.50,359.56 L98.00,359.59 L97.50,359.61 L97.00,359.64 L96.50,359.67 L96.00,359.69 L95.50,359.72 L95.00,359.75 L94.50,359.77 L94.00,359.80 L93.50,359.83 L93.00,359.85 L92.50,359.88 L92.00,359.91 L91.50,359.93 L91.00,359.96 L90.50,359.99 L90.00,360.01 L89.50,360.04 L89.00,360.07 L88.50,360.09 L88.00,360.12 L87.50,360.15 L87.00,360.17 L86.50,360.20 L86.00,360.23 L85.50,360.25 L85.00,360.28 L84.50,360.31 L84.00,360.34 L83.50,360.36 L83.00,360.39 L82.50,360.42 L82.00,360.44 L81.50,360.47 L81.00,360.50 L80.50,360.52 L80.00,360.55 L79.50,360.58 L79.00,360.60 L78.50,360.63 L78.00,360.66 L77.50,360.68 L77.00,360.71 L76.50,360.74 L76.00,360.76 L75.50,360.79 L75.00,360.82 L74.50,360.84 L74.00,360.87 L73.50,360.90 L73.00,360.92 L72.50,360.95 L72.00,360.98 L71.50,361.00 L71.00,361.03 L70.50,361.06 L70.00,361.08 L69.50,361.11 L69.00,361.14 L68.50,361.16 L68.00,361.19 L67.50,361.22 L67.00,361.24 L66.50,361.27 L66.00,361.30 L65.50,361.32 L65.00,361.35 L64.50,361.38 L64.00,361.41 L63.50,361.43 L63.00,361.46 L62.50,361.49 L62.00,361.51 L61.50,361.54 L61.00,361.57 L60.50,361.59 L60.00,361.62 L59.50,361.65 L59.00,361.67 L58.50,361.70 L58.00,361.73 L57.50,361.75 L57.00,361.78 L56.50,361.81 L56.00,361.83 L55.50,361.86 L55.00,361.89 L54.50,361.91 L54.00,361.94 L53.50,361.97 L53.00,361.99 L52.50,362.02 L52.00,362.05 L51.50,362.07 L51.00,362.10 L50.50,362.13 L50.00,362.15 L49.50,362.18 L49.00,362.21 L48.50,362.23 L48.00,362.26 L47.50,362.29 L47.00,362.31 L46.50,362.34 L46.00,362.37 L45.50,362.39 L45.00,362.42 L44.50,362.45 L44.00,362.48 L43.50,362.50 L43.00,362.53 L42.50,362.56 L42.00,362.58 L41.50,362.61 L41.00,362.64 L40.50,362.66 L40.00,362.69 L39.50,362.72 L39.00,362.74 L38.50,362.77 L38.00,362.80 L37.50,362.82 L37.00,362.85 L36.50,362.88 L36.00,362.90 L35.50,362.93 L35.00,362.96 L34.50,362.98 L34.00,363.01 L33.50,363.04 L33.00,363.06 L32.50,363.09 L32.00,363.12 L31.50,363.14 L31.00,363.17 L30.50,363.20 L30.00,363.22 L29.50,363.25 L29.00,363.28 L28.50,363.30 L28.00,363.33 L27.50,363.36 L27.00,363.38 L26.50,363.41 L26.00,363.44 L25.50,363.46 L25.00,363.49 L24.50,363.52 L24.00,363.55 L23.50,363.57 L23.00,363.60 L22.50,363.63 L22.00,363.65 L21.50,363.68 L21.00,363.71 L20.50,363.73 L20.00,363.76 L19.50,363.79 L19.00,363.81 L18.50,363.84 L18.00,363.87 L17.50,363.89 L17.00,363.92 L16.50,363.95 L16.00,363.97 L15.50,364.00 Z" fill="#285c84" fill-opacity="0.6" stroke="#3e6e94" stroke-opacity="0.7" stroke-width="0.6"/>
<path d="M15.50,368.10 L22.11,365.14 L31.08,365.62 L38.45,363.87 L44.94,363.36 L50.00,363.69 L52.67,361.03 L54.10,362.04 L56.17,360.12 L58.70,361.61 L61.00,355.90 L62.74,354.82 L64.23,354.97 L65.81,350.36 L67.44,349.48 L69.00,345.18 L70.45,339.91 L71.82,336.08 L73.15,335.49 L74.40,331.37 L75.80,326.99 L77.58,322.21 L79.51,312.38 L81.24,304.98 L82.85,299.70 L84.20,292.34 L85.14,285.01 L85.84,281.15 L86.58,277.40 L87.33,272.98 L88.00,268.84 L88.56,265.52 L89.05,262.73 L89.54,259.21 L90.00,256.38 L90.50,254.09 L91.08,252.73 L91.70,252.58 L92.30,251.49 L92.90,249.88 L93.50,248.32 L94.09,246.90 L94.68,245.63 L95.34,243.74 L96.04,242.26 L96.80,243.31 L97.63,243.23 L98.49,241.03 L99.29,240.74 L100.04,241.29 L100.80,241.98 L101.54,243.69 L102.33,245.58 L103.34,245.75 L104.55,244.15 L105.80,246.82 L107.00,248.22 L108.21,250.42 L109.40,250.11 L110.59,253.08 L111.70,255.60 L112.63,255.18 L113.50,254.89 L114.56,253.52 L115.80,254.95 L117.00,257.13 L118.04,256.28 L119.01,257.08 L119.99,257.45 L120.96,259.25 L122.00,260.93 L123.16,258.71 L124.39,260.24 L125.58,262.80 L126.73,266.70 L128.00,268.17 L129.53,270.07 L131.18,272.90 L132.80,274.10 L134.40,275.20 L136.00,281.45 L137.58,282.67 L139.17,283.64 L140.89,288.49 L142.78,288.58 L144.50,293.73 L145.81,298.98 L146.92,301.24 L148.10,302.30 L149.30,306.79 L150.50,310.14 L151.70,313.95 L152.90,316.14 L154.11,321.43 L155.34,326.35 L156.50,327.47 L157.56,328.21 L158.54,328.35 L159.39,331.14 L160.05,333.23 L161.00,334.10 L162.58,335.31 L164.47,339.07 L166.24,340.14 L167.84,338.83 L170.00,342.31 L173.22,344.13 L177.01,344.30 L180.77,347.60 L184.62,349.59 L188.50,348.24 L192.01,348.10 L195.77,348.33 L201.45,349.22 L209.46,352.06 L215.50,349.49" fill="none" stroke="#bdbdbd" stroke-width="1.1" stroke-linejoin="round" stroke-linecap="round"/>
<path d="M15.50,363.40 L18.22,363.23 L22.11,362.99 L26.59,362.70 L31.08,362.40 L35.00,362.10 L38.45,361.79 L41.80,361.46 L44.94,361.12 L47.71,360.79 L50.00,360.50 L51.62,360.27 L52.67,360.09 L53.41,359.92 L54.10,359.70 L55.00,359.40 L56.17,359.01 L57.42,358.57 L58.70,358.08 L59.91,357.52 L61.00,356.90 L61.93,356.26 L62.74,355.60 L63.50,354.85 L64.23,353.97 L65.00,352.90 L65.81,351.57 L66.62,350.03 L67.44,348.35 L68.23,346.65 L69.00,345.00 L69.74,343.42 L70.45,341.85 L71.14,340.26 L71.82,338.65 L72.50,337.00 L73.15,335.42 L73.77,333.93 L74.40,332.34 L75.06,330.49 L75.80,328.20 L76.65,325.37 L77.58,322.11 L78.56,318.59 L79.51,314.93 L80.40,311.30 L81.24,307.55 L82.06,303.59 L82.85,299.62 L83.57,295.86 L84.20,292.50 L84.72,289.64 L85.14,287.14 L85.50,284.87 L85.84,282.70 L86.20,280.50 L86.58,278.25 L86.96,276.02 L87.33,273.88 L87.68,271.85 L88.00,270.00 L88.29,268.35 L88.56,266.88 L88.81,265.52 L89.05,264.25 L89.30,263.00 L89.54,261.80 L89.77,260.69 L90.00,259.63 L90.24,258.58 L90.50,257.50 L90.78,256.37 L91.08,255.21 L91.39,254.07 L91.70,252.98 L92.00,252.00 L92.30,251.12 L92.60,250.31 L92.90,249.58 L93.20,248.91 L93.50,248.30 L93.80,247.78 L94.09,247.34 L94.38,246.96 L94.68,246.59 L95.00,246.20 L95.34,245.78 L95.68,245.34 L96.04,244.92 L96.42,244.53 L96.80,244.20 L97.20,243.93 L97.63,243.70 L98.06,243.51 L98.49,243.38 L98.90,243.30 L99.29,243.28 L99.67,243.32 L100.04,243.41 L100.42,243.54 L100.80,243.70 L101.18,243.87 L101.54,244.04 L101.92,244.27 L102.33,244.58 L102.80,245.00 L103.34,245.57 L103.93,246.27 L104.55,247.05 L105.18,247.84 L105.80,248.60 L106.40,249.33 L107.00,250.08 L107.61,250.82 L108.21,251.53 L108.80,252.20 L109.40,252.83 L110.00,253.44 L110.59,254.01 L111.16,254.54 L111.70,255.00 L112.19,255.39 L112.63,255.72 L113.06,256.00 L113.50,256.25 L114.00,256.50 L114.56,256.73 L115.17,256.94 L115.80,257.12 L116.42,257.31 L117.00,257.50 L117.53,257.69 L118.04,257.86 L118.52,258.04 L119.01,258.25 L119.50,258.50 L119.99,258.78 L120.48,259.07 L120.96,259.40 L121.47,259.81 L122.00,260.30 L122.57,260.90 L123.16,261.58 L123.78,262.34 L124.39,263.15 L125.00,264.00 L125.58,264.90 L126.15,265.86 L126.73,266.87 L127.34,267.92 L128.00,269.00 L128.74,270.14 L129.53,271.33 L130.35,272.55 L131.18,273.78 L132.00,275.00 L132.80,276.20 L133.60,277.39 L134.40,278.58 L135.20,279.78 L136.00,281.00 L136.79,282.21 L137.58,283.41 L138.36,284.63 L139.17,285.91 L140.00,287.30 L140.89,288.83 L141.84,290.48 L142.78,292.18 L143.69,293.87 L144.50,295.50 L145.20,297.02 L145.81,298.48 L146.37,299.93 L146.92,301.42 L147.50,303.00 L148.10,304.70 L148.70,306.49 L149.30,308.33 L149.90,310.18 L150.50,312.00 L151.10,313.83 L151.70,315.68 L152.30,317.52 L152.90,319.30 L153.50,321.00 L154.11,322.63 L154.72,324.23 L155.34,325.75 L155.93,327.15 L156.50,328.40 L157.04,329.46 L157.56,330.37 L158.06,331.16 L158.54,331.89 L159.00,332.60 L159.39,333.25 L159.72,333.80 L160.05,334.33 L160.45,334.90 L161.00,335.60 L161.72,336.47 L162.58,337.47 L163.51,338.51 L164.47,339.51 L165.40,340.40 L166.24,341.12 L167.02,341.73 L167.84,342.30 L168.80,342.90 L170.00,343.60 L171.49,344.47 L173.22,345.46 L175.08,346.48 L177.01,347.42 L178.90,348.20 L180.77,348.78 L182.68,349.24 L184.62,349.60 L186.56,349.91 L188.50,350.20 L190.31,350.47 L192.01,350.69 L193.77,350.87 L195.77,351.04 L198.20,351.20 L201.45,351.37 L205.40,351.54 L209.46,351.68 L213.03,351.81 L215.50,351.90" fill="none" stroke="#363636" stroke-width="1.3" stroke-linejoin="round" stroke-linecap="round"/>
<path d="M15.50,364.60 L16.00,364.57 L16.50,364.55 L17.00,364.52 L17.50,364.49 L18.00,364.47 L18.50,364.44 L19.00,364.41 L19.50,364.39 L20.00,364.36 L20.50,364.33 L21.00,364.31 L21.50,364.28 L22.00,364.25 L22.50,364.23 L23.00,364.20 L23.50,364.17 L24.00,364.15 L24.50,364.12 L25.00,364.09 L25.50,364.06 L26.00,364.04 L26.50,364.01 L27.00,363.98 L27.50,363.96 L28.00,363.93 L28.50,363.90 L29.00,363.88 L29.50,363.85 L30.00,363.82 L30.50,363.80 L31.00,363.77 L31.50,363.74 L32.00,363.72 L32.50,363.69 L33.00,363.66 L33.50,363.64 L34.00,363.61 L34.50,363.58 L35.00,363.56 L35.50,363.53 L36.00,363.50 L36.50,363.48 L37.00,363.45 L37.50,363.42 L38.00,363.40 L38.50,363.37 L39.00,363.34 L39.50,363.32 L40.00,363.29 L40.50,363.26 L41.00,363.24 L41.50,363.21 L42.00,363.18 L42.50,363.16 L43.00,363.13 L43.50,363.10 L44.00,363.08 L44.50,363.05 L45.00,363.02 L45.50,363.00 L46.00,362.97 L46.50,362.94 L47.00,362.91 L47.50,362.89 L48.00,362.86 L48.50,362.83 L49.00,362.81 L49.50,362.78 L50.00,362.75 L50.50,362.73 L51.00,362.70 L51.50,362.67 L52.00,362.65 L52.50,362.62 L53.00,362.59 L53.50,362.57 L54.00,362.54 L54.50,362.51 L55.00,362.49 L55.50,362.46 L56.00,362.43 L56.50,362.41 L57.00,362.38 L57.50,362.35 L58.00,362.33 L58.50,362.30 L59.00,362.27 L59.50,362.25 L60.00,362.22 L60.50,362.19 L61.00,362.17 L61.50,362.14 L62.00,362.11 L62.50,362.09 L63.00,362.06 L63.50,362.03 L64.00,362.01 L64.50,361.98 L65.00,361.95 L65.50,361.93 L66.00,361.90 L66.50,361.87 L67.00,361.84 L67.50,361.82 L68.00,361.79 L68.50,361.76 L69.00,361.74 L69.50,361.71 L70.00,361.68 L70.50,361.66 L71.00,361.63 L71.50,361.60 L72.00,361.58 L72.50,361.55 L73.00,361.52 L73.50,361.50 L74.00,361.47 L74.50,361.44 L75.00,361.42 L75.50,361.39 L76.00,361.36 L76.50,361.34 L77.00,361.31 L77.50,361.28 L78.00,361.26 L78.50,361.23 L79.00,361.20 L79.50,361.18 L80.00,361.15 L80.50,361.12 L81.00,361.10 L81.50,361.07 L82.00,361.04 L82.50,361.02 L83.00,360.99 L83.50,360.96 L84.00,360.94 L84.50,360.91 L85.00,360.88 L85.50,360.86 L86.00,360.83 L86.50,360.80 L87.00,360.77 L87.50,360.75 L88.00,360.72 L88.50,360.69 L89.00,360.67 L89.50,360.64 L90.00,360.61 L90.50,360.59 L91.00,360.56 L91.50,360.53 L92.00,360.51 L92.50,360.48 L93.00,360.45 L93.50,360.43 L94.00,360.40 L94.50,360.37 L95.00,360.35 L95.50,360.32 L96.00,360.29 L96.50,360.27 L97.00,360.24 L97.50,360.21 L98.00,360.19 L98.50,360.16 L99.00,360.13 L99.50,360.11 L100.00,360.08 L100.50,360.05 L101.00,360.03 L101.50,360.00 L102.00,359.97 L102.50,359.95 L103.00,359.92 L103.50,359.89 L104.00,359.87 L104.50,359.84 L105.00,359.81 L105.50,359.79 L106.00,359.76 L106.50,359.73 L107.00,359.70 L107.50,359.68 L108.00,359.65 L108.50,359.62 L109.00,359.60 L109.50,359.57 L110.00,359.54 L110.50,359.52 L111.00,359.49 L111.50,359.46 L112.00,359.44 L112.50,359.41 L113.00,359.38 L113.50,359.36 L114.00,359.33 L114.50,359.30 L115.00,359.28 L115.50,359.25 L116.00,359.22 L116.50,359.20 L117.00,359.17 L117.50,359.14 L118.00,359.12 L118.50,359.09 L119.00,359.06 L119.50,359.04 L120.00,359.01 L120.50,358.98 L121.00,358.96 L121.50,358.93 L122.00,358.90 L122.50,358.88 L123.00,358.85 L123.50,358.82 L124.00,358.80 L124.50,358.77 L125.00,358.74 L125.50,358.72 L126.00,358.69 L126.50,358.66 L127.00,358.63 L127.50,358.61 L128.00,358.58 L128.50,358.55 L129.00,358.53 L129.50,358.50 L130.00,358.47 L130.50,358.45 L131.00,358.42 L131.50,358.39 L132.00,358.37 L132.50,358.34 L133.00,358.31 L133.50,358.29 L134.00,358.26 L134.50,358.23 L135.00,358.21 L135.50,358.18 L136.00,358.15 L136.50,358.13 L137.00,358.10 L137.50,358.07 L138.00,358.05 L138.50,358.02 L139.00,357.99 L139.50,357.97 L140.00,357.94 L140.50,357.91 L141.00,357.89 L141.50,357.86 L142.00,357.83 L142.50,357.81 L143.00,357.78 L143.50,357.75 L144.00,357.73 L144.50,357.70 L145.00,357.67 L145.50,357.65 L146.00,357.62 L146.50,357.59 L147.00,357.56 L147.50,357.54 L148.00,357.51 L148.50,357.48 L149.00,357.46 L149.50,357.43 L150.00,357.40 L150.50,357.38 L151.00,357.35 L151.50,357.32 L152.00,357.30 L152.50,357.27 L153.00,357.24 L153.50,357.22 L154.00,357.19 L154.50,357.16 L155.00,357.14 L155.50,357.11 L156.00,357.08 L156.50,357.06 L157.00,357.03 L157.50,357.00 L158.00,356.98 L158.50,356.95 L159.00,356.92 L159.50,356.90 L160.00,356.87 L160.50,356.84 L161.00,356.82 L161.50,356.79 L162.00,356.76 L162.50,356.74 L163.00,356.71 L163.50,356.68 L164.00,356.66 L164.50,356.63 L165.00,356.60 L165.50,356.58 L166.00,356.55 L166.50,356.52 L167.00,356.49 L167.50,356.47 L168.00,356.44 L168.50,356.41 L169.00,356.39 L169.50,356.36 L170.00,356.33 L170.50,356.31 L171.00,356.28 L171.50,356.25 L172.00,356.23 L172.50,356.20 L173.00,356.17 L173.50,356.15 L174.00,356.12 L174.50,356.09 L175.00,356.07 L175.50,356.04 L176.00,356.01 L176.50,355.99 L177.00,355.96 L177.50,355.93 L178.00,355.91 L178.50,355.88 L179.00,355.85 L179.50,355.83 L180.00,355.80 L180.50,355.77 L181.00,355.75 L181.50,355.72 L182.00,355.69 L182.50,355.67 L183.00,355.64 L183.50,355.61 L184.00,355.59 L184.50,355.56 L185.00,355.53 L185.50,355.50 L186.00,355.48 L186.50,355.45 L187.00,355.42 L187.50,355.40 L188.00,355.37 L188.50,355.34 L189.00,355.32 L189.50,355.29 L190.00,355.26 L190.50,355.24 L191.00,355.21 L191.50,355.18 L192.00,355.16 L192.50,355.13 L193.00,355.10 L193.50,355.08 L194.00,355.05 L194.50,355.02 L195.00,355.00 L195.50,354.97 L196.00,354.94 L196.50,354.92 L197.00,354.89 L197.50,354.86 L198.00,354.84 L198.50,354.81 L199.00,354.78 L199.50,354.76 L200.00,354.73 L200.50,354.70 L201.00,354.68 L201.50,354.65 L202.00,354.62 L202.50,354.60 L203.00,354.57 L203.50,354.54 L204.00,354.52 L204.50,354.49 L205.00,354.46 L205.50,354.44 L206.00,354.41 L206.50,354.38 L207.00,354.35 L207.50,354.33 L208.00,354.30 L208.50,354.27 L209.00,354.25 L209.50,354.22 L210.00,354.19 L210.50,354.17 L211.00,354.14 L211.50,354.11 L212.00,354.09 L212.50,354.06 L213.00,354.03 L213.50,354.01 L214.00,353.98 L214.50,353.95 L215.00,353.93 L215.50,353.90" fill="none" stroke="#58c06c" stroke-width="1.4" stroke-linejoin="round" stroke-linecap="round"/>
<path d="M15.50,363.60 L16.00,363.57 L16.50,363.55 L17.00,363.52 L17.50,363.49 L18.00,363.47 L18.50,363.44 L19.00,363.41 L19.50,363.39 L20.00,363.36 L20.50,363.33 L21.00,363.31 L21.50,363.28 L22.00,363.25 L22.50,363.23 L23.00,363.20 L23.50,363.17 L24.00,363.15 L24.50,363.12 L25.00,363.09 L25.50,363.06 L26.00,363.04 L26.50,363.01 L27.00,362.98 L27.50,362.96 L28.00,362.93 L28.50,362.90 L29.00,362.88 L29.50,362.85 L30.00,362.82 L30.50,362.80 L31.00,362.77 L31.50,362.74 L32.00,362.72 L32.50,362.69 L33.00,362.66 L33.50,362.64 L34.00,362.61 L34.50,362.58 L35.00,362.56 L35.50,362.53 L36.00,362.50 L36.50,362.48 L37.00,362.45 L37.50,362.42 L38.00,362.40 L38.50,362.37 L39.00,362.34 L39.50,362.32 L40.00,362.29 L40.50,362.26 L41.00,362.24 L41.50,362.21 L42.00,362.18 L42.50,362.16 L43.00,362.13 L43.50,362.10 L44.00,362.08 L44.50,362.05 L45.00,362.02 L45.50,362.00 L46.00,361.97 L46.50,361.94 L47.00,361.91 L47.50,361.89 L48.00,361.86 L48.50,361.83 L49.00,361.81 L49.50,361.78 L50.00,361.75 L50.50,361.73 L51.00,361.70 L51.50,361.67 L52.00,361.65 L52.50,361.62 L53.00,361.59 L53.50,361.57 L54.00,361.54 L54.50,361.51 L55.00,361.49 L55.50,361.46 L56.00,361.43 L56.50,361.41 L57.00,361.38 L57.50,361.35 L58.00,361.33 L58.50,361.30 L59.00,361.27 L59.50,361.25 L60.00,361.22 L60.50,361.19 L61.00,361.17 L61.50,361.14 L62.00,361.11 L62.50,361.09 L63.00,361.06 L63.50,361.03 L64.00,361.01 L64.50,360.98 L65.00,360.95 L65.50,360.93 L66.00,360.90 L66.50,360.87 L67.00,360.84 L67.50,360.82 L68.00,360.79 L68.50,360.76 L69.00,360.74 L69.50,360.71 L70.00,360.68 L70.50,360.66 L71.00,360.63 L71.50,360.60 L72.00,360.58 L72.50,360.55 L73.00,360.52 L73.50,360.50 L74.00,360.47 L74.50,360.44 L75.00,360.42 L75.50,360.39 L76.00,360.36 L76.50,360.34 L77.00,360.31 L77.50,360.28 L78.00,360.26 L78.50,360.23 L79.00,360.20 L79.50,360.18 L80.00,360.15 L80.50,360.12 L81.00,360.10 L81.50,360.07 L82.00,360.04 L82.50,360.02 L83.00,359.99 L83.50,359.96 L84.00,359.94 L84.50,359.91 L85.00,359.88 L85.50,359.86 L86.00,359.83 L86.50,359.80 L87.00,359.77 L87.50,359.75 L88.00,359.72 L88.50,359.69 L89.00,359.67 L89.50,359.64 L90.00,359.61 L90.50,359.59 L91.00,359.56 L91.50,359.53 L92.00,359.51 L92.50,359.48 L93.00,359.45 L93.50,359.43 L94.00,359.40 L94.50,359.37 L95.00,359.35 L95.50,359.32 L96.00,359.29 L96.50,359.27 L97.00,359.24 L97.50,359.21 L98.00,359.19 L98.50,359.16 L99.00,359.13 L99.50,359.11 L100.00,359.08 L100.50,359.05 L101.00,359.03 L101.50,359.00 L102.00,358.97 L102.50,358.95 L103.00,358.92 L103.50,358.89 L104.00,358.87 L104.50,358.84 L105.00,358.81 L105.50,358.79 L106.00,358.76 L106.50,358.73 L107.00,358.70 L107.50,358.68 L108.00,358.65 L108.50,358.62 L109.00,358.60 L109.50,358.57 L110.00,358.54 L110.50,358.52 L111.00,358.49 L111.50,358.46 L112.00,358.44 L112.50,358.41 L113.00,358.38 L113.50,358.36 L114.00,358.33 L114.50,358.30 L115.00,358.28 L115.50,358.25 L116.00,358.22 L116.50,358.20 L117.00,358.17 L117.50,358.14 L118.00,358.12 L118.50,358.09 L119.00,358.06 L119.50,358.04 L120.00,358.01 L120.50,357.98 L121.00,357.96 L121.50,357.93 L122.00,357.90 L122.50,357.88 L123.00,357.85 L123.50,357.82 L124.00,357.80 L124.50,357.77 L125.00,357.74 L125.50,357.72 L126.00,357.69 L126.50,357.66 L127.00,357.63 L127.50,357.61 L128.00,357.58 L128.50,357.55 L129.00,357.53 L129.50,357.50 L130.00,357.47 L130.50,357.45 L131.00,357.42 L131.50,357.39 L132.00,357.37 L132.50,357.34 L133.00,357.31 L133.50,357.29 L134.00,357.26 L134.50,357.23 L135.00,357.21 L135.50,357.18 L136.00,357.15 L136.50,357.13 L137.00,357.10 L137.50,357.07 L138.00,357.05 L138.50,357.02 L139.00,356.99 L139.50,356.97 L140.00,356.94 L140.50,356.91 L141.00,356.89 L141.50,356.86 L142.00,356.83 L142.50,356.81 L143.00,356.78 L143.50,356.75 L144.00,356.73 L144.50,356.70 L145.00,356.67 L145.50,356.65 L146.00,356.62 L146.50,356.59 L147.00,356.56 L147.50,356.54 L148.00,356.51 L148.50,356.48 L149.00,356.46 L149.50,356.43 L150.00,356.40 L150.50,356.38 L151.00,356.35 L151.50,356.32 L152.00,356.30 L152.50,356.27 L153.00,356.24 L153.50,356.22 L154.00,356.19 L154.50,356.16 L155.00,356.14 L155.50,356.11 L156.00,356.08 L156.50,356.06 L157.00,356.03 L157.50,356.00 L158.00,355.98 L158.50,355.95 L159.00,355.92 L159.50,355.90 L160.00,355.87 L160.50,355.84 L161.00,355.82 L161.50,355.79 L162.00,355.76 L162.50,355.74 L163.00,355.71 L163.50,355.68 L164.00,355.66 L164.50,355.63 L165.00,355.60 L165.50,355.58 L166.00,355.55 L166.50,355.52 L167.00,355.49 L167.50,355.47 L168.00,355.44 L168.50,355.41 L169.00,355.39 L169.50,355.36 L170.00,355.33 L170.50,355.31 L171.00,355.28 L171.50,355.25 L172.00,355.23 L172.50,355.20 L173.00,355.17 L173.50,355.15 L174.00,355.12 L174.50,355.09 L175.00,355.07 L175.50,355.04 L176.00,355.01 L176.50,354.99 L177.00,354.96 L177.50,354.93 L178.00,354.91 L178.50,354.88 L179.00,354.85 L179.50,354.83 L180.00,354.80 L180.50,354.77 L181.00,354.75 L181.50,354.72 L182.00,354.69 L182.50,354.67 L183.00,354.64 L183.50,354.61 L184.00,354.59 L184.50,354.56 L185.00,354.53 L185.50,354.50 L186.00,354.48 L186.50,354.45 L187.00,354.42 L187.50,354.40 L188.00,354.37 L188.50,354.34 L189.00,354.32 L189.50,354.29 L190.00,354.26 L190.50,354.24 L191.00,354.21 L191.50,354.18 L192.00,354.16 L192.50,354.13 L193.00,354.10 L193.50,354.08 L194.00,354.05 L194.50,354.02 L195.00,354.00 L195.50,353.97 L196.00,353.94 L196.50,353.92 L197.00,353.89 L197.50,353.86 L198.00,353.84 L198.50,353.81 L199.00,353.78 L199.50,353.76 L200.00,353.73 L200.50,353.70 L201.00,353.68 L201.50,353.65 L202.00,353.62 L202.50,353.60 L203.00,353.57 L203.50,353.54 L204.00,353.52 L204.50,353.49 L205.00,353.46 L205.50,353.44 L206.00,353.41 L206.50,353.38 L207.00,353.35 L207.50,353.33 L208.00,353.30 L208.50,353.27 L209.00,353.25 L209.50,353.22 L210.00,353.19 L210.50,353.17 L211.00,353.14 L211.50,353.11 L212.00,353.09 L212.50,353.06 L213.00,353.03 L213.50,353.01 L214.00,352.98 L214.50,352.95 L215.00,352.93 L215.50,352.90" fill="none" stroke="#3a7590" stroke-width="1.0" stroke-linejoin="round" stroke-linecap="round"/>
</g>
<clipPath id="clipd"><rect x="15.5" y="208.8" width="200.0" height="160.89999999999998"/></clipPath>
<rect x="15.5" y="208.8" width="200.0" height="160.89999999999998" fill="none" stroke="#262626" stroke-width="1.3"/>
<path d="M15.50,369.7 v3.2 M55.50,369.7 v3.2 M95.50,369.7 v3.2 M135.50,369.7 v3.2 M175.50,369.7 v3.2 M215.50,369.7 v3.2" stroke="#222" stroke-width="1.2"/>
<path d="M35.50,369.7 v2.0 M75.50,369.7 v2.0 M115.50,369.7 v2.0 M155.50,369.7 v2.0 M195.50,369.7 v2.0" stroke="#222" stroke-width="1.2"/>
<text x="15.5" y="381.9" font-size="8.4" fill="#141414" text-anchor="middle" font-weight="bold" stroke="#141414" stroke-width="0.22">526</text>
<text x="55.5" y="381.9" font-size="8.4" fill="#141414" text-anchor="middle" font-weight="bold" stroke="#141414" stroke-width="0.22">528</text>
<text x="95.5" y="381.9" font-size="8.4" fill="#141414" text-anchor="middle" font-weight="bold" stroke="#141414" stroke-width="0.22">530</text>
<text x="135.5" y="381.9" font-size="8.4" fill="#141414" text-anchor="middle" font-weight="bold" stroke="#141414" stroke-width="0.22">532</text>
<text x="175.5" y="381.9" font-size="8.4" fill="#141414" text-anchor="middle" font-weight="bold" stroke="#141414" stroke-width="0.22">534</text>
<text x="215.5" y="381.9" font-size="8.4" fill="#141414" text-anchor="middle" font-weight="bold" stroke="#141414" stroke-width="0.22">536</text>
<text x="115.9" y="397.3" font-size="10" fill="#141414" text-anchor="middle" font-weight="bold" stroke="#141414" stroke-width="0.22">Binding Energy (eV)</text>
<text x="8.4" y="288.8" font-size="9.7" fill="#141414" text-anchor="middle" font-weight="bold" transform="rotate(-90 8.4 288.8)" stroke="#141414" stroke-width="0.22">Intensity (a.u.)</text>
<text x="26.5" y="237.7" font-size="24" fill="#000" text-anchor="start" font-weight="bold" stroke="#000" stroke-width="0.22">d</text>
<text x="101.8" y="238" font-size="8.3" fill="#141414" text-anchor="middle" font-weight="bold" stroke="#141414" stroke-width="0.22">530.0 eV</text>
<text x="141.5" y="257.4" font-size="8.3" fill="#141414" text-anchor="middle" font-weight="bold" stroke="#141414" stroke-width="0.22">531.3 eV</text>
<text x="176" y="311.7" font-size="8.3" fill="#141414" text-anchor="middle" font-weight="bold" stroke="#141414" stroke-width="0.22">532.4 eV</text>
<text x="212.6" y="220.9" font-size="8.0" fill="#141414" text-anchor="end" font-weight="bold" stroke="#141414" stroke-width="0.22">873K-Nb<tspan dy="0.33em" font-size="66%">2</tspan><tspan dy="-0.218em">​</tspan>O<tspan dy="0.33em" font-size="66%">5</tspan><tspan dy="-0.218em">​</tspan>  O 1s</text>
<g clip-path="url(#clipe)">
<path d="M254.50,224.80 L256.31,224.79 L258.91,224.77 L261.94,224.76 L265.04,224.75 L267.84,224.76 L270.00,224.80 L271.46,224.84 L272.52,224.88 L273.28,224.93 L273.87,225.03 L274.40,225.21 L275.00,225.50 L275.62,225.86 L276.15,226.26 L276.62,226.73 L277.07,227.32 L277.52,228.07 L278.00,229.00 L278.51,230.15 L279.04,231.48 L279.56,232.97 L280.07,234.57 L280.56,236.26 L281.00,238.00 L281.38,239.86 L281.70,241.87 L282.00,243.97 L282.30,246.07 L282.62,248.11 L283.00,250.00 L283.44,251.77 L283.93,253.50 L284.44,255.16 L284.96,256.72 L285.49,258.18 L286.00,259.50 L286.51,260.69 L287.04,261.78 L287.57,262.75 L288.09,263.61 L288.57,264.36 L289.00,265.00 L289.36,265.52 L289.67,265.91 L289.95,266.19 L290.21,266.37 L290.49,266.47 L290.80,266.50 L291.13,266.50 L291.47,266.46 L291.83,266.34 L292.19,266.09 L292.58,265.66 L293.00,265.00 L293.44,264.05 L293.90,262.85 L294.39,261.47 L294.90,259.98 L295.43,258.47 L296.00,257.00 L296.61,255.55 L297.26,254.04 L297.94,252.50 L298.63,250.96 L299.32,249.45 L300.00,248.00 L300.64,246.59 L301.26,245.20 L301.88,243.84 L302.52,242.52 L303.22,241.23 L304.00,240.00 L304.88,238.80 L305.85,237.61 L306.88,236.47 L307.93,235.39 L308.98,234.39 L310.00,233.50 L311.00,232.72 L312.00,232.04 L313.00,231.45 L314.00,230.92 L315.00,230.44 L316.00,230.00 L317.02,229.58 L318.07,229.19 L319.12,228.86 L320.15,228.59 L321.12,228.39 L322.00,228.30 L322.81,228.35 L323.56,228.55 L324.25,228.83 L324.89,229.12 L325.47,229.36 L326.00,229.50 L326.43,229.53 L326.74,229.51 L327.00,229.45 L327.26,229.34 L327.57,229.19 L328.00,229.00 L328.50,228.74 L329.04,228.41 L329.62,228.03 L330.30,227.65 L331.08,227.29 L332.00,227.00 L333.06,226.77 L334.22,226.57 L335.50,226.41 L336.89,226.26 L338.39,226.13 L340.00,226.00 L341.76,225.89 L343.67,225.79 L345.69,225.71 L347.78,225.63 L349.90,225.57 L352.00,225.50 L354.11,225.44 L356.26,225.39 L358.44,225.34 L360.63,225.29 L362.82,225.25 L365.00,225.20 L367.13,225.15 L369.22,225.09 L371.31,225.02 L373.44,224.97 L375.66,224.93 L378.00,224.90 L380.59,224.89 L383.41,224.88 L386.31,224.88 L389.15,224.90 L391.76,224.94 L394.00,225.00 L395.84,225.05 L397.39,225.07 L398.71,225.11 L399.88,225.22 L400.96,225.43 L402.00,225.80 L402.98,226.35 L403.85,227.05 L404.62,227.86 L405.32,228.73 L405.97,229.63 L406.60,230.50 L407.19,231.37 L407.71,232.27 L408.18,233.19 L408.63,234.12 L409.06,235.06 L409.50,236.00 L409.94,237.07 L410.36,238.31 L410.77,239.55 L411.18,240.64 L411.59,241.41 L412.00,241.70 L412.42,241.44 L412.83,240.73 L413.25,239.71 L413.67,238.49 L414.08,237.22 L414.50,236.00 L414.92,234.73 L415.35,233.27 L415.78,231.74 L416.20,230.28 L416.61,228.99 L417.00,228.00 L417.34,227.33 L417.63,226.89 L417.91,226.63 L418.20,226.50 L418.56,226.44 L419.00,226.40 L419.54,226.41 L420.15,226.50 L420.81,226.66 L421.52,226.89 L422.25,227.18 L423.00,227.50 L423.80,227.94 L424.67,228.51 L425.56,229.13 L426.44,229.73 L427.27,230.21 L428.00,230.50 L428.62,230.55 L429.15,230.43 L429.62,230.19 L430.07,229.91 L430.52,229.66 L431.00,229.50 L431.49,229.41 L431.96,229.33 L432.44,229.28 L432.93,229.28 L433.44,229.34 L434.00,229.50 L434.62,229.75 L435.29,230.07 L435.98,230.46 L436.68,230.92 L437.36,231.43 L438.00,232.00 L438.60,232.64 L439.17,233.35 L439.73,234.12 L440.27,234.93 L440.79,235.76 L441.30,236.60 L441.78,237.42 L442.22,238.25 L442.64,239.09 L443.07,239.99 L443.52,240.95 L444.00,242.00 L444.54,243.24 L445.11,244.66 L445.71,246.16 L446.30,247.60 L446.87,248.89 L447.40,249.90 L447.87,250.61 L448.29,251.11 L448.69,251.45 L449.10,251.68 L449.52,251.84 L450.00,252.00 L450.56,252.11 L451.19,252.12 L451.84,252.08 L452.47,252.00 L453.04,251.93 L453.50,251.90 L453.85,251.91 L454.11,251.92 L454.32,251.94 L454.47,251.97 L454.60,251.99 L454.70,252.00" fill="none" stroke="#555555" stroke-width="1.3" stroke-linejoin="round" stroke-linecap="round"/>
<path d="M254.50,225.00 L256.31,224.99 L258.91,224.97 L261.94,224.95 L265.04,224.94 L267.84,224.95 L270.00,225.00 L271.46,225.05 L272.52,225.08 L273.28,225.14 L273.87,225.25 L274.40,225.46 L275.00,225.80 L275.62,226.22 L276.15,226.70 L276.62,227.26 L277.07,227.97 L277.52,228.87 L278.00,230.00 L278.51,231.41 L279.04,233.05 L279.56,234.89 L280.07,236.86 L280.56,238.91 L281.00,241.00 L281.38,243.18 L281.70,245.52 L282.00,247.94 L282.30,250.37 L282.62,252.75 L283.00,255.00 L283.44,257.17 L283.93,259.31 L284.44,261.41 L284.96,263.41 L285.49,265.28 L286.00,267.00 L286.51,268.58 L287.04,270.04 L287.57,271.39 L288.09,272.59 L288.57,273.63 L289.00,274.50 L289.36,275.18 L289.67,275.67 L289.95,276.01 L290.21,276.21 L290.49,276.30 L290.80,276.30 L291.13,276.24 L291.47,276.12 L291.83,275.89 L292.19,275.49 L292.58,274.88 L293.00,274.00 L293.44,272.79 L293.90,271.27 L294.39,269.54 L294.90,267.69 L295.43,265.81 L296.00,264.00 L296.61,262.19 L297.26,260.30 L297.94,258.38 L298.63,256.48 L299.32,254.67 L300.00,253.00 L300.64,251.51 L301.24,250.15 L301.85,248.88 L302.49,247.64 L303.19,246.36 L304.00,245.00 L304.94,243.49 L305.99,241.87 L307.10,240.23 L308.24,238.63 L309.35,237.16 L310.40,235.90 L311.38,234.87 L312.31,234.00 L313.22,233.26 L314.13,232.62 L315.05,232.05 L316.00,231.50 L317.00,230.98 L318.04,230.51 L319.10,230.11 L320.13,229.78 L321.11,229.54 L322.00,229.40 L322.81,229.43 L323.56,229.63 L324.25,229.91 L324.89,230.21 L325.47,230.43 L326.00,230.50 L326.43,230.41 L326.74,230.22 L327.00,229.96 L327.26,229.65 L327.57,229.32 L328.00,229.00 L328.50,228.66 L329.04,228.27 L329.62,227.86 L330.30,227.46 L331.08,227.09 L332.00,226.80 L333.06,226.58 L334.22,226.42 L335.50,226.29 L336.89,226.19 L338.39,226.10 L340.00,226.00 L341.61,225.90 L343.19,225.81 L344.88,225.74 L346.81,225.66 L349.14,225.59 L352.00,225.50 L355.64,225.40 L360.00,225.28 L364.75,225.16 L369.56,225.05 L374.08,224.96 L378.00,224.90 L381.34,224.87 L384.37,224.86 L387.12,224.88 L389.63,224.90 L391.91,224.95 L394.00,225.00 L395.84,225.02 L397.39,225.00 L398.71,225.00 L399.88,225.06 L400.96,225.25 L402.00,225.60 L402.98,226.14 L403.85,226.82 L404.62,227.62 L405.32,228.51 L405.97,229.48 L406.60,230.50 L407.19,231.63 L407.71,232.91 L408.18,234.26 L408.63,235.61 L409.06,236.88 L409.50,238.00 L409.94,239.08 L410.36,240.20 L410.77,241.24 L411.18,242.08 L411.59,242.61 L412.00,242.70 L412.42,242.26 L412.83,241.38 L413.25,240.17 L413.67,238.79 L414.08,237.35 L414.50,236.00 L414.92,234.61 L415.35,233.05 L415.78,231.44 L416.20,229.90 L416.61,228.54 L417.00,227.50 L417.34,226.80 L417.63,226.34 L417.91,226.07 L418.20,225.94 L418.56,225.87 L419.00,225.80 L419.54,225.76 L420.15,225.81 L420.81,225.93 L421.52,226.09 L422.25,226.29 L423.00,226.50 L423.76,226.77 L424.56,227.11 L425.38,227.49 L426.22,227.86 L427.10,228.18 L428.00,228.40 L428.97,228.49 L430.00,228.46 L431.06,228.39 L432.11,228.31 L433.10,228.30 L434.00,228.40 L434.79,228.61 L435.51,228.87 L436.17,229.19 L436.79,229.57 L437.40,230.01 L438.00,230.50 L438.60,231.05 L439.17,231.67 L439.73,232.34 L440.27,233.06 L440.79,233.82 L441.30,234.60 L441.78,235.40 L442.22,236.21 L442.64,237.07 L443.07,237.97 L443.52,238.95 L444.00,240.00 L444.54,241.23 L445.11,242.63 L445.71,244.10 L446.30,245.53 L446.87,246.80 L447.40,247.80 L447.87,248.53 L448.29,249.07 L448.69,249.46 L449.10,249.72 L449.52,249.89 L450.00,250.00 L450.56,250.01 L451.19,249.87 L451.84,249.64 L452.47,249.37 L453.04,249.11 L453.50,248.90 L453.85,248.73 L454.11,248.55 L454.32,248.38 L454.47,248.23 L454.60,248.10 L454.70,248.00" fill="none" stroke="#5b9bbf" stroke-width="1.3" stroke-linejoin="round" stroke-linecap="round"/>
<path d="M254.50,225.30 L256.93,225.33 L260.46,225.32 L264.56,225.34 L268.70,225.42 L272.36,225.63 L275.00,226.00 L276.51,226.50 L277.30,227.09 L277.59,227.79 L277.65,228.66 L277.70,229.71 L278.00,231.00 L278.51,232.56 L279.04,234.37 L279.56,236.38 L280.07,238.52 L280.56,240.75 L281.00,243.00 L281.38,245.35 L281.70,247.85 L282.00,250.44 L282.30,253.04 L282.62,255.58 L283.00,258.00 L283.44,260.35 L283.93,262.69 L284.44,264.97 L284.96,267.15 L285.49,269.17 L286.00,271.00 L286.51,272.64 L287.04,274.12 L287.57,275.46 L288.09,276.63 L288.57,277.65 L289.00,278.50 L289.36,279.16 L289.67,279.64 L289.95,279.96 L290.21,280.14 L290.49,280.21 L290.80,280.20 L291.13,280.15 L291.47,280.04 L291.83,279.83 L292.19,279.46 L292.58,278.86 L293.00,278.00 L293.44,276.82 L293.90,275.36 L294.39,273.68 L294.90,271.84 L295.43,269.93 L296.00,268.00 L296.61,265.95 L297.26,263.70 L297.94,261.38 L298.63,259.07 L299.32,256.91 L300.00,255.00 L300.64,253.39 L301.24,252.00 L301.85,250.75 L302.49,249.56 L303.19,248.33 L304.00,247.00 L304.94,245.51 L305.99,243.91 L307.10,242.28 L308.24,240.70 L309.35,239.25 L310.40,238.00 L311.38,236.97 L312.31,236.09 L313.22,235.34 L314.13,234.69 L315.05,234.08 L316.00,233.50 L317.00,232.92 L318.04,232.37 L319.10,231.88 L320.13,231.46 L321.11,231.16 L322.00,231.00 L322.81,231.05 L323.56,231.31 L324.25,231.69 L324.89,232.07 L325.47,232.38 L326.00,232.50 L326.43,232.45 L326.74,232.30 L327.00,232.06 L327.26,231.76 L327.57,231.40 L328.00,231.00 L328.50,230.51 L329.04,229.90 L329.62,229.23 L330.30,228.57 L331.08,227.97 L332.00,227.50 L333.06,227.16 L334.22,226.90 L335.50,226.71 L336.89,226.56 L338.39,226.43 L340.00,226.30 L341.61,226.18 L343.19,226.09 L344.88,226.01 L346.81,225.95 L349.14,225.88 L352.00,225.80 L355.64,225.70 L360.00,225.59 L364.75,225.47 L369.56,225.36 L374.08,225.27 L378.00,225.20 L381.34,225.16 L384.37,225.13 L387.12,225.11 L389.63,225.12 L391.91,225.15 L394.00,225.20 L395.84,225.23 L397.39,225.21 L398.71,225.22 L399.88,225.32 L400.96,225.56 L402.00,226.00 L402.98,226.68 L403.85,227.54 L404.62,228.55 L405.32,229.66 L405.97,230.82 L406.60,232.00 L407.19,233.25 L407.71,234.61 L408.18,236.03 L408.63,237.44 L409.06,238.79 L409.50,240.00 L409.94,241.21 L410.36,242.50 L410.77,243.72 L411.18,244.72 L411.59,245.36 L412.00,245.50 L412.42,245.01 L412.83,243.98 L413.25,242.59 L413.67,241.02 L414.08,239.43 L414.50,238.00 L414.92,236.61 L415.35,235.09 L415.78,233.56 L416.20,232.13 L416.61,230.91 L417.00,230.00 L417.34,229.40 L417.63,229.02 L417.91,228.84 L418.20,228.87 L418.56,229.09 L419.00,229.50 L419.54,230.17 L420.15,231.13 L420.81,232.28 L421.52,233.54 L422.25,234.81 L423.00,236.00 L423.80,237.25 L424.67,238.67 L425.56,240.09 L426.44,241.39 L427.27,242.41 L428.00,243.00 L428.62,243.05 L429.15,242.64 L429.62,241.96 L430.07,241.17 L430.52,240.46 L431.00,240.00 L431.49,239.78 L431.96,239.66 L432.44,239.61 L432.93,239.62 L433.44,239.66 L434.00,239.70 L434.62,239.75 L435.29,239.82 L435.98,239.92 L436.68,240.07 L437.36,240.26 L438.00,240.50 L438.60,240.79 L439.17,241.11 L439.73,241.49 L440.27,241.92 L440.79,242.42 L441.30,243.00 L441.78,243.69 L442.22,244.50 L442.64,245.38 L443.07,246.28 L443.52,247.17 L444.00,248.00 L444.54,248.80 L445.11,249.59 L445.71,250.38 L446.30,251.13 L446.87,251.84 L447.40,252.50 L447.87,253.13 L448.29,253.74 L448.69,254.31 L449.10,254.81 L449.52,255.22 L450.00,255.50 L450.56,255.63 L451.19,255.61 L451.84,255.50 L452.47,255.33 L453.04,255.15 L453.50,255.00 L453.85,254.85 L454.11,254.67 L454.32,254.47 L454.47,254.28 L454.60,254.11 L454.70,254.00" fill="none" stroke="#ffd54a" stroke-width="1.3" stroke-linejoin="round" stroke-linecap="round"/>
<path d="M254.50,225.30 L256.93,225.33 L260.46,225.32 L264.56,225.34 L268.70,225.42 L272.36,225.63 L275.00,226.00 L276.51,226.49 L277.30,227.05 L277.59,227.73 L277.65,228.58 L277.70,229.65 L278.00,231.00 L278.51,232.67 L279.04,234.63 L279.56,236.81 L280.07,239.15 L280.56,241.57 L281.00,244.00 L281.38,246.52 L281.70,249.20 L282.00,251.97 L282.30,254.74 L282.62,257.44 L283.00,260.00 L283.44,262.46 L283.93,264.91 L284.44,267.28 L284.96,269.54 L285.49,271.63 L286.00,273.50 L286.51,275.17 L287.04,276.67 L287.57,278.00 L288.09,279.17 L288.57,280.17 L289.00,281.00 L289.36,281.64 L289.67,282.09 L289.95,282.38 L290.21,282.52 L290.49,282.55 L290.80,282.50 L291.13,282.40 L291.47,282.24 L291.83,281.97 L292.19,281.54 L292.58,280.90 L293.00,280.00 L293.44,278.83 L293.90,277.41 L294.39,275.78 L294.90,273.98 L295.43,272.04 L296.00,270.00 L296.61,267.70 L297.26,265.09 L297.94,262.34 L298.63,259.63 L299.32,257.12 L300.00,255.00 L300.64,253.33 L301.24,252.00 L301.85,250.88 L302.49,249.83 L303.19,248.75 L304.00,247.50 L304.94,246.03 L305.99,244.44 L307.10,242.81 L308.24,241.22 L309.35,239.76 L310.40,238.50 L311.38,237.47 L312.31,236.60 L313.22,235.86 L314.13,235.20 L315.05,234.59 L316.00,234.00 L317.00,233.39 L318.04,232.80 L319.10,232.26 L320.13,231.81 L321.11,231.47 L322.00,231.30 L322.81,231.37 L323.56,231.66 L324.25,232.08 L324.89,232.51 L325.47,232.85 L326.00,233.00 L326.43,232.96 L326.74,232.83 L327.00,232.61 L327.26,232.30 L327.57,231.93 L328.00,231.50 L328.50,230.94 L329.04,230.24 L329.62,229.47 L330.30,228.70 L331.08,228.02 L332.00,227.50 L333.06,227.16 L334.22,226.93 L335.50,226.79 L336.89,226.70 L338.39,226.61 L340.00,226.50 L341.61,226.36 L343.19,226.24 L344.88,226.12 L346.81,226.01 L349.14,225.91 L352.00,225.80 L355.64,225.69 L360.00,225.57 L364.75,225.46 L369.56,225.35 L374.08,225.26 L378.00,225.20 L381.34,225.16 L384.37,225.13 L387.12,225.11 L389.63,225.12 L391.91,225.15 L394.00,225.20 L395.84,225.22 L397.39,225.20 L398.71,225.19 L399.88,225.28 L400.96,225.53 L402.00,226.00 L402.98,226.73 L403.85,227.67 L404.62,228.77 L405.32,229.97 L405.97,231.23 L406.60,232.50 L407.19,233.84 L407.71,235.32 L408.18,236.86 L408.63,238.37 L409.06,239.77 L409.50,241.00 L409.94,242.16 L410.36,243.34 L410.77,244.42 L411.18,245.27 L411.59,245.77 L412.00,245.80 L412.42,245.23 L412.83,244.12 L413.25,242.67 L413.67,241.04 L414.08,239.43 L414.50,238.00 L414.92,236.66 L415.35,235.24 L415.78,233.82 L416.20,232.51 L416.61,231.37 L417.00,230.50 L417.34,229.86 L417.63,229.37 L417.91,229.06 L418.20,228.96 L418.56,229.10 L419.00,229.50 L419.54,230.25 L420.15,231.36 L420.81,232.70 L421.52,234.16 L422.25,235.63 L423.00,237.00 L423.80,238.42 L424.67,240.01 L425.56,241.61 L426.44,243.05 L427.27,244.17 L428.00,244.80 L428.62,244.81 L429.15,244.30 L429.62,243.47 L430.07,242.51 L430.52,241.62 L431.00,241.00 L431.49,240.61 L431.96,240.29 L432.44,240.03 L432.93,239.85 L433.44,239.74 L434.00,239.70 L434.62,239.75 L435.29,239.89 L435.98,240.10 L436.68,240.37 L437.36,240.67 L438.00,241.00 L438.60,241.35 L439.17,241.74 L439.73,242.16 L440.27,242.63 L440.79,243.14 L441.30,243.70 L441.78,244.32 L442.22,244.99 L442.64,245.71 L443.07,246.46 L443.52,247.22 L444.00,248.00 L444.54,248.82 L445.11,249.69 L445.71,250.58 L446.30,251.46 L446.87,252.27 L447.40,253.00 L447.87,253.66 L448.29,254.30 L448.69,254.88 L449.10,255.37 L449.52,255.75 L450.00,256.00 L450.56,256.06 L451.19,255.96 L451.84,255.75 L452.47,255.48 L453.04,255.21 L453.50,255.00 L453.85,254.82 L454.11,254.63 L454.32,254.44 L454.47,254.26 L454.60,254.11 L454.70,254.00" fill="none" stroke="#ff8a36" stroke-width="1.3" stroke-linejoin="round" stroke-linecap="round"/>
<path d="M254.50,224.30 L256.57,224.31 L259.57,224.32 L263.06,224.34 L266.59,224.37 L269.72,224.42 L272.00,224.50 L273.34,224.57 L274.07,224.61 L274.41,224.67 L274.54,224.80 L274.67,225.06 L275.00,225.50 L275.50,226.06 L276.00,226.69 L276.50,227.44 L277.00,228.37 L277.50,229.54 L278.00,231.00 L278.51,232.81 L279.04,234.93 L279.56,237.28 L280.07,239.80 L280.56,242.39 L281.00,245.00 L281.38,247.68 L281.70,250.52 L282.00,253.44 L282.30,256.37 L282.62,259.25 L283.00,262.00 L283.44,264.70 L283.93,267.43 L284.44,270.09 L284.96,272.63 L285.49,274.96 L286.00,277.00 L286.51,278.75 L287.04,280.28 L287.57,281.59 L288.09,282.72 L288.57,283.68 L289.00,284.50 L289.36,285.13 L289.67,285.54 L289.95,285.78 L290.21,285.91 L290.49,285.96 L290.80,286.00 L291.13,286.06 L291.47,286.11 L291.83,286.09 L292.19,285.94 L292.58,285.60 L293.00,285.00 L293.44,284.08 L293.90,282.87 L294.39,281.47 L294.90,279.96 L295.43,278.44 L296.00,277.00 L296.62,275.59 L297.30,274.13 L298.00,272.66 L298.70,271.20 L299.38,269.81 L300.00,268.50 L300.55,267.28 L301.05,266.13 L301.52,265.03 L301.99,263.98 L302.47,262.97 L303.00,262.00 L303.58,261.11 L304.18,260.31 L304.81,259.56 L305.44,258.80 L306.08,257.96 L306.70,257.00 L307.32,255.85 L307.95,254.54 L308.58,253.16 L309.20,251.80 L309.81,250.55 L310.40,249.50 L310.95,248.68 L311.46,248.02 L311.96,247.47 L312.46,246.98 L313.00,246.51 L313.60,246.00 L314.27,245.45 L314.99,244.90 L315.75,244.37 L316.52,243.86 L317.28,243.40 L318.00,243.00 L318.71,242.66 L319.44,242.39 L320.15,242.15 L320.83,241.95 L321.45,241.77 L322.00,241.60 L322.45,241.44 L322.81,241.28 L323.12,241.15 L323.41,241.05 L323.69,241.00 L324.00,241.00 L324.33,241.10 L324.67,241.31 L325.00,241.56 L325.33,241.79 L325.67,241.96 L326.00,242.00 L326.31,241.91 L326.58,241.74 L326.85,241.50 L327.16,241.20 L327.53,240.87 L328.00,240.50 L328.56,240.08 L329.17,239.57 L329.85,239.03 L330.61,238.48 L331.45,237.96 L332.40,237.50 L333.43,237.11 L334.53,236.77 L335.72,236.45 L337.02,236.14 L338.44,235.83 L340.00,235.50 L341.73,235.14 L343.64,234.77 L345.66,234.39 L347.76,234.01 L349.89,233.65 L352.00,233.30 L354.11,232.98 L356.26,232.69 L358.44,232.41 L360.63,232.12 L362.82,231.82 L365.00,231.50 L367.24,231.14 L369.56,230.75 L371.88,230.34 L374.11,229.94 L376.18,229.55 L378.00,229.20 L379.49,228.89 L380.70,228.62 L381.75,228.36 L382.74,228.10 L383.79,227.82 L385.00,227.50 L386.39,227.11 L387.87,226.67 L389.41,226.20 L390.96,225.74 L392.51,225.33 L394.00,225.00 L395.52,224.74 L397.09,224.51 L398.66,224.34 L400.13,224.21 L401.44,224.13 L402.50,224.10 L403.26,224.08 L403.76,224.04 L404.09,224.06 L404.35,224.18 L404.62,224.48 L405.00,225.00 L405.48,225.83 L406.00,226.92 L406.53,228.18 L407.06,229.51 L407.55,230.82 L408.00,232.00 L408.39,233.10 L408.74,234.20 L409.06,235.27 L409.37,236.28 L409.68,237.20 L410.00,238.00 L410.33,238.73 L410.67,239.42 L411.00,240.02 L411.33,240.47 L411.67,240.72 L412.00,240.70 L412.33,240.39 L412.67,239.84 L413.00,239.08 L413.33,238.16 L413.67,237.12 L414.00,236.00 L414.32,234.68 L414.64,233.10 L414.95,231.39 L415.27,229.71 L415.62,228.20 L416.00,227.00 L416.42,226.09 L416.86,225.37 L417.33,224.81 L417.81,224.41 L418.30,224.14 L418.80,224.00 L419.31,224.02 L419.84,224.22 L420.39,224.56 L420.93,225.00 L421.47,225.49 L422.00,226.00 L422.51,226.55 L423.01,227.19 L423.51,227.88 L424.01,228.59 L424.50,229.31 L425.00,230.00 L425.50,230.74 L426.00,231.57 L426.50,232.41 L427.00,233.15 L427.50,233.71 L428.00,234.00 L428.50,233.94 L429.00,233.59 L429.50,233.06 L430.00,232.46 L430.50,231.91 L431.00,231.50 L431.49,231.21 L431.96,230.94 L432.44,230.72 L432.93,230.56 L433.44,230.48 L434.00,230.50 L434.62,230.65 L435.29,230.90 L435.98,231.24 L436.68,231.64 L437.36,232.07 L438.00,232.50 L438.60,232.96 L439.17,233.48 L439.73,234.02 L440.27,234.58 L440.79,235.11 L441.30,235.60 L441.78,236.05 L442.22,236.48 L442.64,236.89 L443.07,237.28 L443.52,237.65 L444.00,238.00 L444.54,238.34 L445.11,238.67 L445.71,238.98 L446.30,239.26 L446.87,239.51 L447.40,239.70 L447.87,239.85 L448.29,239.97 L448.69,240.04 L449.10,240.08 L449.52,240.06 L450.00,240.00 L450.56,239.87 L451.19,239.67 L451.84,239.42 L452.47,239.14 L453.04,238.86 L453.50,238.60 L453.85,238.33 L454.11,238.02 L454.32,237.71 L454.47,237.42 L454.60,237.18 L454.70,237.00" fill="none" stroke="#a3109f" stroke-width="1.3" stroke-linejoin="round" stroke-linecap="round"/>
<path d="M254.50,226.50 L256.57,226.49 L259.57,226.46 L263.06,226.44 L266.59,226.43 L269.72,226.44 L272.00,226.50 L273.35,226.57 L274.11,226.63 L274.47,226.72 L274.61,226.87 L274.73,227.12 L275.00,227.50 L275.38,227.91 L275.70,228.31 L276.00,228.81 L276.30,229.52 L276.62,230.54 L277.00,232.00 L277.44,233.95 L277.93,236.33 L278.44,239.03 L278.96,241.94 L279.49,244.97 L280.00,248.00 L280.51,251.14 L281.04,254.48 L281.56,257.94 L282.07,261.41 L282.56,264.79 L283.00,268.00 L283.38,271.09 L283.70,274.15 L284.00,277.12 L284.30,279.96 L284.62,282.61 L285.00,285.00 L285.45,287.16 L285.96,289.15 L286.49,290.94 L287.03,292.52 L287.54,293.88 L288.00,295.00 L288.40,295.83 L288.77,296.37 L289.12,296.69 L289.45,296.85 L289.77,296.93 L290.10,297.00 L290.42,297.09 L290.71,297.15 L290.99,297.12 L291.29,296.96 L291.62,296.61 L292.00,296.00 L292.42,295.14 L292.88,294.07 L293.37,292.81 L293.89,291.37 L294.43,289.76 L295.00,288.00 L295.62,285.99 L296.30,283.70 L297.00,281.25 L297.70,278.74 L298.38,276.29 L299.00,274.00 L299.55,271.85 L300.04,269.74 L300.50,267.69 L300.96,265.70 L301.45,263.80 L302.00,262.00 L302.60,260.30 L303.24,258.70 L303.91,257.19 L304.60,255.74 L305.30,254.35 L306.00,253.00 L306.70,251.72 L307.39,250.52 L308.10,249.38 L308.83,248.26 L309.59,247.14 L310.40,246.00 L311.26,244.79 L312.16,243.53 L313.10,242.28 L314.06,241.07 L315.03,239.96 L316.00,239.00 L317.00,238.17 L318.04,237.43 L319.10,236.79 L320.13,236.26 L321.11,235.86 L322.00,235.60 L322.81,235.56 L323.56,235.75 L324.25,236.07 L324.89,236.41 L325.47,236.69 L326.00,236.80 L326.42,236.76 L326.73,236.65 L326.97,236.48 L327.23,236.23 L327.55,235.90 L328.00,235.50 L328.56,234.97 L329.17,234.30 L329.85,233.56 L330.61,232.81 L331.45,232.10 L332.40,231.50 L333.48,231.01 L334.68,230.59 L335.97,230.21 L337.32,229.86 L338.67,229.53 L340.00,229.20 L341.36,228.86 L342.79,228.53 L344.23,228.21 L345.62,227.93 L346.90,227.68 L348.00,227.50 L348.91,227.37 L349.69,227.29 L350.35,227.24 L350.92,227.25 L351.43,227.30 L351.90,227.40 L352.30,227.52 L352.59,227.66 L352.82,227.84 L353.02,228.11 L353.24,228.48 L353.50,229.00 L353.81,229.83 L354.14,230.99 L354.48,232.25 L354.82,233.41 L355.16,234.27 L355.50,234.60 L355.83,234.28 L356.15,233.45 L356.47,232.31 L356.80,231.05 L357.14,229.88 L357.50,229.00 L357.71,228.39 L357.72,227.88 L357.75,227.46 L358.00,227.11 L358.68,226.79 L360.00,226.50 L362.13,226.23 L364.93,226.02 L368.16,225.84 L371.57,225.70 L374.94,225.59 L378.00,225.50 L380.90,225.43 L383.85,225.39 L386.75,225.38 L389.48,225.39 L391.94,225.43 L394.00,225.50 L395.61,225.59 L396.85,225.70 L397.81,225.84 L398.59,226.02 L399.29,226.23 L400.00,226.50 L400.67,226.81 L401.20,227.15 L401.65,227.53 L402.07,227.96 L402.50,228.45 L403.00,229.00 L403.57,229.54 L404.18,230.06 L404.81,230.62 L405.43,231.33 L406.03,232.26 L406.60,233.50 L407.13,235.15 L407.63,237.17 L408.12,239.41 L408.59,241.72 L409.05,243.97 L409.50,246.00 L409.94,248.04 L410.36,250.26 L410.77,252.41 L411.18,254.24 L411.59,255.52 L412.00,256.00 L412.42,255.53 L412.83,254.26 L413.25,252.44 L413.67,250.30 L414.08,248.07 L414.50,246.00 L414.92,243.89 L415.36,241.50 L415.79,239.03 L416.22,236.67 L416.62,234.59 L417.00,233.00 L417.31,231.88 L417.56,231.09 L417.79,230.59 L418.05,230.35 L418.37,230.33 L418.80,230.50 L419.35,230.93 L419.99,231.66 L420.70,232.61 L421.45,233.71 L422.23,234.86 L423.00,236.00 L423.81,237.25 L424.68,238.71 L425.57,240.24 L426.45,241.67 L427.27,242.88 L428.00,243.70 L428.62,244.06 L429.15,244.07 L429.62,243.85 L430.07,243.51 L430.52,243.19 L431.00,243.00 L431.49,242.90 L431.96,242.77 L432.44,242.66 L432.93,242.59 L433.44,242.59 L434.00,242.70 L434.62,242.91 L435.29,243.21 L435.98,243.59 L436.68,244.02 L437.36,244.49 L438.00,245.00 L438.60,245.53 L439.17,246.10 L439.73,246.71 L440.27,247.38 L440.79,248.10 L441.30,248.90 L441.78,249.77 L442.22,250.69 L442.64,251.68 L443.07,252.73 L443.52,253.84 L444.00,255.00 L444.54,256.28 L445.11,257.70 L445.71,259.18 L446.30,260.64 L446.87,262.01 L447.40,263.20 L447.87,264.19 L448.29,265.03 L448.69,265.77 L449.10,266.48 L449.52,267.20 L450.00,268.00 L450.56,268.91 L451.19,269.90 L451.84,270.90 L452.47,271.86 L453.04,272.71 L453.50,273.40 L453.85,273.91 L454.11,274.27 L454.32,274.54 L454.47,274.73 L454.60,274.87 L454.70,275.00" fill="none" stroke="#b81c1c" stroke-width="1.3" stroke-linejoin="round" stroke-linecap="round"/>
</g>
<clipPath id="clipe"><rect x="254.5" y="208.8" width="200.2" height="161.0"/></clipPath>
<path d="M290.85,218.6 V335" stroke="#3a3a3a" stroke-width="1.5" stroke-dasharray="1.4 5.7"/>
<rect x="254.5" y="208.8" width="200.2" height="161.0" fill="none" stroke="#262626" stroke-width="1.3"/>
<path d="M254.5,369.30 h-3.2 M254.5,337.20 h-3.2 M254.5,305.10 h-3.2 M254.5,273.00 h-3.2 M254.5,240.90 h-3.2 M254.5,208.80 h-3.2" stroke="#222" stroke-width="1.2"/>
<path d="M254.5,353.25 h-2.0 M254.5,321.15 h-2.0 M254.5,289.05 h-2.0 M254.5,256.95 h-2.0 M254.5,224.85 h-2.0" stroke="#222" stroke-width="1.2"/>
<path d="M287.79,369.8 v3.2 M321.17,369.8 v3.2 M354.56,369.8 v3.2 M387.94,369.8 v3.2 M421.32,369.8 v3.2 M454.71,369.8 v3.2" stroke="#222" stroke-width="1.2"/>
<path d="M271.09,369.8 v2.0 M304.48,369.8 v2.0 M337.86,369.8 v2.0 M371.25,369.8 v2.0 M404.63,369.8 v2.0 M438.02,369.8 v2.0" stroke="#222" stroke-width="1.2"/>
<text x="248.6" y="372.3" font-size="8.5" fill="#141414" text-anchor="end" font-weight="bold" stroke="#141414" stroke-width="0.22">0</text>
<text x="248.6" y="340.2" font-size="8.5" fill="#141414" text-anchor="end" font-weight="bold" stroke="#141414" stroke-width="0.22">20</text>
<text x="248.6" y="308.1" font-size="8.5" fill="#141414" text-anchor="end" font-weight="bold" stroke="#141414" stroke-width="0.22">40</text>
<text x="248.6" y="276.0" font-size="8.5" fill="#141414" text-anchor="end" font-weight="bold" stroke="#141414" stroke-width="0.22">60</text>
<text x="248.6" y="243.9" font-size="8.5" fill="#141414" text-anchor="end" font-weight="bold" stroke="#141414" stroke-width="0.22">80</text>
<text x="248.6" y="211.8" font-size="8.5" fill="#141414" text-anchor="end" font-weight="bold" stroke="#141414" stroke-width="0.22">100</text>
<text x="287.8" y="381.8" font-size="8.5" fill="#141414" text-anchor="middle" font-weight="bold" stroke="#141414" stroke-width="0.22">3500</text>
<text x="321.2" y="381.8" font-size="8.5" fill="#141414" text-anchor="middle" font-weight="bold" stroke="#141414" stroke-width="0.22">3000</text>
<text x="354.6" y="381.8" font-size="8.5" fill="#141414" text-anchor="middle" font-weight="bold" stroke="#141414" stroke-width="0.22">2500</text>
<text x="387.9" y="381.8" font-size="8.5" fill="#141414" text-anchor="middle" font-weight="bold" stroke="#141414" stroke-width="0.22">2000</text>
<text x="421.3" y="381.8" font-size="8.5" fill="#141414" text-anchor="middle" font-weight="bold" stroke="#141414" stroke-width="0.22">1500</text>
<text x="454.7" y="381.8" font-size="8.5" fill="#141414" text-anchor="middle" font-weight="bold" stroke="#141414" stroke-width="0.22">1000</text>
<text x="354.4" y="398.3" font-size="9.95" fill="#141414" text-anchor="middle" font-weight="bold" stroke="#141414" stroke-width="0.22">Wavenumbers (cm<tspan dy="-0.42em" font-size="66%">-</tspan><tspan dy="0.277em">​</tspan><tspan dy="-0.42em" font-size="66%">1</tspan><tspan dy="0.277em">​</tspan>)</text>
<text x="231.4" y="289.3" font-size="9.85" fill="#141414" text-anchor="middle" font-weight="bold" transform="rotate(-90 231.4 289.3)" stroke="#141414" stroke-width="0.22">Transmittance (%)</text>
<text x="265.5" y="236.8" font-size="24" fill="#000" text-anchor="start" font-weight="bold" stroke="#000" stroke-width="0.22">e</text>
<path d="M394.3,310.8 H410.1" stroke="#555555" stroke-width="1.2"/>
<text x="412" y="313.2" font-size="6.7" fill="#141414" text-anchor="start" font-weight="bold" stroke="#141414" stroke-width="0.22">Nb<tspan dy="0.33em" font-size="66%">2</tspan><tspan dy="-0.218em">​</tspan>O<tspan dy="0.33em" font-size="66%">5</tspan><tspan dy="-0.218em">​</tspan></text>
<path d="M394.3,320.9 H410.1" stroke="#5b9bbf" stroke-width="1.2"/>
<text x="412" y="323.3" font-size="6.7" fill="#141414" text-anchor="start" font-weight="bold" stroke="#141414" stroke-width="0.22">H<tspan dy="0.33em" font-size="66%">2</tspan><tspan dy="-0.218em">​</tspan>-Nb<tspan dy="0.33em" font-size="66%">2</tspan><tspan dy="-0.218em">​</tspan>O<tspan dy="0.33em" font-size="66%">5</tspan><tspan dy="-0.218em">​</tspan></text>
<path d="M394.3,331.0 H410.1" stroke="#ffd54a" stroke-width="1.2"/>
<text x="412" y="333.4" font-size="6.7" fill="#141414" text-anchor="start" font-weight="bold" stroke="#141414" stroke-width="0.22">673K-Nb<tspan dy="0.33em" font-size="66%">2</tspan><tspan dy="-0.218em">​</tspan>O<tspan dy="0.33em" font-size="66%">5</tspan><tspan dy="-0.218em">​</tspan></text>
<path d="M394.3,341.1 H410.1" stroke="#ff8a36" stroke-width="1.2"/>
<text x="412" y="343.5" font-size="6.7" fill="#141414" text-anchor="start" font-weight="bold" stroke="#141414" stroke-width="0.22">773K-Nb<tspan dy="0.33em" font-size="66%">2</tspan><tspan dy="-0.218em">​</tspan>O<tspan dy="0.33em" font-size="66%">5</tspan><tspan dy="-0.218em">​</tspan></text>
<path d="M394.3,351.2 H410.1" stroke="#b81c1c" stroke-width="1.2"/>
<text x="412" y="353.6" font-size="6.7" fill="#141414" text-anchor="start" font-weight="bold" stroke="#141414" stroke-width="0.22">873K-Nb<tspan dy="0.33em" font-size="66%">2</tspan><tspan dy="-0.218em">​</tspan>O<tspan dy="0.33em" font-size="66%">5</tspan><tspan dy="-0.218em">​</tspan></text>
<path d="M394.3,361.3 H410.1" stroke="#a3109f" stroke-width="1.2"/>
<text x="412" y="363.7" font-size="6.7" fill="#141414" text-anchor="start" font-weight="bold" stroke="#141414" stroke-width="0.22">973K-Nb<tspan dy="0.33em" font-size="66%">2</tspan><tspan dy="-0.218em">​</tspan>O<tspan dy="0.33em" font-size="66%">5</tspan><tspan dy="-0.218em">​</tspan></text>
<g clip-path="url(#clipf)">
<path d="M478.30,287.78 L478.90,287.92 L479.50,288.50 L480.10,288.38 L480.70,288.13 L481.30,288.21 L481.90,287.93 L482.50,288.55 L483.10,288.15 L483.70,288.59 L484.30,288.36 L484.90,287.88 L485.50,288.12 L486.10,288.02 L486.70,288.64 L487.30,288.37 L487.90,287.88 L488.50,288.00 L489.10,288.18 L489.70,288.28 L490.30,288.39 L490.90,288.22 L491.50,288.20 L492.10,287.89 L492.70,288.41 L493.30,288.20 L493.90,287.92 L494.50,288.32 L495.10,288.80 L495.70,287.96 L496.30,288.06 L496.90,288.54 L497.50,288.18 L498.10,288.19 L498.70,288.40 L499.30,288.19 L499.90,288.47 L500.50,288.44 L501.10,288.83 L501.70,288.87 L502.30,288.02 L502.90,288.50 L503.50,288.69 L504.10,288.79 L504.70,288.71 L505.30,288.58 L505.90,288.59 L506.50,288.35 L507.10,288.29 L507.70,288.75 L508.30,288.83 L508.90,288.89 L509.50,288.67 L510.10,288.33 L510.70,288.75 L511.30,288.74 L511.90,288.54 L512.50,288.66 L513.10,288.41 L513.70,288.59 L514.30,288.47 L514.90,288.16 L515.50,288.42 L516.10,288.41 L516.70,289.02 L517.30,288.57 L517.90,288.47 L518.50,288.36 L519.10,288.36 L519.70,288.47 L520.30,288.28 L520.90,288.17 L521.50,288.96 L522.10,288.59 L522.70,288.59 L523.30,288.70 L523.90,288.47 L524.50,288.35 L525.10,288.27 L525.70,288.49 L526.30,288.50 L526.90,288.88 L527.50,288.73 L528.10,289.08 L528.70,288.55 L529.30,289.08 L529.90,288.78 L530.50,288.33 L531.10,288.43 L531.70,288.80 L532.30,289.17 L532.90,288.61 L533.50,288.99 L534.10,288.68 L534.70,289.08 L535.30,288.37 L535.90,288.75 L536.50,289.13 L537.10,288.57 L537.70,288.56 L538.30,288.36 L538.90,288.49 L539.50,288.59 L540.10,288.99 L540.70,288.56 L541.30,288.73 L541.90,288.55 L542.50,288.92 L543.10,289.16 L543.70,288.97 L544.30,288.57 L544.90,289.06 L545.50,289.27 L546.10,288.95 L546.70,288.49 L547.30,289.15 L547.90,289.22 L548.50,288.74 L549.10,288.57 L549.70,288.62 L550.30,288.94 L550.90,289.25 L551.50,289.04 L552.10,289.30 L552.70,288.67 L553.30,288.78 L553.90,289.16 L554.50,289.08 L555.10,288.87 L555.70,289.12 L556.30,288.82 L556.90,288.57 L557.50,288.90 L558.10,288.57 L558.70,289.10 L559.30,288.84 L559.90,288.99 L560.50,289.07 L561.10,288.74 L561.70,288.91 L562.30,288.49 L562.90,289.29 L563.50,288.94 L564.10,289.30 L564.70,288.44 L565.30,288.93 L565.90,289.01 L566.50,288.63 L567.10,288.40 L567.70,288.43 L568.30,288.40 L568.90,288.94 L569.50,288.31 L570.10,288.95 L570.70,288.57 L571.30,288.66 L571.90,288.68 L572.50,288.63 L573.10,288.70 L573.70,288.63 L574.30,288.37 L574.90,288.72 L575.50,287.95 L576.10,287.96 L576.70,288.24 L577.30,289.75 L577.90,289.61 L578.50,289.71 L579.10,289.63 L579.70,289.18 L580.30,289.04 L580.90,289.28 L581.50,289.67 L582.10,288.96 L582.70,288.86 L583.30,289.30 L583.90,289.48 L584.50,289.60 L585.10,289.25 L585.70,289.83 L586.30,289.16 L586.90,289.66 L587.50,289.07 L588.10,289.04 L588.70,289.15 L589.30,289.10 L589.90,289.51 L590.50,289.58 L591.10,289.26 L591.70,289.96 L592.30,289.46 L592.90,289.28 L593.50,289.32 L594.10,289.85 L594.70,290.03 L595.30,289.36 L595.90,289.26 L596.50,289.95 L597.10,289.49 L597.70,290.17 L598.30,289.75 L598.90,289.89 L599.50,289.65 L600.10,290.07 L600.70,289.77 L601.30,289.64 L601.90,290.17 L602.50,289.45 L603.10,290.02 L603.70,289.42 L604.30,289.94 L604.90,289.72 L605.50,290.14 L606.10,289.42 L606.70,289.87 L607.30,289.74 L607.90,290.20 L608.50,290.22 L609.10,289.94 L609.70,289.58 L610.30,289.60 L610.90,289.61 L611.50,289.77 L612.10,289.59 L612.70,289.57 L613.30,290.07 L613.90,289.96 L614.50,289.66 L615.10,290.28 L615.70,289.58 L616.30,289.90 L616.90,289.53 L617.50,290.17 L618.10,290.18 L618.70,289.64 L619.30,290.08 L619.90,290.14 L620.50,289.66 L621.10,289.70 L621.70,289.84 L622.30,290.21 L622.90,289.55 L623.50,290.02 L624.10,289.95 L624.70,289.82 L625.30,289.94 L625.90,290.21 L626.50,289.61 L627.10,290.21 L627.70,289.74 L628.30,290.12 L628.90,290.20 L629.50,289.59 L630.10,290.20 L630.70,290.32 L631.30,289.70 L631.90,289.45 L632.50,289.53 L633.10,290.31 L633.70,289.44 L634.30,290.26 L634.90,289.57 L635.50,290.10 L636.10,289.53 L636.70,289.60 L637.30,290.06 L637.90,289.53 L638.50,289.75 L639.10,290.28 L639.70,290.10 L640.30,290.25 L640.90,290.34 L641.50,289.49 L642.10,289.67 L642.70,290.17 L643.30,290.08 L643.90,289.50 L644.50,289.92 L645.10,289.67 L645.70,289.85 L646.30,289.56 L646.90,289.49 L647.50,290.36 L648.10,289.76 L648.70,290.26 L649.30,289.58 L649.90,289.92 L650.50,289.60 L651.10,289.87 L651.70,289.64 L652.30,290.10 L652.90,289.62 L653.50,290.15 L654.10,289.94 L654.70,289.59 L655.30,289.81 L655.90,289.94 L656.50,290.32 L657.10,289.81 L657.70,289.69 L658.30,290.37 L658.90,290.30 L659.50,290.16 L660.10,289.75 L660.70,289.66 L661.30,289.74 L661.90,289.57 L662.50,289.55 L663.10,289.97 L663.70,289.88 L664.30,290.01 L664.90,289.84 L665.50,289.53 L666.10,290.14 L666.70,290.11 L667.30,290.01 L667.90,290.02 L668.50,290.15 L669.10,290.41 L669.70,290.31 L670.30,290.18 L670.90,289.89 L671.50,289.82 L672.10,289.91 L672.70,290.41 L673.30,289.89 L673.90,289.89 L674.50,289.91 L675.10,289.67 L675.70,290.44 L676.30,289.55 L676.90,290.09 L677.50,290.38 L678.10,289.78" fill="none" stroke="#555555" stroke-width="1.0" stroke-linejoin="round" stroke-linecap="round"/>
<path d="M478.30,285.76 L478.90,285.39 L479.50,285.17 L480.10,285.07 L480.70,284.92 L481.30,285.90 L481.90,285.78 L482.50,285.92 L483.10,284.68 L483.70,285.55 L484.30,285.00 L484.90,285.41 L485.50,285.24 L486.10,284.88 L486.70,285.76 L487.30,284.36 L487.90,285.37 L488.50,285.48 L489.10,284.97 L489.70,285.05 L490.30,285.60 L490.90,284.55 L491.50,285.11 L492.10,285.28 L492.70,284.78 L493.30,285.26 L493.90,284.83 L494.50,285.03 L495.10,285.16 L495.70,285.26 L496.30,284.78 L496.90,285.22 L497.50,285.11 L498.10,284.67 L498.70,285.23 L499.30,284.76 L499.90,285.67 L500.50,285.11 L501.10,285.51 L501.70,285.28 L502.30,285.27 L502.90,284.97 L503.50,284.91 L504.10,286.07 L504.70,285.56 L505.30,285.61 L505.90,285.67 L506.50,286.12 L507.10,285.37 L507.70,285.33 L508.30,286.30 L508.90,285.85 L509.50,286.15 L510.10,286.46 L510.70,286.59 L511.30,286.59 L511.90,285.47 L512.50,285.98 L513.10,286.65 L513.70,286.67 L514.30,285.73 L514.90,285.81 L515.50,285.98 L516.10,285.81 L516.70,286.20 L517.30,286.86 L517.90,286.50 L518.50,286.44 L519.10,285.97 L519.70,286.44 L520.30,287.31 L520.90,286.91 L521.50,286.59 L522.10,286.65 L522.70,287.13 L523.30,287.09 L523.90,286.27 L524.50,287.03 L525.10,286.62 L525.70,286.86 L526.30,286.48 L526.90,286.70 L527.50,286.68 L528.10,286.76 L528.70,286.27 L529.30,286.55 L529.90,287.09 L530.50,286.40 L531.10,286.59 L531.70,287.37 L532.30,286.78 L532.90,286.87 L533.50,286.78 L534.10,287.63 L534.70,286.62 L535.30,287.40 L535.90,287.74 L536.50,286.84 L537.10,287.18 L537.70,287.72 L538.30,287.50 L538.90,287.18 L539.50,286.74 L540.10,287.32 L540.70,287.24 L541.30,287.74 L541.90,287.17 L542.50,287.35 L543.10,287.70 L543.70,287.95 L544.30,287.32 L544.90,287.39 L545.50,287.68 L546.10,288.18 L546.70,287.17 L547.30,288.28 L547.90,287.93 L548.50,287.48 L549.10,287.90 L549.70,287.45 L550.30,287.11 L550.90,288.09 L551.50,287.58 L552.10,287.80 L552.70,287.78 L553.30,288.36 L553.90,288.18 L554.50,287.17 L555.10,287.98 L555.70,287.82 L556.30,287.84 L556.90,288.38 L557.50,287.81 L558.10,287.91 L558.70,288.51 L559.30,287.89 L559.90,287.98 L560.50,287.98 L561.10,288.38 L561.70,288.13 L562.30,288.18 L562.90,287.67 L563.00,287.80 L563.56,287.65 L564.38,287.43 L565.25,287.17 L566.00,286.90 L566.59,286.62 L567.11,286.31 L567.57,285.98 L568.00,285.60 L568.36,285.22 L568.67,284.83 L568.96,284.35 L569.30,283.70 L569.70,282.87 L570.14,281.89 L570.58,280.77 L571.00,279.50 L571.39,278.14 L571.76,276.68 L572.13,275.00 L572.50,273.00 L572.88,270.73 L573.25,268.22 L573.62,265.35 L574.00,262.00 L574.38,257.92 L574.77,253.25 L575.15,248.45 L575.50,244.00 L575.81,239.84 L576.10,235.78 L576.36,232.08 L576.60,229.00 L576.81,226.40 L576.98,224.22 L577.14,222.80 L577.30,222.50 L577.46,223.27 L577.62,224.97 L577.77,227.81 L577.90,232.00 L578.02,237.87 L578.12,245.22 L578.21,253.46 L578.30,262.00 L578.38,271.01 L578.44,280.69 L578.51,290.52 L578.60,300.00 L578.70,309.25 L578.81,318.46 L578.94,327.19 L579.10,335.00 L579.30,342.23 L579.54,348.96 L579.78,354.36 L580.00,357.60 L580.19,358.04 L580.37,356.28 L580.54,353.27 L580.70,350.00 L580.84,346.34 L580.97,341.90 L581.11,337.26 L581.30,333.00 L581.55,329.24 L581.84,325.69 L582.16,322.29 L582.50,319.00 L582.85,315.73 L583.23,312.53 L583.62,309.57 L584.00,307.00 L584.34,304.96 L584.64,303.34 L585.01,301.93 L585.50,300.50 L586.18,298.97 L586.99,297.46 L587.85,296.09 L588.70,295.00 L589.50,294.27 L590.30,293.81 L591.12,293.50 L592.00,293.20 L592.95,292.90 L593.96,292.67 L594.98,292.48 L596.00,292.30 L597.09,292.14 L598.25,291.99 L599.28,291.88 L600.00,291.80 L600.00,291.49 L600.60,292.19 L601.20,292.04 L601.80,292.26 L602.40,292.25 L603.00,291.52 L603.60,291.62 L604.20,291.45 L604.80,292.25 L605.40,291.45 L606.00,291.43 L606.60,292.15 L607.20,291.93 L607.80,291.35 L608.40,292.03 L609.00,292.05 L609.60,291.79 L610.20,291.31 L610.80,291.99 L611.40,291.68 L612.00,291.85 L612.60,292.30 L613.20,292.08 L613.80,292.13 L614.40,291.32 L615.00,291.52 L615.60,291.71 L616.20,291.13 L616.80,292.20 L617.40,291.40 L618.00,291.38 L618.60,291.42 L619.20,291.35 L619.80,292.00 L620.40,291.66 L621.00,291.61 L621.60,291.50 L622.20,291.10 L622.80,291.37 L623.40,291.99 L624.00,291.91 L624.60,291.97 L625.20,291.31 L625.80,291.24 L626.40,291.08 L627.00,291.61 L627.60,291.42 L628.20,291.52 L628.80,291.54 L629.40,291.65 L630.00,291.40 L630.60,291.88 L631.20,291.21 L631.80,292.00 L632.40,291.60 L633.00,291.04 L633.60,291.33 L634.20,291.57 L634.80,291.43 L635.40,291.59 L636.00,291.33 L636.60,291.27 L637.20,291.84 L637.80,291.28 L638.40,291.74 L639.00,291.84 L639.60,291.60 L640.20,291.45 L640.80,291.98 L641.40,291.44 L642.00,291.92 L642.60,291.02 L643.20,291.44 L643.80,291.66 L644.40,291.02 L645.00,291.91 L645.60,291.04 L646.20,291.62 L646.80,291.17 L647.40,291.98 L648.00,291.59 L648.60,291.85 L649.20,291.52 L649.80,291.72 L650.40,291.72 L651.00,291.30 L651.60,291.21 L652.20,291.90 L652.80,291.14 L653.40,291.99 L654.00,291.21 L654.60,291.10 L655.20,291.09 L655.80,291.85 L656.40,292.04 L657.00,291.45 L657.60,291.72 L658.20,291.28 L658.80,292.00 L659.40,291.76 L660.00,291.17 L660.60,291.07 L661.20,291.77 L661.80,291.05 L662.40,291.93 L663.00,291.33 L663.60,291.27 L664.20,291.65 L664.80,291.37 L665.40,291.63 L666.00,291.19 L666.60,292.02 L667.20,291.38 L667.80,291.95 L668.40,291.19 L669.00,291.90 L669.60,292.11 L670.20,291.46 L670.80,291.07 L671.40,291.45 L672.00,291.74 L672.60,291.28 L673.20,291.64 L673.80,291.14 L674.40,291.55 L675.00,291.84 L675.60,291.52 L676.20,291.79 L676.80,291.17 L677.40,291.96 L678.00,291.18" fill="none" stroke="#5292ae" stroke-width="1.4" stroke-linejoin="round" stroke-linecap="round"/>
<path d="M478.30,287.71 L478.90,287.78 L479.50,287.71 L480.10,287.20 L480.70,286.91 L481.30,286.96 L481.90,287.44 L482.50,287.12 L483.10,287.63 L483.70,286.61 L484.30,287.07 L484.90,287.52 L485.50,287.19 L486.10,287.11 L486.70,286.56 L487.30,286.61 L487.90,286.75 L488.50,287.49 L489.10,287.42 L489.70,286.67 L490.30,287.49 L490.90,286.41 L491.50,287.08 L492.10,287.51 L492.70,286.75 L493.30,287.46 L493.90,287.11 L494.50,286.37 L495.10,286.70 L495.70,286.87 L496.30,286.66 L496.90,287.28 L497.50,286.63 L498.10,287.39 L498.70,286.83 L499.30,286.58 L499.90,287.20 L500.50,286.67 L501.10,287.25 L501.70,287.56 L502.30,287.36 L502.90,287.22 L503.50,286.74 L504.10,287.34 L504.70,286.87 L505.30,287.56 L505.90,286.97 L506.50,287.53 L507.10,287.29 L507.70,287.34 L508.30,287.72 L508.90,287.15 L509.50,287.18 L510.10,288.13 L510.70,287.42 L511.30,288.06 L511.90,288.11 L512.50,287.66 L513.10,287.29 L513.70,287.24 L514.30,288.21 L514.90,287.31 L515.50,287.79 L516.10,287.86 L516.70,287.38 L517.30,287.82 L517.90,287.47 L518.50,287.94 L519.10,287.93 L519.70,287.78 L520.30,287.60 L520.90,287.87 L521.50,287.65 L522.10,287.58 L522.70,287.73 L523.30,288.51 L523.90,288.09 L524.50,288.58 L525.10,287.55 L525.70,288.68 L526.30,288.16 L526.90,288.54 L527.50,288.30 L528.10,288.46 L528.70,287.93 L529.30,288.58 L529.90,287.88 L530.50,288.03 L531.10,287.76 L531.70,288.20 L532.30,288.36 L532.90,288.10 L533.50,288.83 L534.10,287.87 L534.70,288.47 L535.30,288.07 L535.90,288.51 L536.50,288.75 L537.10,288.67 L537.70,287.90 L538.30,288.13 L538.90,288.57 L539.50,289.04 L540.10,287.92 L540.70,288.62 L541.30,288.72 L541.90,288.88 L542.50,288.32 L543.10,288.89 L543.70,288.48 L544.30,289.04 L544.90,287.96 L545.50,289.09 L546.10,288.46 L546.70,288.47 L547.30,288.09 L547.90,288.29 L548.50,288.89 L549.10,288.83 L549.70,288.21 L550.30,288.45 L550.90,288.22 L551.50,288.30 L552.10,288.33 L552.70,288.48 L553.30,289.26 L553.90,289.30 L554.50,289.06 L555.10,288.69 L555.70,288.73 L556.30,289.07 L556.90,289.24 L557.50,289.06 L558.10,288.93 L558.70,288.42 L559.30,288.94 L559.90,289.21 L560.50,289.10 L561.10,288.22 L561.70,288.92 L562.30,288.44 L562.90,288.16 L563.50,289.08 L564.10,288.68 L564.70,288.72 L565.00,288.40 L565.55,288.24 L566.34,288.02 L567.21,287.76 L568.00,287.50 L568.67,287.26 L569.31,287.01 L569.92,286.73 L570.50,286.40 L571.05,286.05 L571.56,285.69 L572.05,285.23 L572.50,284.60 L572.92,283.78 L573.31,282.81 L573.67,281.71 L574.00,280.50 L574.29,278.89 L574.54,276.96 L574.78,275.31 L575.00,274.50 L575.22,274.76 L575.43,275.77 L575.62,277.26 L575.80,279.00 L575.96,281.05 L576.10,283.49 L576.24,286.11 L576.40,288.70 L576.58,291.31 L576.78,294.02 L576.99,296.64 L577.20,299.00 L577.42,301.24 L577.64,303.39 L577.87,305.10 L578.10,306.00 L578.32,305.79 L578.54,304.72 L578.77,303.30 L579.00,302.00 L579.23,300.85 L579.46,299.63 L579.71,298.44 L580.00,297.40 L580.35,296.52 L580.76,295.74 L581.16,295.07 L581.50,294.50 L581.73,294.06 L581.88,293.75 L582.07,293.49 L582.40,293.20 L582.90,292.86 L583.52,292.51 L584.23,292.18 L585.00,291.90 L585.79,291.68 L586.62,291.49 L587.57,291.34 L588.70,291.20 L590.12,291.08 L591.77,290.98 L593.46,290.89 L595.00,290.80 L596.46,290.71 L597.89,290.62 L599.13,290.55 L600.00,290.50 L600.00,290.23 L600.60,290.92 L601.20,291.03 L601.80,290.99 L602.40,290.82 L603.00,290.90 L603.60,290.87 L604.20,290.65 L604.80,290.49 L605.40,290.87 L606.00,290.82 L606.60,290.90 L607.20,290.33 L607.80,290.98 L608.40,290.55 L609.00,290.96 L609.60,290.12 L610.20,290.97 L610.80,290.78 L611.40,290.24 L612.00,290.82 L612.60,290.21 L613.20,290.17 L613.80,290.42 L614.40,290.19 L615.00,290.44 L615.60,290.85 L616.20,290.62 L616.80,290.64 L617.40,290.32 L618.00,290.70 L618.60,290.71 L619.20,290.59 L619.80,290.84 L620.40,290.72 L621.00,290.30 L621.60,289.97 L622.20,290.53 L622.80,290.71 L623.40,290.21 L624.00,290.45 L624.60,290.69 L625.20,290.64 L625.80,289.85 L626.40,290.33 L627.00,289.85 L627.60,289.93 L628.20,290.63 L628.80,290.23 L629.40,290.41 L630.00,290.26 L630.60,290.13 L631.20,290.00 L631.80,290.14 L632.40,290.62 L633.00,290.39 L633.60,290.06 L634.20,289.85 L634.80,290.02 L635.40,290.45 L636.00,290.18 L636.60,290.39 L637.20,290.54 L637.80,289.84 L638.40,290.40 L639.00,289.75 L639.60,290.53 L640.20,289.88 L640.80,289.97 L641.40,290.65 L642.00,290.06 L642.60,289.92 L643.20,290.58 L643.80,290.30 L644.40,290.58 L645.00,290.08 L645.60,290.19 L646.20,290.64 L646.80,290.19 L647.40,290.67 L648.00,289.87 L648.60,290.51 L649.20,289.84 L649.80,290.20 L650.40,289.67 L651.00,289.85 L651.60,290.61 L652.20,290.12 L652.80,290.48 L653.40,289.92 L654.00,290.02 L654.60,289.76 L655.20,290.21 L655.80,290.52 L656.40,290.17 L657.00,290.03 L657.60,290.58 L658.20,290.55 L658.80,290.32 L659.40,289.73 L660.00,290.27 L660.60,290.09 L661.20,290.60 L661.80,290.01 L662.40,290.30 L663.00,290.27 L663.60,290.01 L664.20,290.16 L664.80,290.31 L665.40,290.54 L666.00,290.13 L666.60,289.99 L667.20,290.61 L667.80,289.68 L668.40,290.46 L669.00,290.31 L669.60,290.18 L670.20,290.07 L670.80,290.37 L671.40,290.51 L672.00,290.35 L672.60,290.36 L673.20,289.65 L673.80,289.94 L674.40,289.75 L675.00,290.56 L675.60,290.50 L676.20,289.75 L676.80,290.19 L677.40,290.18 L678.00,289.65" fill="none" stroke="#c0262b" stroke-width="1.4" stroke-linejoin="round" stroke-linecap="round"/>
</g>
<clipPath id="clipf"><rect x="478.4" y="208.8" width="200.0" height="160.8"/></clipPath>
<rect x="478.4" y="208.8" width="200.0" height="160.8" fill="none" stroke="#262626" stroke-width="1.3"/>
<path d="M499.30,369.6 v3.2 M551.80,369.6 v3.2 M604.30,369.6 v3.2 M656.80,369.6 v3.2" stroke="#222" stroke-width="1.2"/>
<path d="M525.55,369.6 v2.0 M578.05,369.6 v2.0 M630.55,369.6 v2.0" stroke="#222" stroke-width="1.2"/>
<text x="499.3" y="381.7" font-size="8.5" fill="#141414" text-anchor="middle" font-weight="bold" stroke="#141414" stroke-width="0.22">3450</text>
<text x="551.8" y="381.7" font-size="8.5" fill="#141414" text-anchor="middle" font-weight="bold" stroke="#141414" stroke-width="0.22">3500</text>
<text x="604.3" y="381.7" font-size="8.5" fill="#141414" text-anchor="middle" font-weight="bold" stroke="#141414" stroke-width="0.22">3550</text>
<text x="656.8" y="381.7" font-size="8.5" fill="#141414" text-anchor="middle" font-weight="bold" stroke="#141414" stroke-width="0.22">3600</text>
<text x="578.7" y="397.2" font-size="9.9" fill="#141414" text-anchor="middle" font-weight="bold" stroke="#141414" stroke-width="0.22">Magnetic Field (Gauss)</text>
<clipPath id="clipfy"><rect x="466.5" y="240" width="20" height="100"/></clipPath>
<g clip-path="url(#clipfy)">
<text x="471.6" y="288.8" font-size="9.7" fill="#141414" text-anchor="middle" font-weight="bold" transform="rotate(-90 471.6 288.8)" stroke="#141414" stroke-width="0.22">Intensity (a.u.)</text>
</g>
<text x="487" y="237.7" font-size="24" fill="#000" text-anchor="start" font-weight="bold" stroke="#000" stroke-width="0.22">f</text>
<path d="M595.2,271.3 L584.06,283.19" stroke="#5292ae" stroke-width="1.3"/>
<path d="M580.3,287.2 L582.16,281.41 L585.96,284.96 Z" fill="#5292ae"/>
<path d="M556.9,307.8 L570.70,295.47" stroke="#c0262b" stroke-width="1.3"/>
<path d="M574.8,291.8 L572.43,297.40 L568.97,293.53 Z" fill="#c0262b"/>
<text x="604.6" y="266.4" font-size="10" fill="#5292ae" text-anchor="middle" font-weight="bold" stroke="#5292ae" stroke-width="0.22">g=2.004</text>
<text x="550.9" y="322.9" font-size="10" fill="#b8222a" text-anchor="middle" font-weight="bold" stroke="#b8222a" stroke-width="0.22">g=2.004</text>
<path d="M620,216.6 H635.7" stroke="#555555" stroke-width="1.0"/>
<text x="637.8" y="219.0" font-size="6.8" fill="#141414" text-anchor="start" font-weight="bold" stroke="#141414" stroke-width="0.22">Nb<tspan dy="0.33em" font-size="66%">2</tspan><tspan dy="-0.218em">​</tspan>O<tspan dy="0.33em" font-size="66%">5</tspan><tspan dy="-0.218em">​</tspan></text>
<path d="M620,226.8 H635.7" stroke="#c0262b" stroke-width="1.5"/>
<text x="637.8" y="229.2" font-size="6.8" fill="#141414" text-anchor="start" font-weight="bold" stroke="#141414" stroke-width="0.22">873K-Nb<tspan dy="0.33em" font-size="66%">2</tspan><tspan dy="-0.218em">​</tspan>O<tspan dy="0.33em" font-size="66%">5</tspan><tspan dy="-0.218em">​</tspan></text>
<path d="M620,237.0 H635.7" stroke="#5292ae" stroke-width="1.5"/>
<text x="637.8" y="239.4" font-size="6.8" fill="#141414" text-anchor="start" font-weight="bold" stroke="#141414" stroke-width="0.22">H<tspan dy="0.33em" font-size="66%">2</tspan><tspan dy="-0.218em">​</tspan>-Nb<tspan dy="0.33em" font-size="66%">2</tspan><tspan dy="-0.218em">​</tspan>O<tspan dy="0.33em" font-size="66%">5</tspan><tspan dy="-0.218em">​</tspan></text>
</svg>
</body></html>
